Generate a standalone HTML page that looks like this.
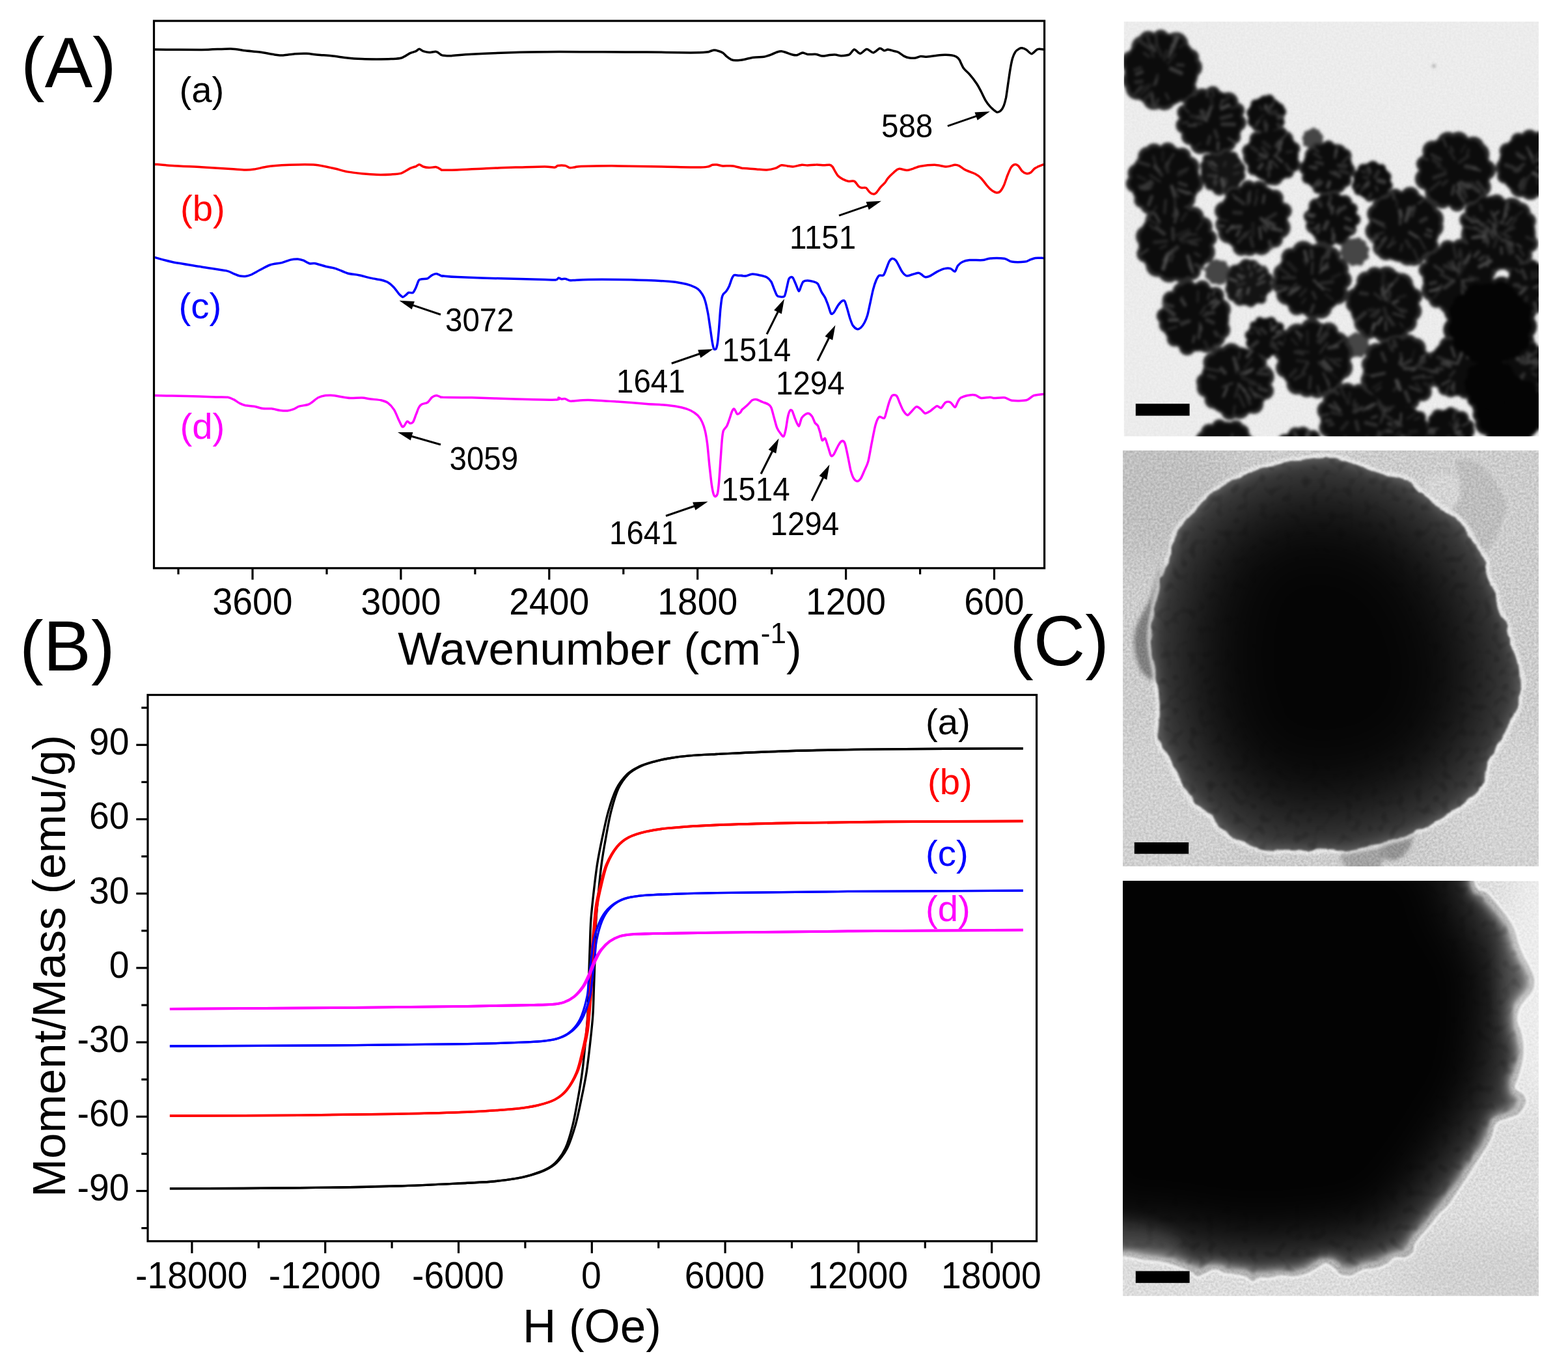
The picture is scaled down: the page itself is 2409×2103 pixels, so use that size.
<!DOCTYPE html>
<html lang="en"><head><meta charset="utf-8"><title>Figure</title>
<style>
html,body{margin:0;padding:0;background:#fff;}
body{width:2409px;height:2103px;overflow:hidden;}
svg{display:block;}
text{font-family:"Liberation Sans","DejaVu Sans",sans-serif;}
</style></head><body>
<svg width="2409" height="2103" viewBox="0 0 2409 2103">
<rect width="2409" height="2103" fill="#fff"/>
<g id="plotA">
<clipPath id="clipA"><rect x="236.5" y="32.1" width="1368.1" height="840.7"/></clipPath>
<g clip-path="url(#clipA)" fill="none" stroke-width="3.5" stroke-linejoin="round" stroke-linecap="round">
<path d="M236.8 76.0 C247.0 76.1 293.2 76.6 309.6 76.5 C326.1 76.3 345.0 74.7 354.4 74.9 C363.8 75.1 370.6 77.1 376.8 77.8 C383.1 78.5 393.0 79.2 399.2 80.0 C405.5 80.9 416.6 83.2 421.7 83.9 C426.7 84.5 430.7 85.1 435.1 85.0 C439.5 84.8 448.0 83.1 453.0 82.7 C458.0 82.4 465.9 82.1 470.9 82.3 C476.0 82.5 483.5 83.8 488.9 84.3 C494.2 84.8 502.8 85.0 509.0 85.7 C515.3 86.3 527.1 88.3 533.7 89.0 C540.3 89.7 549.8 90.3 556.1 90.6 C562.4 90.9 572.2 91.0 578.5 91.0 C584.8 91.0 595.6 90.9 600.9 90.6 C606.2 90.3 612.5 90.3 616.6 89.0 C620.7 87.8 626.9 83.1 630.0 81.6 C633.2 80.2 637.0 79.6 639.0 78.7 C641.0 77.8 642.6 75.3 644.2 75.3 C645.7 75.3 648.1 78.0 650.2 78.7 C652.3 79.4 656.3 80.4 659.2 80.5 C662.0 80.6 667.9 78.9 670.4 79.4 C672.9 79.8 675.7 83.1 677.1 83.9 C678.4 84.6 677.7 84.7 680.0 85.0 C682.3 85.2 687.2 85.9 693.4 85.7 C699.7 85.4 711.0 83.9 724.8 83.2 C738.6 82.5 773.2 81.0 792.0 80.5 C810.9 80.0 840.4 79.7 859.2 79.6 C878.1 79.5 907.6 79.8 926.5 79.8 C945.3 79.9 974.9 79.9 993.7 80.0 C1012.5 80.2 1048.0 80.9 1060.9 80.9 C1073.8 80.9 1081.2 80.4 1085.6 80.0 C1089.9 79.7 1090.6 78.7 1092.3 78.3 C1093.9 77.8 1095.6 77.1 1097.2 77.1 C1098.8 77.1 1101.7 77.7 1103.5 78.3 C1105.3 78.8 1108.3 79.7 1110.2 80.9 C1112.1 82.2 1115.0 85.7 1116.9 87.2 C1118.8 88.7 1121.8 90.9 1123.6 91.7 C1125.5 92.5 1128.1 92.8 1130.4 92.8 C1132.7 92.9 1138.7 92.2 1140.0 92.1 C1141.3 92.1 1137.5 92.7 1140.0 92.1 C1142.5 91.6 1153.2 89.0 1157.9 88.3 C1162.6 87.6 1169.8 87.8 1173.6 87.2 C1177.4 86.6 1182.0 84.9 1184.8 83.9 C1187.6 82.9 1191.6 80.8 1193.8 80.0 C1196.0 79.3 1198.6 78.6 1200.5 78.7 C1202.4 78.8 1204.7 79.7 1207.2 80.5 C1209.7 81.3 1215.9 83.7 1218.4 84.3 C1220.9 84.9 1223.1 85.0 1225.1 84.5 C1227.2 84.1 1230.8 81.1 1233.0 80.9 C1235.2 80.8 1237.8 83.1 1240.8 83.4 C1243.8 83.8 1251.1 83.0 1254.3 83.4 C1257.4 83.8 1260.4 85.9 1263.2 86.1 C1266.1 86.3 1271.6 84.8 1274.4 84.5 C1277.3 84.2 1280.9 83.9 1283.4 84.1 C1285.9 84.2 1289.4 85.7 1292.4 85.7 C1295.3 85.6 1301.9 85.2 1304.7 83.9 C1307.5 82.5 1310.2 76.2 1312.5 76.0 C1314.9 75.8 1318.8 82.4 1321.5 82.3 C1324.2 82.2 1328.8 75.8 1331.6 75.6 C1334.4 75.4 1338.8 81.1 1341.7 80.9 C1344.5 80.8 1349.4 74.7 1351.7 74.2 C1354.1 73.8 1356.7 77.6 1358.5 77.8 C1360.2 78.1 1362.0 76.0 1364.1 76.0 C1366.1 76.1 1370.8 77.7 1373.0 78.3 C1375.2 78.8 1377.6 79.0 1379.7 80.0 C1381.9 81.1 1386.2 84.8 1388.7 86.1 C1391.2 87.4 1395.2 88.6 1397.7 89.0 C1400.2 89.4 1404.3 89.4 1406.6 89.0 C1409.0 88.7 1412.3 86.8 1414.5 86.5 C1416.7 86.3 1419.0 87.4 1422.3 87.2 C1425.6 87.1 1433.9 85.8 1438.0 85.4 C1442.1 85.0 1448.0 84.4 1451.4 84.3 C1454.9 84.2 1460.1 84.6 1462.6 85.0 C1465.2 85.4 1467.8 86.3 1469.4 87.2 C1470.9 88.2 1472.3 89.2 1473.9 91.7 C1475.4 94.2 1478.4 102.0 1480.6 105.1 C1482.8 108.3 1486.7 110.8 1489.5 114.1 C1492.4 117.4 1498.2 124.9 1500.7 128.7 C1503.2 132.4 1505.6 137.4 1507.5 141.0 C1509.3 144.6 1512.3 151.3 1514.2 154.4 C1516.1 157.6 1519.0 161.3 1520.9 163.4 C1522.8 165.5 1526.1 168.4 1527.6 169.7 C1529.2 170.9 1530.7 172.4 1532.1 172.4 C1533.5 172.4 1536.3 171.1 1537.7 169.7 C1539.1 168.3 1541.1 165.0 1542.2 162.3 C1543.3 159.5 1544.6 154.8 1545.6 150.0 C1546.5 145.1 1548.0 133.8 1548.9 127.5 C1549.9 121.3 1551.3 110.5 1552.3 105.1 C1553.2 99.8 1554.5 93.1 1555.6 89.5 C1556.7 85.9 1558.7 81.4 1560.1 79.4 C1561.5 77.3 1564.3 75.7 1565.7 74.9 C1567.1 74.1 1568.6 73.6 1570.2 73.8 C1571.8 74.0 1574.9 75.2 1576.9 76.5 C1579.0 77.7 1582.6 82.7 1584.8 82.7 C1587.0 82.7 1590.9 77.5 1592.6 76.5 C1594.3 75.4 1595.7 75.4 1597.1 75.3 C1598.5 75.3 1601.9 75.9 1602.7 76.0" stroke="#000000"/>
<path d="M236.8 252.2 C240.7 252.5 254.6 253.8 264.8 254.4 C275.0 255.1 297.1 256.0 309.6 256.7 C322.2 257.4 345.0 258.8 354.4 259.4 C363.8 260.0 371.8 260.9 376.8 260.9 C381.9 261.0 385.6 260.7 390.3 260.0 C395.0 259.4 404.5 256.9 410.5 256.0 C416.4 255.1 426.3 254.2 432.9 253.8 C439.4 253.3 450.3 252.9 457.5 252.9 C464.7 252.8 476.9 252.6 484.4 253.3 C491.9 254.1 504.4 256.8 511.3 258.3 C518.2 259.7 527.4 262.7 533.7 263.9 C540.0 265.0 549.8 266.1 556.1 266.8 C562.4 267.4 572.2 268.2 578.5 268.3 C584.8 268.5 595.6 268.2 600.9 267.9 C606.2 267.6 612.5 267.4 616.6 266.1 C620.7 264.8 626.9 260.2 630.0 258.7 C633.2 257.2 637.0 256.4 639.0 255.6 C641.0 254.7 642.6 252.6 644.2 252.7 C645.7 252.7 648.1 255.3 650.2 256.0 C652.3 256.7 656.3 257.5 659.2 257.6 C662.0 257.7 667.7 256.2 670.4 256.7 C673.0 257.2 676.9 260.3 678.2 260.9 C679.6 261.6 676.6 261.2 680.0 261.2 C683.4 261.2 693.0 261.3 702.4 260.9 C711.8 260.6 734.7 259.2 747.2 258.7 C759.8 258.2 779.5 257.5 792.0 257.1 C804.6 256.8 828.4 256.0 836.8 256.0 C845.3 256.0 849.7 257.4 852.5 257.1 C855.4 256.9 854.8 254.8 857.0 254.4 C859.2 254.1 865.7 254.0 868.2 254.4 C870.7 254.9 873.1 257.2 874.9 257.6 C876.8 258.0 879.1 257.4 881.7 257.1 C884.2 256.9 883.4 255.9 892.9 255.6 C902.3 255.3 931.6 254.8 948.9 254.9 C966.1 255.0 998.8 255.7 1016.1 256.0 C1033.3 256.3 1062.1 257.1 1072.1 257.1 C1082.1 257.1 1084.7 256.5 1087.8 256.0 C1090.9 255.5 1092.6 253.7 1094.5 253.3 C1096.4 252.9 1099.0 252.9 1101.2 253.1 C1103.4 253.3 1106.7 254.6 1110.2 254.9 C1113.7 255.1 1121.7 254.4 1125.9 254.9 C1130.1 255.4 1138.0 257.8 1140.0 258.3 C1142.0 258.7 1136.9 258.0 1140.0 258.3 C1143.1 258.5 1157.1 259.7 1162.4 260.0 C1167.7 260.4 1174.0 261.2 1178.1 260.9 C1182.2 260.7 1188.4 259.3 1191.5 258.3 C1194.7 257.3 1198.0 254.2 1200.5 253.8 C1203.0 253.3 1206.9 254.6 1209.5 254.9 C1212.0 255.2 1215.3 256.2 1218.4 256.0 C1221.6 255.8 1228.7 253.6 1231.9 253.3 C1235.0 253.0 1237.7 254.1 1240.8 254.0 C1244.0 253.9 1250.8 252.9 1254.3 252.9 C1257.7 252.8 1262.7 253.7 1265.5 253.8 C1268.3 253.8 1272.6 253.0 1274.4 253.3 C1276.3 253.6 1277.7 254.5 1278.9 256.0 C1280.2 257.5 1282.1 261.8 1283.4 263.9 C1284.7 265.9 1286.3 269.0 1287.9 270.6 C1289.4 272.1 1292.4 274.0 1294.6 275.1 C1296.8 276.2 1301.1 278.0 1303.6 278.4 C1306.1 278.9 1310.3 277.3 1312.5 278.4 C1314.7 279.5 1317.7 284.9 1319.2 286.3 C1320.8 287.7 1322.2 288.2 1323.7 288.5 C1325.3 288.8 1328.7 287.6 1330.5 288.5 C1332.2 289.4 1334.5 293.9 1336.1 295.2 C1337.6 296.6 1340.2 298.0 1341.7 298.1 C1343.1 298.3 1344.6 297.9 1346.1 296.3 C1347.7 294.8 1351.0 289.6 1352.9 287.4 C1354.7 285.2 1358.0 282.5 1359.6 280.7 C1361.1 278.8 1362.2 276.1 1364.1 273.9 C1365.9 271.7 1370.7 267.0 1373.0 265.0 C1375.4 262.9 1378.0 259.8 1380.9 259.4 C1383.7 258.9 1390.2 261.6 1393.2 261.6 C1396.2 261.6 1399.3 260.2 1402.2 259.4 C1405.0 258.5 1408.7 256.4 1413.4 255.6 C1418.1 254.7 1430.1 253.3 1435.8 253.3 C1441.4 253.4 1449.3 256.0 1453.7 256.0 C1458.1 256.0 1464.3 253.5 1467.1 253.3 C1470.0 253.2 1471.7 253.8 1473.9 254.9 C1476.0 256.0 1479.4 259.2 1482.8 260.9 C1486.3 262.7 1495.0 265.4 1498.5 267.2 C1502.0 269.0 1505.0 271.4 1507.5 273.9 C1510.0 276.5 1514.2 282.6 1516.4 285.1 C1518.6 287.7 1521.1 290.4 1523.1 291.9 C1525.2 293.4 1529.1 295.6 1531.0 295.9 C1532.9 296.2 1535.0 295.6 1536.6 294.1 C1538.2 292.6 1540.6 288.6 1542.2 285.1 C1543.8 281.7 1546.2 273.4 1547.8 269.5 C1549.4 265.5 1551.8 259.5 1553.4 257.1 C1555.0 254.8 1557.4 253.0 1559.0 252.7 C1560.6 252.3 1563.0 253.5 1564.6 254.9 C1566.2 256.3 1568.5 261.1 1570.2 262.7 C1571.9 264.4 1575.0 266.2 1576.9 266.5 C1578.8 266.9 1581.8 266.1 1583.6 265.0 C1585.5 263.8 1587.7 260.0 1590.4 258.3 C1593.0 256.6 1601.0 253.6 1602.7 252.9" stroke="#ff0000"/>
<path d="M236.8 395.1 C240.7 396.1 254.6 400.4 264.8 402.5 C275.0 404.6 298.0 408.0 309.6 409.9 C321.2 411.8 340.8 414.5 347.7 415.9 C354.6 417.4 356.1 419.3 358.9 420.4 C361.7 421.5 365.4 423.2 367.9 423.8 C370.4 424.3 374.3 424.7 376.8 424.4 C379.4 424.2 382.7 423.3 385.8 422.0 C388.9 420.6 395.2 416.9 399.2 414.8 C403.3 412.7 410.2 408.5 414.9 407.0 C419.6 405.4 428.5 404.7 432.9 403.6 C437.3 402.5 442.9 399.9 446.3 399.1 C449.8 398.3 454.7 397.9 457.5 398.0 C460.3 398.2 464.0 399.3 466.5 400.2 C469.0 401.2 472.9 404.1 475.4 404.7 C477.9 405.4 480.9 404.1 484.4 404.7 C487.8 405.4 495.7 408.1 500.1 409.2 C504.5 410.3 511.1 411.1 515.8 412.6 C520.5 414.0 528.7 418.3 533.7 419.7 C538.7 421.2 546.6 421.6 551.6 422.7 C556.6 423.7 564.8 426.1 569.5 427.1 C574.2 428.2 581.5 429.1 585.2 430.0 C589.0 431.0 593.6 432.2 596.4 433.9 C599.2 435.5 603.0 439.2 605.4 441.7 C607.7 444.2 611.3 449.7 613.2 451.8 C615.1 453.8 617.4 456.0 618.8 456.3 C620.2 456.5 622.1 454.3 623.3 453.4 C624.6 452.4 626.2 450.1 627.8 449.5 C629.4 449.0 632.9 450.6 634.5 449.5 C636.1 448.4 637.7 444.4 639.0 441.7 C640.3 439.0 642.2 432.3 643.5 430.5 C644.7 428.7 646.1 429.1 648.0 428.7 C649.8 428.3 654.7 428.7 656.9 427.8 C659.1 427.0 661.8 423.7 663.6 422.7 C665.5 421.6 668.5 420.3 670.4 420.4 C672.2 420.5 675.7 422.8 677.1 423.3 C678.4 423.9 679.6 424.2 680.0 424.2 C680.4 424.3 676.9 423.6 680.0 423.8 C683.1 424.0 689.9 425.0 702.4 425.6 C715.0 426.1 750.8 427.3 769.6 427.8 C788.4 428.3 825.1 429.1 836.8 429.4 C848.6 429.7 850.7 430.4 853.6 430.0 C856.6 429.7 856.9 427.3 858.1 427.1 C859.4 426.9 861.2 428.5 862.6 428.7 C864.0 428.9 866.5 428.0 868.2 428.3 C869.9 428.5 873.1 430.2 874.9 430.5 C876.8 430.8 877.6 430.7 881.7 430.5 C885.7 430.3 894.7 429.5 904.1 429.4 C913.5 429.2 936.3 429.2 948.9 429.4 C961.4 429.5 982.7 430.1 993.7 430.5 C1004.7 430.9 1019.8 431.7 1027.3 432.3 C1034.8 432.9 1042.8 434.1 1047.5 435.0 C1052.2 435.8 1057.5 437.1 1060.9 438.3 C1064.4 439.6 1069.6 442.1 1072.1 443.9 C1074.6 445.8 1077.3 449.3 1078.8 451.8 C1080.4 454.3 1082.1 457.6 1083.3 461.9 C1084.6 466.1 1086.7 476.1 1087.8 482.0 C1088.9 488.0 1090.2 498.2 1091.2 504.4 C1092.1 510.7 1093.7 522.5 1094.5 526.8 C1095.3 531.2 1096.0 534.6 1096.8 535.8 C1097.5 537.1 1099.3 537.1 1100.1 535.8 C1100.9 534.6 1101.7 531.2 1102.4 526.8 C1103.0 522.5 1104.0 511.7 1104.6 504.4 C1105.2 497.2 1106.2 481.9 1106.8 475.3 C1107.5 468.7 1108.5 460.7 1109.1 457.4 C1109.7 454.1 1110.4 453.2 1111.3 451.8 C1112.3 450.4 1114.5 449.0 1115.8 447.3 C1117.1 445.6 1119.0 442.3 1120.3 439.5 C1121.5 436.6 1123.7 429.5 1124.8 427.1 C1125.9 424.8 1126.7 423.2 1128.1 422.7 C1129.5 422.1 1133.2 423.2 1134.8 423.3 C1136.5 423.4 1139.3 423.3 1140.0 423.3 C1140.7 423.4 1139.1 423.7 1140.0 423.8 C1140.9 423.8 1144.5 424.2 1146.7 423.8 C1148.9 423.4 1152.9 421.2 1155.7 421.1 C1158.5 420.9 1163.8 422.0 1166.9 422.7 C1170.0 423.3 1175.6 424.6 1178.1 426.0 C1180.6 427.4 1183.2 430.2 1184.8 432.7 C1186.4 435.2 1188.0 441.0 1189.3 443.9 C1190.5 446.9 1192.5 452.4 1193.8 454.0 C1195.0 455.7 1196.7 455.7 1198.3 455.8 C1199.8 456.0 1203.6 456.8 1205.0 455.1 C1206.4 453.5 1207.4 447.5 1208.3 443.9 C1209.3 440.3 1210.8 431.9 1211.7 429.4 C1212.6 426.8 1214.1 425.9 1215.1 425.6 C1216.0 425.3 1217.3 425.5 1218.4 427.1 C1219.5 428.8 1221.6 434.4 1222.9 437.2 C1224.2 440.0 1226.3 447.0 1227.4 447.3 C1228.5 447.6 1229.8 441.5 1230.7 439.5 C1231.7 437.4 1232.7 433.9 1234.1 432.7 C1235.5 431.5 1238.6 430.9 1240.8 430.9 C1243.0 430.9 1247.6 432.0 1249.8 432.7 C1252.0 433.5 1254.8 433.9 1256.5 436.1 C1258.2 438.3 1260.5 445.4 1262.1 448.4 C1263.7 451.4 1266.3 454.6 1267.7 457.4 C1269.1 460.2 1270.9 465.2 1272.2 468.6 C1273.5 472.0 1275.4 480.0 1276.7 481.6 C1277.9 483.2 1279.6 481.6 1281.2 479.8 C1282.7 478.0 1286.0 471.1 1287.9 468.6 C1289.8 466.1 1293.2 462.6 1294.6 461.9 C1296.0 461.1 1297.0 461.4 1298.0 463.0 C1298.9 464.6 1300.2 469.5 1301.3 473.1 C1302.4 476.7 1304.6 485.0 1305.8 488.8 C1307.1 492.5 1308.7 497.6 1310.3 500.0 C1311.9 502.3 1315.3 505.1 1317.0 505.6 C1318.7 506.0 1321.0 504.7 1322.6 503.3 C1324.2 501.9 1326.8 498.1 1328.2 495.5 C1329.6 492.8 1331.4 488.7 1332.7 484.3 C1333.9 479.9 1335.9 469.8 1337.2 464.1 C1338.4 458.5 1340.4 448.6 1341.7 443.9 C1342.9 439.2 1344.9 433.4 1346.1 430.5 C1347.4 427.6 1349.1 424.4 1350.6 423.3 C1352.2 422.2 1355.8 424.2 1357.3 422.7 C1358.9 421.1 1360.6 415.6 1361.8 412.6 C1363.1 409.6 1365.0 403.5 1366.3 401.4 C1367.6 399.2 1369.4 397.5 1370.8 397.3 C1372.2 397.2 1375.0 398.7 1376.4 400.2 C1377.8 401.8 1379.5 405.6 1380.9 408.1 C1382.3 410.6 1384.7 416.0 1386.5 418.2 C1388.2 420.4 1391.0 423.3 1393.2 423.8 C1395.4 424.2 1399.6 422.2 1402.2 421.5 C1404.7 420.9 1409.2 419.3 1411.1 419.3 C1413.0 419.3 1414.2 420.7 1415.6 421.5 C1417.0 422.4 1419.3 425.3 1421.2 425.6 C1423.1 425.9 1426.4 425.0 1429.0 423.8 C1431.7 422.6 1437.1 418.6 1440.2 417.1 C1443.4 415.5 1448.6 413.2 1451.4 412.6 C1454.3 411.9 1458.2 411.9 1460.4 412.6 C1462.6 413.2 1465.6 417.7 1467.1 417.1 C1468.7 416.4 1470.0 410.1 1471.6 408.1 C1473.2 406.1 1475.8 403.7 1478.3 402.5 C1480.8 401.3 1485.1 400.0 1489.5 399.6 C1493.9 399.2 1505.3 400.0 1509.7 399.6 C1514.1 399.2 1516.2 397.2 1520.9 396.9 C1525.6 396.6 1538.6 396.6 1543.3 397.3 C1548.0 398.1 1550.1 401.4 1554.5 402.0 C1558.9 402.7 1570.9 402.4 1574.7 402.0 C1578.4 401.7 1579.2 400.4 1581.4 399.6 C1583.6 398.8 1587.4 396.9 1590.4 396.4 C1593.3 396.0 1601.0 396.4 1602.7 396.4" stroke="#0000ff"/>
<path d="M236.8 607.6 C243.9 607.8 273.9 608.2 287.2 608.5 C300.6 608.9 323.2 609.6 332.0 609.9 C340.8 610.1 346.2 609.8 350.0 610.3 C353.7 610.9 356.4 612.4 358.9 613.7 C361.4 614.9 365.4 618.0 367.9 619.3 C370.4 620.5 373.7 622.0 376.8 622.7 C380.0 623.3 386.5 623.5 390.3 624.2 C394.1 624.9 400.0 627.1 403.7 627.6 C407.5 628.1 413.4 627.4 417.2 627.8 C420.9 628.2 427.2 630.1 430.6 630.5 C434.1 630.9 439.0 631.2 441.8 630.9 C444.6 630.7 448.3 629.6 450.8 628.7 C453.3 627.8 456.6 625.2 459.7 624.2 C462.9 623.2 470.4 622.5 473.2 621.5 C476.0 620.6 477.7 619.0 479.9 617.5 C482.1 616.0 486.1 612.2 488.9 610.8 C491.7 609.4 496.9 608.1 500.1 607.6 C503.2 607.2 508.1 607.2 511.3 607.4 C514.4 607.6 518.7 608.6 522.5 609.2 C526.2 609.8 533.5 611.2 538.2 611.5 C542.9 611.7 551.7 610.8 556.1 611.0 C560.5 611.2 565.5 612.5 569.5 613.0 C573.6 613.6 581.5 613.9 585.2 614.8 C589.0 615.7 593.6 617.3 596.4 619.3 C599.2 621.3 603.2 625.9 605.4 629.4 C607.6 632.8 610.4 640.3 612.1 643.9 C613.8 647.5 616.5 653.7 617.7 655.1 C619.0 656.6 620.0 655.1 621.1 654.0 C622.2 652.9 624.3 647.8 625.6 647.3 C626.8 646.8 628.8 650.1 630.0 650.2 C631.3 650.4 633.3 650.2 634.5 648.4 C635.8 646.6 637.7 640.4 639.0 637.2 C640.3 634.1 642.2 628.3 643.5 626.0 C644.7 623.8 646.1 622.2 648.0 621.1 C649.8 620.0 654.7 619.7 656.9 618.2 C659.1 616.7 661.8 611.8 663.6 610.3 C665.5 608.8 668.5 607.5 670.4 607.4 C672.2 607.4 675.7 609.5 677.1 609.9 C678.4 610.3 679.6 610.3 680.0 610.3 C680.4 610.4 673.7 610.3 680.0 610.3 C686.3 610.4 709.1 610.4 724.8 610.8 C740.5 611.2 774.0 612.5 792.0 613.0 C810.1 613.5 844.4 614.4 853.6 614.1 C862.9 613.9 856.9 611.2 858.1 611.0 C859.4 610.8 861.2 612.8 862.6 613.0 C864.0 613.2 866.5 612.2 868.2 612.6 C869.9 613.0 873.1 615.5 874.9 615.9 C876.8 616.4 877.6 616.2 881.7 615.9 C885.7 615.7 894.7 614.2 904.1 614.4 C913.5 614.5 936.3 616.2 948.9 617.1 C961.4 617.9 982.7 619.6 993.7 620.4 C1004.7 621.2 1019.8 621.9 1027.3 622.7 C1034.8 623.4 1042.8 624.9 1047.5 626.0 C1052.2 627.1 1057.5 628.8 1060.9 630.5 C1064.4 632.2 1069.6 635.8 1072.1 638.3 C1074.6 640.8 1077.3 645.1 1078.8 648.4 C1080.4 651.7 1082.2 657.2 1083.3 661.9 C1084.4 666.6 1085.7 674.5 1086.7 682.0 C1087.6 689.6 1089.1 706.9 1090.0 715.6 C1091.0 724.4 1092.5 738.7 1093.4 744.8 C1094.3 750.9 1095.5 756.8 1096.3 759.3 C1097.1 761.8 1098.1 762.9 1099.0 762.7 C1099.8 762.5 1101.6 761.3 1102.4 758.2 C1103.1 755.1 1104.0 747.2 1104.6 740.3 C1105.2 733.4 1106.2 717.7 1106.8 708.9 C1107.5 700.1 1108.5 684.1 1109.1 677.5 C1109.7 671.0 1110.2 665.2 1111.3 661.9 C1112.4 658.6 1115.5 656.8 1116.9 654.0 C1118.3 651.2 1120.3 644.8 1121.4 641.7 C1122.5 638.6 1123.8 633.5 1124.8 631.6 C1125.7 629.7 1127.0 627.6 1128.1 628.3 C1129.2 628.9 1131.4 635.3 1132.6 636.1 C1133.9 636.9 1136.1 634.8 1137.1 633.9 C1138.1 632.9 1139.6 630.0 1140.0 629.4 C1140.4 628.7 1138.7 630.5 1140.0 629.4 C1141.3 628.3 1146.8 623.6 1149.0 621.5 C1151.2 619.5 1153.8 615.9 1155.7 614.8 C1157.6 613.7 1160.2 613.3 1162.4 613.7 C1164.6 614.1 1168.9 616.5 1171.4 617.5 C1173.9 618.5 1178.4 619.9 1180.3 621.1 C1182.2 622.3 1183.6 623.1 1184.8 626.0 C1186.1 628.9 1188.0 637.3 1189.3 641.7 C1190.5 646.1 1192.4 653.9 1193.8 657.4 C1195.2 660.8 1198.0 664.5 1199.4 666.3 C1200.8 668.2 1202.8 671.3 1203.9 670.4 C1205.0 669.4 1206.3 664.0 1207.2 659.6 C1208.2 655.3 1209.6 643.5 1210.6 639.5 C1211.5 635.4 1213.0 631.6 1213.9 630.5 C1214.9 629.4 1216.2 629.7 1217.3 631.6 C1218.4 633.5 1220.4 640.7 1221.8 643.9 C1223.2 647.2 1226.0 655.0 1227.4 654.7 C1228.8 654.4 1230.0 644.5 1231.9 641.7 C1233.7 638.9 1238.6 635.3 1240.8 635.0 C1243.0 634.7 1246.0 637.4 1247.5 639.5 C1249.1 641.5 1250.8 647.5 1252.0 649.5 C1253.3 651.6 1255.4 652.0 1256.5 654.0 C1257.6 656.1 1258.9 661.0 1259.9 664.1 C1260.8 667.2 1262.1 675.1 1263.2 676.4 C1264.3 677.7 1266.5 672.1 1267.7 673.5 C1269.0 674.9 1270.9 682.8 1272.2 686.5 C1273.5 690.2 1275.4 698.4 1276.7 700.0 C1277.9 701.5 1279.6 699.9 1281.2 697.7 C1282.7 695.5 1286.2 687.1 1287.9 684.3 C1289.6 681.4 1292.1 678.0 1293.5 677.5 C1294.9 677.1 1296.7 677.8 1298.0 680.9 C1299.2 684.0 1301.2 694.2 1302.4 700.0 C1303.7 705.8 1305.7 717.5 1306.9 722.4 C1308.2 727.2 1310.0 732.3 1311.4 734.7 C1312.8 737.0 1315.4 739.2 1317.0 739.2 C1318.6 739.2 1321.0 737.0 1322.6 734.7 C1324.2 732.3 1326.6 726.0 1328.2 722.4 C1329.8 718.8 1332.2 714.9 1333.8 708.9 C1335.4 703.0 1337.8 687.6 1339.4 679.8 C1341.0 671.9 1343.4 658.4 1345.0 652.9 C1346.6 647.4 1348.7 642.1 1350.6 640.6 C1352.5 639.1 1356.9 643.5 1358.5 642.4 C1360.0 641.3 1360.7 636.3 1361.8 632.7 C1362.9 629.2 1365.0 620.6 1366.3 617.1 C1367.6 613.5 1369.2 608.9 1370.8 607.6 C1372.4 606.4 1375.9 606.6 1377.5 608.1 C1379.1 609.6 1380.6 615.0 1382.0 618.2 C1383.4 621.3 1385.9 627.8 1387.6 630.5 C1389.3 633.2 1392.6 637.4 1394.3 637.7 C1396.0 638.0 1398.0 634.5 1399.9 632.7 C1401.8 630.9 1405.7 625.5 1407.8 624.9 C1409.8 624.3 1412.6 626.8 1414.5 628.3 C1416.4 629.7 1419.2 634.5 1421.2 635.0 C1423.2 635.4 1426.5 633.2 1429.0 631.6 C1431.5 630.0 1436.8 624.5 1439.1 623.8 C1441.5 623.1 1444.0 627.5 1445.8 626.7 C1447.7 625.9 1450.5 619.4 1452.6 618.2 C1454.6 617.0 1458.4 617.1 1460.4 618.2 C1462.4 619.2 1465.6 625.7 1467.1 625.6 C1468.7 625.4 1470.4 619.1 1471.6 617.1 C1472.9 615.0 1473.6 612.4 1476.1 611.0 C1478.6 609.6 1486.4 607.5 1489.5 607.0 C1492.7 606.4 1496.0 606.3 1498.5 607.0 C1501.0 607.6 1504.3 611.0 1507.5 611.5 C1510.6 611.9 1518.1 610.3 1520.9 610.3 C1523.7 610.3 1524.5 611.4 1527.6 611.5 C1530.8 611.5 1539.5 610.2 1543.3 610.8 C1547.1 611.3 1549.8 614.7 1554.5 615.3 C1559.2 615.8 1572.2 615.9 1576.9 614.8 C1581.6 613.7 1584.5 609.0 1588.1 607.6 C1591.7 606.3 1600.6 605.7 1602.7 605.4" stroke="#ff00ff"/>
</g>
<rect x="236.5" y="32.1" width="1368.1" height="840.7" fill="none" stroke="#000" stroke-width="3.2"/>
<line x1="1527.5" y1="872.8" x2="1527.5" y2="890.5" stroke="#000" stroke-width="3.2"/>
<text transform="translate(1527.5,943.7) scale(1,1.040)" font-size="55.3" fill="#000" text-anchor="middle" >600</text>
<line x1="1299.6" y1="872.8" x2="1299.6" y2="890.5" stroke="#000" stroke-width="3.2"/>
<text transform="translate(1299.6,943.7) scale(1,1.040)" font-size="55.3" fill="#000" text-anchor="middle" >1200</text>
<line x1="1071.7" y1="872.8" x2="1071.7" y2="890.5" stroke="#000" stroke-width="3.2"/>
<text transform="translate(1071.7,943.7) scale(1,1.040)" font-size="55.3" fill="#000" text-anchor="middle" >1800</text>
<line x1="843.8" y1="872.8" x2="843.8" y2="890.5" stroke="#000" stroke-width="3.2"/>
<text transform="translate(843.8,943.7) scale(1,1.040)" font-size="55.3" fill="#000" text-anchor="middle" >2400</text>
<line x1="615.9" y1="872.8" x2="615.9" y2="890.5" stroke="#000" stroke-width="3.2"/>
<text transform="translate(615.9,943.7) scale(1,1.040)" font-size="55.3" fill="#000" text-anchor="middle" >3000</text>
<line x1="388.0" y1="872.8" x2="388.0" y2="890.5" stroke="#000" stroke-width="3.2"/>
<text transform="translate(388.0,943.7) scale(1,1.040)" font-size="55.3" fill="#000" text-anchor="middle" >3600</text>
<line x1="1413.6" y1="872.8" x2="1413.6" y2="882.3" stroke="#000" stroke-width="3.2"/>
<line x1="1185.7" y1="872.8" x2="1185.7" y2="882.3" stroke="#000" stroke-width="3.2"/>
<line x1="957.8" y1="872.8" x2="957.8" y2="882.3" stroke="#000" stroke-width="3.2"/>
<line x1="729.9" y1="872.8" x2="729.9" y2="882.3" stroke="#000" stroke-width="3.2"/>
<line x1="502.0" y1="872.8" x2="502.0" y2="882.3" stroke="#000" stroke-width="3.2"/>
<line x1="274.0" y1="872.8" x2="274.0" y2="882.3" stroke="#000" stroke-width="3.2"/>
<text x="611.2" y="1021.3" font-size="71" fill="#000">Wavenumber (cm<tspan font-size="44" dy="-33.8">-1</tspan><tspan dy="33.8">)</tspan></text>
<text x="275.4" y="157.4" font-size="56.3" fill="#000000" text-anchor="start" >(a)</text>
<text x="277.0" y="338.5" font-size="56.3" fill="#ff0000" text-anchor="start" >(b)</text>
<text x="274.5" y="488.5" font-size="56.3" fill="#0000ff" text-anchor="start" >(c)</text>
<text x="276.5" y="674.0" font-size="56.3" fill="#ff00ff" text-anchor="start" >(d)</text>
<text transform="translate(1354.0,211.2) scale(1,1.040)" font-size="47.5" fill="#000" text-anchor="start" >588</text>
<text transform="translate(1213.0,381.7) scale(1,1.040)" font-size="47.5" fill="#000" text-anchor="start" >1151</text>
<text transform="translate(684.0,508.7) scale(1,1.040)" font-size="47.5" fill="#000" text-anchor="start" >3072</text>
<text transform="translate(947.0,603.2) scale(1,1.040)" font-size="47.5" fill="#000" text-anchor="start" >1641</text>
<text transform="translate(1109.5,554.5) scale(1,1.040)" font-size="47.5" fill="#000" text-anchor="start" >1514</text>
<text transform="translate(1192.0,605.7) scale(1,1.040)" font-size="47.5" fill="#000" text-anchor="start" >1294</text>
<text transform="translate(690.5,722.2) scale(1,1.040)" font-size="47.5" fill="#000" text-anchor="start" >3059</text>
<text transform="translate(936.0,836.2) scale(1,1.040)" font-size="47.5" fill="#000" text-anchor="start" >1641</text>
<text transform="translate(1108.0,768.7) scale(1,1.040)" font-size="47.5" fill="#000" text-anchor="start" >1514</text>
<text transform="translate(1183.5,822.0) scale(1,1.040)" font-size="47.5" fill="#000" text-anchor="start" >1294</text>
<line x1="1455.9" y1="193.6" x2="1501.5" y2="177.9" stroke="#000" stroke-width="3.1"/><polygon points="1520.9,171.2 1501.7,184.7 1497.5,172.4" fill="#000"/>
<line x1="1289.0" y1="331.1" x2="1334.6" y2="315.4" stroke="#000" stroke-width="3.1"/><polygon points="1354.0,308.7 1334.8,322.2 1330.6,309.9" fill="#000"/>
<line x1="677.0" y1="483.3" x2="632.9" y2="468.4" stroke="#000" stroke-width="3.1"/><polygon points="613.5,461.8 636.9,462.9 632.7,475.2" fill="#000"/>
<line x1="1031.8" y1="558.2" x2="1076.2" y2="543.0" stroke="#000" stroke-width="3.1"/><polygon points="1095.6,536.3 1076.4,549.8 1072.2,537.5" fill="#000"/>
<line x1="1178.1" y1="513.4" x2="1195.9" y2="477.6" stroke="#000" stroke-width="3.1"/><polygon points="1205.0,459.2 1200.8,482.2 1189.2,476.5" fill="#000"/>
<line x1="1256.1" y1="554.2" x2="1274.2" y2="517.8" stroke="#000" stroke-width="3.1"/><polygon points="1283.4,499.5 1279.2,522.5 1267.5,516.7" fill="#000"/>
<line x1="677.0" y1="683.0" x2="630.7" y2="669.7" stroke="#000" stroke-width="3.1"/><polygon points="611.0,664.1 634.4,664.0 630.8,676.5" fill="#000"/>
<line x1="1023.0" y1="792.5" x2="1068.2" y2="777.0" stroke="#000" stroke-width="3.1"/><polygon points="1087.6,770.4 1068.4,783.8 1064.2,771.5" fill="#000"/>
<line x1="1169.1" y1="728.0" x2="1187.3" y2="691.8" stroke="#000" stroke-width="3.1"/><polygon points="1196.5,673.5 1192.2,696.5 1180.6,690.7" fill="#000"/>
<line x1="1247.1" y1="769.4" x2="1265.4" y2="732.2" stroke="#000" stroke-width="3.1"/><polygon points="1274.4,713.8 1270.3,736.9 1258.6,731.1" fill="#000"/>
</g>
<g id="plotB">
<g fill="none" stroke-linejoin="round" stroke-linecap="butt">
<path d="M260.9 1825.9 C294.0 1825.7 401.3 1825.5 459.3 1824.8 C517.3 1824.1 565.7 1823.3 608.8 1822.0 C652.0 1820.7 692.9 1818.4 717.9 1817.2 C742.9 1815.9 746.5 1815.9 758.9 1814.7 C771.3 1813.6 783.0 1812.0 792.3 1810.4 C801.5 1808.8 807.1 1807.4 814.4 1805.3 C821.8 1803.1 830.0 1800.6 836.5 1797.4 C842.9 1794.3 847.8 1791.8 853.2 1786.2 C858.6 1780.6 864.3 1773.5 868.7 1763.8 C873.2 1754.0 876.8 1740.9 880.0 1727.9 C883.3 1714.8 885.9 1698.7 888.4 1685.2 C890.8 1671.7 892.8 1660.1 894.5 1647.0 C896.3 1633.9 897.5 1620.8 898.8 1606.6 C900.2 1592.4 901.9 1575.5 902.7 1561.7 C903.6 1548.0 903.6 1536.6 904.0 1524.1 C904.4 1511.6 904.7 1499.3 905.1 1486.9 C905.5 1474.5 905.9 1462.3 906.4 1449.9 C906.8 1437.5 906.9 1426.2 907.9 1412.5 C908.9 1398.8 910.8 1382.0 912.4 1367.9 C914.0 1353.8 915.5 1340.7 917.5 1327.7 C919.6 1314.7 921.9 1303.1 924.7 1289.7 C927.6 1276.3 930.7 1260.3 934.4 1247.3 C938.1 1234.3 942.2 1221.3 947.1 1211.6 C952.0 1201.9 958.0 1194.9 963.6 1189.3 C969.2 1183.7 974.2 1181.3 980.8 1178.1 C987.4 1174.9 995.7 1172.5 1003.2 1170.3 C1010.7 1168.2 1016.3 1166.8 1025.6 1165.2 C1035.0 1163.6 1046.8 1162.0 1059.2 1160.9 C1071.7 1159.8 1075.2 1159.7 1100.3 1158.5 C1125.3 1157.3 1166.4 1155.0 1209.6 1153.7 C1252.8 1152.4 1298.9 1151.6 1359.3 1150.9 C1419.6 1150.2 1536.4 1149.9 1571.8 1149.7" stroke="#000000" stroke-width="3.4"/>
<path d="M260.9 1825.9 C294.0 1825.7 401.3 1825.5 459.3 1824.8 C517.3 1824.1 565.8 1823.3 609.0 1822.0 C652.1 1820.7 693.2 1818.4 718.3 1817.2 C743.3 1815.9 746.9 1815.9 759.3 1814.7 C771.8 1813.6 783.6 1812.0 792.9 1810.4 C802.3 1808.8 807.9 1807.4 815.4 1805.3 C822.8 1803.1 831.1 1800.6 837.7 1797.4 C844.3 1794.3 849.4 1791.8 855.0 1786.2 C860.6 1780.6 866.6 1773.5 871.5 1763.8 C876.3 1754.0 880.4 1740.9 884.2 1727.9 C887.9 1714.8 891.0 1698.7 893.8 1685.2 C896.7 1671.7 899.0 1660.1 901.1 1647.0 C903.1 1633.9 904.6 1620.8 906.2 1606.6 C907.8 1592.4 909.7 1575.5 910.7 1561.7 C911.7 1548.0 911.8 1536.6 912.2 1524.1 C912.7 1511.6 913.1 1499.3 913.5 1486.9 C913.9 1474.5 914.3 1462.3 914.6 1449.9 C915.0 1437.5 915.0 1426.2 915.9 1412.5 C916.8 1398.8 918.4 1382.0 919.8 1367.9 C921.1 1353.8 922.3 1340.7 924.1 1327.7 C925.8 1314.7 927.8 1303.1 930.3 1289.7 C932.7 1276.3 935.3 1260.3 938.6 1247.3 C941.9 1234.3 945.4 1221.3 949.9 1211.6 C954.4 1201.9 960.0 1194.9 965.4 1189.3 C970.8 1183.7 975.7 1181.3 982.2 1178.1 C988.6 1174.9 996.8 1172.5 1004.2 1170.3 C1011.6 1168.2 1017.1 1166.8 1026.4 1165.2 C1035.6 1163.6 1047.4 1162.0 1059.8 1160.9 C1072.2 1159.8 1075.7 1159.7 1100.7 1158.5 C1125.7 1157.3 1166.7 1155.0 1209.8 1153.7 C1252.9 1152.4 1299.0 1151.6 1359.3 1150.9 C1419.7 1150.2 1536.4 1149.9 1571.8 1149.7" stroke="#000000" stroke-width="3.4"/>
<path d="M260.9 1714.1 C294.0 1714.0 401.2 1713.7 459.3 1713.2 C517.4 1712.7 566.2 1712.0 609.3 1711.2 C652.4 1710.3 687.5 1709.5 718.1 1708.2 C748.6 1706.8 774.5 1704.9 792.5 1703.2 C810.5 1701.5 815.9 1700.3 826.0 1698.0 C836.0 1695.6 845.2 1692.9 852.6 1689.0 C860.0 1685.1 864.8 1681.3 870.3 1674.4 C875.9 1667.4 881.7 1657.1 885.7 1647.4 C889.7 1637.6 891.9 1626.4 894.4 1615.9 C896.9 1605.4 899.3 1595.5 900.9 1584.4 C902.6 1573.3 903.2 1560.6 904.2 1549.4 C905.1 1538.2 906.0 1527.6 906.6 1517.1 C907.3 1506.7 907.6 1496.9 908.1 1486.9 C908.6 1476.9 908.9 1467.2 909.6 1456.9 C910.3 1446.6 911.2 1436.0 912.2 1424.9 C913.2 1413.8 914.0 1401.2 915.7 1390.2 C917.5 1379.2 919.9 1369.3 922.6 1358.9 C925.2 1348.5 927.5 1337.4 931.7 1327.7 C935.9 1318.0 941.9 1307.8 947.5 1300.9 C953.2 1294.0 958.1 1290.3 965.5 1286.4 C973.0 1282.5 982.3 1279.8 992.3 1277.5 C1002.4 1275.2 1007.9 1274.0 1025.9 1272.3 C1043.9 1270.6 1069.9 1268.7 1100.4 1267.4 C1131.0 1266.1 1166.1 1265.2 1209.3 1264.4 C1252.4 1263.6 1298.9 1262.9 1359.3 1262.4 C1419.7 1261.9 1536.4 1261.6 1571.8 1261.4" stroke="#ff0000" stroke-width="3.6"/>
<path d="M260.9 1714.1 C294.0 1714.0 401.2 1713.7 459.3 1713.2 C517.4 1712.7 566.2 1712.0 609.3 1711.2 C652.5 1710.3 687.6 1709.5 718.1 1708.2 C748.7 1706.8 774.7 1704.9 792.7 1703.2 C810.7 1701.5 816.2 1700.3 826.2 1698.0 C836.3 1695.6 845.6 1692.9 853.0 1689.0 C860.5 1685.1 865.4 1681.3 871.1 1674.4 C876.7 1667.4 882.7 1657.1 886.9 1647.4 C891.0 1637.6 893.3 1626.4 896.0 1615.9 C898.7 1605.4 901.1 1595.5 902.9 1584.4 C904.6 1573.3 905.4 1560.6 906.4 1549.4 C907.4 1538.2 908.3 1527.6 909.0 1517.1 C909.7 1506.7 910.0 1496.9 910.5 1486.9 C911.0 1476.9 911.3 1467.2 912.0 1456.9 C912.6 1446.6 913.5 1436.0 914.4 1424.9 C915.4 1413.8 916.0 1401.2 917.7 1390.2 C919.3 1379.2 921.7 1369.3 924.2 1358.9 C926.8 1348.5 928.9 1337.4 932.9 1327.7 C936.9 1318.0 942.8 1307.8 948.3 1300.9 C953.8 1294.0 958.7 1290.3 966.1 1286.4 C973.4 1282.5 982.7 1279.8 992.7 1277.5 C1002.7 1275.2 1008.1 1274.0 1026.1 1272.3 C1044.1 1270.6 1070.0 1268.7 1100.6 1267.4 C1131.1 1266.1 1166.2 1265.2 1209.3 1264.4 C1252.5 1263.6 1298.9 1262.9 1359.3 1262.4 C1419.7 1261.9 1536.4 1261.6 1571.8 1261.4" stroke="#ff0000" stroke-width="3.6"/>
<path d="M260.9 1607.0 C302.3 1606.8 433.1 1606.5 509.3 1605.9 C585.5 1605.3 667.1 1604.4 718.0 1603.6 C768.9 1602.7 793.0 1601.7 814.7 1600.6 C836.4 1599.6 839.2 1599.0 848.0 1597.3 C856.9 1595.6 862.0 1593.7 867.9 1590.5 C873.7 1587.3 878.7 1583.1 883.0 1578.0 C887.3 1573.0 890.4 1567.9 893.6 1560.0 C896.7 1552.1 900.2 1539.0 902.0 1530.5 C903.7 1522.1 903.5 1516.5 904.3 1509.2 C905.1 1501.9 905.9 1494.3 906.7 1486.9 C907.5 1479.5 908.4 1472.1 909.3 1464.9 C910.2 1457.7 910.1 1452.2 912.1 1443.8 C914.2 1435.4 918.2 1422.5 921.8 1414.7 C925.3 1406.9 928.8 1401.9 933.4 1396.9 C938.0 1391.9 943.4 1387.8 949.4 1384.6 C955.5 1381.4 960.8 1379.6 969.8 1377.9 C978.8 1376.2 981.7 1375.6 1003.4 1374.6 C1025.2 1373.6 1049.4 1372.6 1100.3 1371.7 C1151.3 1370.8 1230.7 1370.0 1309.2 1369.4 C1387.8 1368.8 1528.0 1368.4 1571.8 1368.2" stroke="#0000ff" stroke-width="3.3"/>
<path d="M260.9 1607.0 C302.3 1606.8 433.1 1606.5 509.3 1605.9 C585.5 1605.3 667.2 1604.4 718.2 1603.6 C769.2 1602.7 793.4 1601.7 815.1 1600.6 C836.9 1599.6 839.8 1599.0 848.8 1597.3 C857.8 1595.6 863.1 1593.7 869.1 1590.5 C875.2 1587.3 880.6 1583.1 885.2 1578.0 C889.8 1573.0 893.3 1567.9 896.8 1560.0 C900.4 1552.1 904.4 1539.0 906.4 1530.5 C908.5 1522.1 908.4 1516.5 909.3 1509.2 C910.2 1501.9 911.1 1494.3 911.9 1486.9 C912.7 1479.5 913.5 1472.1 914.3 1464.9 C915.1 1457.7 914.9 1452.2 916.7 1443.8 C918.4 1435.4 921.9 1422.5 925.0 1414.7 C928.2 1406.9 931.3 1401.9 935.6 1396.9 C939.9 1391.9 944.9 1387.8 950.8 1384.6 C956.6 1381.4 961.7 1379.6 970.6 1377.9 C979.5 1376.2 982.3 1375.6 1004.0 1374.6 C1025.6 1373.6 1049.8 1372.6 1100.7 1371.7 C1151.5 1370.8 1230.8 1370.0 1309.4 1369.4 C1387.9 1368.8 1528.1 1368.4 1571.8 1368.2" stroke="#0000ff" stroke-width="3.3"/>
<path d="M260.9 1549.9 C302.3 1549.6 433.1 1548.8 509.3 1548.2 C585.5 1547.5 667.2 1546.5 718.1 1545.8 C769.0 1545.1 793.2 1544.5 814.9 1544.0 C836.6 1543.5 839.8 1543.6 848.3 1542.8 C856.9 1542.1 860.5 1541.6 866.1 1539.7 C871.6 1537.8 876.7 1535.1 881.5 1531.2 C886.2 1527.4 890.9 1522.0 894.6 1516.7 C898.3 1511.5 901.1 1504.8 903.4 1499.8 C905.8 1494.8 906.8 1491.0 908.5 1486.9 C910.2 1482.8 911.3 1479.6 913.6 1475.0 C916.0 1470.4 919.0 1464.2 922.8 1459.4 C926.6 1454.6 931.5 1449.5 936.4 1446.0 C941.3 1442.5 946.6 1440.0 952.2 1438.2 C957.8 1436.4 961.5 1436.0 970.0 1435.3 C978.6 1434.6 981.8 1434.7 1003.6 1434.2 C1025.3 1433.8 1049.4 1433.2 1100.4 1432.6 C1151.3 1432.0 1230.7 1431.1 1309.3 1430.4 C1387.8 1429.8 1528.0 1429.0 1571.8 1428.7" stroke="#ff00ff" stroke-width="3.8"/>
<path d="M260.9 1549.9 C302.3 1549.6 433.1 1548.8 509.3 1548.2 C585.5 1547.5 667.2 1546.5 718.1 1545.8 C769.0 1545.1 793.2 1544.5 814.9 1544.0 C836.7 1543.5 839.9 1543.6 848.5 1542.8 C857.0 1542.1 860.7 1541.6 866.3 1539.7 C872.0 1537.8 877.2 1535.1 882.1 1531.2 C887.0 1527.4 892.0 1522.0 895.8 1516.7 C899.6 1511.5 902.6 1504.8 905.0 1499.8 C907.3 1494.8 908.4 1491.0 910.1 1486.9 C911.8 1482.8 912.8 1479.6 915.2 1475.0 C917.5 1470.4 920.3 1464.2 924.0 1459.4 C927.7 1454.6 932.4 1449.5 937.2 1446.0 C942.0 1442.5 947.1 1440.0 952.6 1438.2 C958.2 1436.4 961.8 1436.0 970.4 1435.3 C978.9 1434.6 982.1 1434.7 1003.8 1434.2 C1025.5 1433.8 1049.7 1433.2 1100.6 1432.6 C1151.5 1432.0 1230.8 1431.1 1309.3 1430.4 C1387.9 1429.8 1528.1 1429.0 1571.8 1428.7" stroke="#ff00ff" stroke-width="3.8"/>
</g>
<rect x="227.0" y="1067.5" width="1365.6" height="839.2" fill="none" stroke="#000" stroke-width="3.2"/>
<line x1="294.9" y1="1906.7" x2="294.9" y2="1925.2" stroke="#000" stroke-width="3.2"/>
<text transform="translate(294.1,1978.5) scale(1,1.040)" font-size="55.3" fill="#000" text-anchor="middle" >-18000</text>
<line x1="499.7" y1="1906.7" x2="499.7" y2="1925.2" stroke="#000" stroke-width="3.2"/>
<text transform="translate(498.9,1978.5) scale(1,1.040)" font-size="55.3" fill="#000" text-anchor="middle" >-12000</text>
<line x1="704.5" y1="1906.7" x2="704.5" y2="1925.2" stroke="#000" stroke-width="3.2"/>
<text transform="translate(703.7,1978.5) scale(1,1.040)" font-size="55.3" fill="#000" text-anchor="middle" >-6000</text>
<line x1="909.3" y1="1906.7" x2="909.3" y2="1925.2" stroke="#000" stroke-width="3.2"/>
<text transform="translate(908.5,1978.5) scale(1,1.040)" font-size="55.3" fill="#000" text-anchor="middle" >0</text>
<line x1="1114.1" y1="1906.7" x2="1114.1" y2="1925.2" stroke="#000" stroke-width="3.2"/>
<text transform="translate(1113.3,1978.5) scale(1,1.040)" font-size="55.3" fill="#000" text-anchor="middle" >6000</text>
<line x1="1318.9" y1="1906.7" x2="1318.9" y2="1925.2" stroke="#000" stroke-width="3.2"/>
<text transform="translate(1318.1,1978.5) scale(1,1.040)" font-size="55.3" fill="#000" text-anchor="middle" >12000</text>
<line x1="1523.7" y1="1906.7" x2="1523.7" y2="1925.2" stroke="#000" stroke-width="3.2"/>
<text transform="translate(1522.9,1978.5) scale(1,1.040)" font-size="55.3" fill="#000" text-anchor="middle" >18000</text>
<line x1="397.3" y1="1906.7" x2="397.3" y2="1917.5" stroke="#000" stroke-width="3.2"/>
<line x1="602.1" y1="1906.7" x2="602.1" y2="1917.5" stroke="#000" stroke-width="3.2"/>
<line x1="806.9" y1="1906.7" x2="806.9" y2="1917.5" stroke="#000" stroke-width="3.2"/>
<line x1="1011.7" y1="1906.7" x2="1011.7" y2="1917.5" stroke="#000" stroke-width="3.2"/>
<line x1="1216.5" y1="1906.7" x2="1216.5" y2="1917.5" stroke="#000" stroke-width="3.2"/>
<line x1="1421.3" y1="1906.7" x2="1421.3" y2="1917.5" stroke="#000" stroke-width="3.2"/>
<line x1="209.3" y1="1829.5" x2="227.0" y2="1829.5" stroke="#000" stroke-width="3.2"/>
<text transform="translate(198.5,1844.3) scale(1,1.040)" font-size="55.3" fill="#000" text-anchor="end" >-90</text>
<line x1="209.3" y1="1715.3" x2="227.0" y2="1715.3" stroke="#000" stroke-width="3.2"/>
<text transform="translate(198.5,1730.1) scale(1,1.040)" font-size="55.3" fill="#000" text-anchor="end" >-60</text>
<line x1="209.3" y1="1601.1" x2="227.0" y2="1601.1" stroke="#000" stroke-width="3.2"/>
<text transform="translate(198.5,1615.9) scale(1,1.040)" font-size="55.3" fill="#000" text-anchor="end" >-30</text>
<line x1="209.3" y1="1486.9" x2="227.0" y2="1486.9" stroke="#000" stroke-width="3.2"/>
<text transform="translate(198.5,1501.7) scale(1,1.040)" font-size="55.3" fill="#000" text-anchor="end" >0</text>
<line x1="209.3" y1="1372.7" x2="227.0" y2="1372.7" stroke="#000" stroke-width="3.2"/>
<text transform="translate(198.5,1387.5) scale(1,1.040)" font-size="55.3" fill="#000" text-anchor="end" >30</text>
<line x1="209.3" y1="1258.5" x2="227.0" y2="1258.5" stroke="#000" stroke-width="3.2"/>
<text transform="translate(198.5,1273.3) scale(1,1.040)" font-size="55.3" fill="#000" text-anchor="end" >60</text>
<line x1="209.3" y1="1144.3" x2="227.0" y2="1144.3" stroke="#000" stroke-width="3.2"/>
<text transform="translate(198.5,1159.1) scale(1,1.040)" font-size="55.3" fill="#000" text-anchor="end" >90</text>
<line x1="217.3" y1="1886.6" x2="227.0" y2="1886.6" stroke="#000" stroke-width="3.2"/>
<line x1="217.3" y1="1772.4" x2="227.0" y2="1772.4" stroke="#000" stroke-width="3.2"/>
<line x1="217.3" y1="1658.2" x2="227.0" y2="1658.2" stroke="#000" stroke-width="3.2"/>
<line x1="217.3" y1="1544.0" x2="227.0" y2="1544.0" stroke="#000" stroke-width="3.2"/>
<line x1="217.3" y1="1429.8" x2="227.0" y2="1429.8" stroke="#000" stroke-width="3.2"/>
<line x1="217.3" y1="1315.6" x2="227.0" y2="1315.6" stroke="#000" stroke-width="3.2"/>
<line x1="217.3" y1="1201.4" x2="227.0" y2="1201.4" stroke="#000" stroke-width="3.2"/>
<line x1="217.3" y1="1087.2" x2="227.0" y2="1087.2" stroke="#000" stroke-width="3.2"/>
<text transform="translate(802.9,2061.6) scale(1,1.030)" font-size="71.0" fill="#000" text-anchor="start" >H (Oe)</text>
<text transform="translate(99.5,1484) rotate(-90)" font-size="71" text-anchor="middle" fill="#000">Moment/Mass (emu/g)</text>
<text x="1422.0" y="1127.8" font-size="56.3" fill="#000000" text-anchor="start" >(a)</text>
<text x="1425.0" y="1219.5" font-size="56.3" fill="#ff0000" text-anchor="start" >(b)</text>
<text x="1422.0" y="1330.0" font-size="56.3" fill="#0000ff" text-anchor="start" >(c)</text>
<text x="1422.0" y="1415.0" font-size="56.3" fill="#ff00ff" text-anchor="start" >(d)</text>
</g>
<text x="32.0" y="134.0" font-size="110.0" fill="#000" text-anchor="start" >(A)</text>
<text x="29.9" y="1030.4" font-size="110.0" fill="#000" text-anchor="start" >(B)</text>
<text x="1551.2" y="1021.8" font-size="110.0" fill="#000" text-anchor="start" >(C)</text>
<defs>
<clipPath id="ci1"><rect x="1726.8" y="33.3" width="637.1" height="637.0"/></clipPath>
<clipPath id="ci2"><rect x="1725.1" y="692.0" width="638.8" height="638.8"/></clipPath>
<clipPath id="ci3"><rect x="1725.0" y="1353.4" width="638.9" height="637.4"/></clipPath>
<filter id="n1" x="0" y="0" width="100%" height="100%" color-interpolation-filters="sRGB"><feTurbulence type="fractalNoise" baseFrequency="0.3" numOctaves="2" seed="3" result="t"/><feColorMatrix in="t" type="matrix" values="0.056 0 0 0 0.897  0.056 0 0 0 0.897  0.056 0 0 0 0.897  0 0 0 0 1"/></filter>
<filter id="n2" x="0" y="0" width="100%" height="100%" color-interpolation-filters="sRGB"><feTurbulence type="fractalNoise" baseFrequency="0.28" numOctaves="2" seed="5" result="t"/><feColorMatrix in="t" type="matrix" values="0.240 0 0 0 0.680  0.240 0 0 0 0.680  0.240 0 0 0 0.680  0 0 0 0 1"/></filter>
<filter id="n3" x="0" y="0" width="100%" height="100%" color-interpolation-filters="sRGB"><feTurbulence type="fractalNoise" baseFrequency="0.28" numOctaves="2" seed="7" result="t"/><feColorMatrix in="t" type="matrix" values="0.200 0 0 0 0.765  0.200 0 0 0 0.765  0.200 0 0 0 0.765  0 0 0 0 1"/></filter>
<filter id="b1" x="-20%" y="-20%" width="140%" height="140%" color-interpolation-filters="sRGB"><feGaussianBlur stdDeviation="1"/></filter>
<filter id="b1_5" x="-20%" y="-20%" width="140%" height="140%" color-interpolation-filters="sRGB"><feGaussianBlur stdDeviation="1.5"/></filter>
<filter id="b2" x="-20%" y="-20%" width="140%" height="140%" color-interpolation-filters="sRGB"><feGaussianBlur stdDeviation="2"/></filter>
<filter id="b3" x="-20%" y="-20%" width="140%" height="140%" color-interpolation-filters="sRGB"><feGaussianBlur stdDeviation="3"/></filter>
<filter id="b5" x="-20%" y="-20%" width="140%" height="140%" color-interpolation-filters="sRGB"><feGaussianBlur stdDeviation="5"/></filter>
<filter id="b8" x="-20%" y="-20%" width="140%" height="140%" color-interpolation-filters="sRGB"><feGaussianBlur stdDeviation="8"/></filter>
<filter id="b12" x="-20%" y="-20%" width="140%" height="140%" color-interpolation-filters="sRGB"><feGaussianBlur stdDeviation="12"/></filter>
<filter id="b20" x="-20%" y="-20%" width="140%" height="140%" color-interpolation-filters="sRGB"><feGaussianBlur stdDeviation="20"/></filter>
<filter id="b30" x="-20%" y="-20%" width="140%" height="140%" color-interpolation-filters="sRGB"><feGaussianBlur stdDeviation="30"/></filter>
<filter id="grain" x="0" y="0" width="100%" height="100%" color-interpolation-filters="sRGB"><feTurbulence type="fractalNoise" baseFrequency="0.35" numOctaves="2" seed="11" result="t"/><feColorMatrix in="t" type="matrix" values="0 0 0 0 1  0 0 0 0 1  0 0 0 0 1  1.2 0 0 0 -0.52"/></filter>
<filter id="rim2" filterUnits="userSpaceOnUse" x="1505.1" y="472.0" width="1078.8" height="1078.8" color-interpolation-filters="sRGB"><feTurbulence type="fractalNoise" baseFrequency="0.06" numOctaves="2" seed="4" result="dn"/><feDisplacementMap in="SourceGraphic" in2="dn" scale="7" xChannelSelector="R" yChannelSelector="G" result="sh0"/><feMorphology in="sh0" operator="erode" radius="2" result="sh"/><feColorMatrix in="sh" type="matrix" values="0 0 0 0 0  0 0 0 0 0  0 0 0 0 0  0 0 0 1 0" result="sha"/><feGaussianBlur in="sha" stdDeviation="10" result="ba1"/><feColorMatrix in="ba1" type="matrix" values="0 0 0 -0.200 0.200  0 0 0 -0.200 0.200  0 0 0 -0.200 0.200  0 0 0 0 1" result="g1"/><feGaussianBlur in="sha" stdDeviation="80" result="ba2"/><feColorMatrix in="ba2" type="matrix" values="0 0 0 -0.420 0.420  0 0 0 -0.420 0.420  0 0 0 -0.420 0.420  0 0 0 0 1" result="g2"/><feComposite in="g1" in2="g2" operator="arithmetic" k1="0" k2="1" k3="1" k4="0" result="g"/><feTurbulence type="fractalNoise" baseFrequency="0.075" numOctaves="1" seed="9" result="tn"/><feColorMatrix in="tn" type="matrix" values="0.760 0 0 0 0.620  0.760 0 0 0 0.620  0.760 0 0 0 0.620  0 0 0 0 1" result="tg"/><feComposite in="g" in2="tg" operator="arithmetic" k1="1" k2="0" k3="0" k4="0.020" result="gm"/><feColorMatrix in="gm" type="matrix" values="1 0 0 0 0  0 1 0 0 0  0 0 1 0 0  0 0 0 0 1" result="gmo"/><feGaussianBlur in="sha" stdDeviation="1.6" result="sa"/><feComposite in="gmo" in2="sa" operator="in"/></filter>
<filter id="rim3" filterUnits="userSpaceOnUse" x="1505.0" y="1133.4" width="1078.9" height="1077.4" color-interpolation-filters="sRGB"><feTurbulence type="fractalNoise" baseFrequency="0.05" numOctaves="2" seed="9" result="dn"/><feDisplacementMap in="SourceGraphic" in2="dn" scale="7" xChannelSelector="R" yChannelSelector="G" result="sh0"/><feMorphology in="sh0" operator="erode" radius="7" result="sh"/><feColorMatrix in="sh" type="matrix" values="0 0 0 0 0  0 0 0 0 0  0 0 0 0 0  0 0 0 1 0" result="sha"/><feGaussianBlur in="sha" stdDeviation="10" result="ba1"/><feColorMatrix in="ba1" type="matrix" values="0 0 0 -0.680 0.680  0 0 0 -0.680 0.680  0 0 0 -0.680 0.680  0 0 0 0 1" result="g1"/><feGaussianBlur in="sha" stdDeviation="55" result="ba2"/><feColorMatrix in="ba2" type="matrix" values="0 0 0 -0.500 0.500  0 0 0 -0.500 0.500  0 0 0 -0.500 0.500  0 0 0 0 1" result="g2"/><feComposite in="g1" in2="g2" operator="arithmetic" k1="0" k2="1" k3="1" k4="0" result="g"/><feTurbulence type="fractalNoise" baseFrequency="0.075" numOctaves="1" seed="14" result="tn"/><feColorMatrix in="tn" type="matrix" values="0.760 0 0 0 0.620  0.760 0 0 0 0.620  0.760 0 0 0 0.620  0 0 0 0 1" result="tg"/><feComposite in="g" in2="tg" operator="arithmetic" k1="1" k2="0" k3="0" k4="0.012" result="gm"/><feColorMatrix in="gm" type="matrix" values="1 0 0 0 0  0 1 0 0 0  0 0 1 0 0  0 0 0 0 1" result="gmo"/><feGaussianBlur in="sha" stdDeviation="2.5" result="sa"/><feComposite in="gmo" in2="sa" operator="in"/></filter>
</defs>
<g id="tem1" clip-path="url(#ci1)">
<rect x="1726.8" y="33.3" width="637.1" height="637.0" fill="#e4e4e4" filter="url(#n1)"/>
<g filter="url(#b2)">
<circle cx="2203" cy="101.3" r="2.5" fill="#999"/>
<circle cx="2017.0" cy="213.5" r="15.3" fill="#5a5a5a"/><circle cx="2007.2" cy="205.2" r="3.9" fill="#5a5a5a"/><circle cx="2018.1" cy="200.7" r="4.6" fill="#5a5a5a"/><circle cx="2023.5" cy="202.9" r="4.1" fill="#5a5a5a"/><circle cx="2028.8" cy="210.2" r="4.3" fill="#5a5a5a"/><circle cx="2028.5" cy="218.6" r="4.5" fill="#5a5a5a"/><circle cx="2022.6" cy="225.1" r="4.4" fill="#5a5a5a"/><circle cx="2014.8" cy="225.7" r="4.8" fill="#5a5a5a"/><circle cx="2005.4" cy="221.0" r="3.7" fill="#5a5a5a"/><circle cx="2004.1" cy="212.0" r="3.6" fill="#5a5a5a"/><circle cx="2017.0" cy="213.5" r="14.3" fill="#464646"/><circle cx="2007.8" cy="205.7" r="3.0" fill="#464646"/><circle cx="2018.1" cy="201.5" r="3.5" fill="#464646"/><circle cx="2023.1" cy="203.6" r="3.2" fill="#464646"/><circle cx="2028.1" cy="210.4" r="3.3" fill="#464646"/><circle cx="2027.8" cy="218.3" r="3.5" fill="#464646"/><circle cx="2022.2" cy="224.4" r="3.4" fill="#464646"/><circle cx="2015.0" cy="225.0" r="3.7" fill="#464646"/><circle cx="2006.1" cy="220.6" r="2.9" fill="#464646"/><circle cx="2004.8" cy="212.0" r="2.8" fill="#464646"/>
<circle cx="1870.5" cy="418.0" r="18.4" fill="#5a5a5a"/><circle cx="1879.6" cy="406.0" r="5.8" fill="#5a5a5a"/><circle cx="1884.0" cy="413.6" r="6.1" fill="#5a5a5a"/><circle cx="1884.6" cy="422.6" r="5.8" fill="#5a5a5a"/><circle cx="1878.1" cy="431.5" r="5.3" fill="#5a5a5a"/><circle cx="1873.3" cy="433.4" r="4.6" fill="#5a5a5a"/><circle cx="1863.6" cy="431.8" r="4.6" fill="#5a5a5a"/><circle cx="1856.8" cy="423.9" r="5.4" fill="#5a5a5a"/><circle cx="1855.3" cy="414.1" r="4.5" fill="#5a5a5a"/><circle cx="1863.4" cy="404.6" r="5.4" fill="#5a5a5a"/><circle cx="1868.6" cy="403.6" r="5.6" fill="#5a5a5a"/><circle cx="1870.5" cy="418.0" r="17.2" fill="#464646"/><circle cx="1879.0" cy="406.8" r="4.5" fill="#464646"/><circle cx="1883.2" cy="413.8" r="4.8" fill="#464646"/><circle cx="1883.8" cy="422.4" r="4.5" fill="#464646"/><circle cx="1877.6" cy="430.7" r="4.1" fill="#464646"/><circle cx="1873.1" cy="432.5" r="3.6" fill="#464646"/><circle cx="1864.0" cy="431.0" r="3.6" fill="#464646"/><circle cx="1857.6" cy="423.6" r="4.2" fill="#464646"/><circle cx="1856.2" cy="414.3" r="3.5" fill="#464646"/><circle cx="1863.8" cy="405.4" r="4.2" fill="#464646"/><circle cx="1868.7" cy="404.5" r="4.4" fill="#464646"/>
<circle cx="2081.3" cy="386.8" r="20.7" fill="#5a5a5a"/><circle cx="2067.1" cy="396.1" r="6.1" fill="#5a5a5a"/><circle cx="2064.5" cy="387.9" r="6.5" fill="#5a5a5a"/><circle cx="2064.7" cy="379.7" r="4.7" fill="#5a5a5a"/><circle cx="2072.0" cy="370.8" r="5.1" fill="#5a5a5a"/><circle cx="2086.9" cy="369.8" r="5.3" fill="#5a5a5a"/><circle cx="2092.7" cy="375.2" r="6.7" fill="#5a5a5a"/><circle cx="2098.8" cy="383.0" r="5.2" fill="#5a5a5a"/><circle cx="2097.4" cy="393.9" r="5.9" fill="#5a5a5a"/><circle cx="2089.9" cy="403.3" r="5.1" fill="#5a5a5a"/><circle cx="2078.0" cy="404.1" r="4.8" fill="#5a5a5a"/><circle cx="2081.3" cy="386.8" r="19.3" fill="#464646"/><circle cx="2067.9" cy="395.6" r="4.7" fill="#464646"/><circle cx="2065.5" cy="387.8" r="5.1" fill="#464646"/><circle cx="2065.7" cy="380.2" r="3.6" fill="#464646"/><circle cx="2072.5" cy="371.7" r="4.0" fill="#464646"/><circle cx="2086.6" cy="370.8" r="4.2" fill="#464646"/><circle cx="2092.0" cy="375.9" r="5.2" fill="#464646"/><circle cx="2097.8" cy="383.2" r="4.0" fill="#464646"/><circle cx="2096.5" cy="393.5" r="4.6" fill="#464646"/><circle cx="2089.4" cy="402.3" r="4.0" fill="#464646"/><circle cx="2078.2" cy="403.0" r="3.8" fill="#464646"/>
<circle cx="2084.5" cy="530.0" r="18.0" fill="#5a5a5a"/><circle cx="2095.1" cy="539.6" r="5.6" fill="#5a5a5a"/><circle cx="2090.8" cy="544.5" r="4.8" fill="#5a5a5a"/><circle cx="2079.1" cy="543.4" r="5.9" fill="#5a5a5a"/><circle cx="2073.6" cy="540.0" r="5.4" fill="#5a5a5a"/><circle cx="2068.9" cy="528.8" r="4.5" fill="#5a5a5a"/><circle cx="2071.6" cy="522.1" r="4.9" fill="#5a5a5a"/><circle cx="2083.2" cy="516.1" r="5.8" fill="#5a5a5a"/><circle cx="2090.4" cy="515.0" r="4.4" fill="#5a5a5a"/><circle cx="2098.6" cy="523.4" r="4.6" fill="#5a5a5a"/><circle cx="2100.4" cy="531.6" r="4.3" fill="#5a5a5a"/><circle cx="2084.5" cy="530.0" r="16.8" fill="#464646"/><circle cx="2094.5" cy="539.0" r="4.4" fill="#464646"/><circle cx="2090.4" cy="543.6" r="3.7" fill="#464646"/><circle cx="2079.4" cy="542.6" r="4.6" fill="#464646"/><circle cx="2074.3" cy="539.4" r="4.2" fill="#464646"/><circle cx="2069.8" cy="528.9" r="3.5" fill="#464646"/><circle cx="2072.4" cy="522.6" r="3.8" fill="#464646"/><circle cx="2083.3" cy="516.9" r="4.5" fill="#464646"/><circle cx="2090.1" cy="515.9" r="3.4" fill="#464646"/><circle cx="2097.8" cy="523.8" r="3.6" fill="#464646"/><circle cx="2099.5" cy="531.5" r="3.4" fill="#464646"/>
<circle cx="1878.0" cy="263.6" r="33.3" fill="#303030"/><circle cx="1853.1" cy="254.6" r="9.4" fill="#303030"/><circle cx="1854.8" cy="243.8" r="7.5" fill="#303030"/><circle cx="1874.4" cy="237.8" r="10.5" fill="#303030"/><circle cx="1880.4" cy="236.4" r="10.6" fill="#303030"/><circle cx="1893.6" cy="241.8" r="9.2" fill="#303030"/><circle cx="1903.5" cy="258.9" r="10.2" fill="#303030"/><circle cx="1904.3" cy="270.0" r="9.4" fill="#303030"/><circle cx="1894.9" cy="285.1" r="9.0" fill="#303030"/><circle cx="1884.8" cy="288.9" r="10.1" fill="#303030"/><circle cx="1873.3" cy="289.4" r="11.1" fill="#303030"/><circle cx="1859.7" cy="283.3" r="9.3" fill="#303030"/><circle cx="1851.4" cy="274.1" r="8.7" fill="#303030"/>
<circle cx="1918.0" cy="435.3" r="34.2" fill="#303030"/><circle cx="1904.8" cy="459.3" r="10.7" fill="#303030"/><circle cx="1894.8" cy="453.2" r="9.7" fill="#303030"/><circle cx="1893.0" cy="444.1" r="10.9" fill="#303030"/><circle cx="1894.1" cy="423.2" r="10.4" fill="#303030"/><circle cx="1897.1" cy="414.8" r="8.4" fill="#303030"/><circle cx="1914.6" cy="408.3" r="10.8" fill="#303030"/><circle cx="1924.2" cy="410.1" r="11.1" fill="#303030"/><circle cx="1938.6" cy="419.0" r="10.8" fill="#303030"/><circle cx="1948.0" cy="427.5" r="8.1" fill="#303030"/><circle cx="1946.6" cy="441.3" r="9.3" fill="#303030"/><circle cx="1937.9" cy="459.1" r="8.0" fill="#303030"/><circle cx="1921.6" cy="463.9" r="8.2" fill="#303030"/>
<circle cx="1878.0" cy="263.6" r="31.1" fill="#141414"/><circle cx="1854.6" cy="255.1" r="7.3" fill="#141414"/><circle cx="1856.2" cy="245.0" r="5.8" fill="#141414"/><circle cx="1874.6" cy="239.3" r="8.2" fill="#141414"/><circle cx="1880.3" cy="238.0" r="8.3" fill="#141414"/><circle cx="1892.7" cy="243.1" r="7.2" fill="#141414"/><circle cx="1902.0" cy="259.2" r="8.0" fill="#141414"/><circle cx="1902.7" cy="269.6" r="7.4" fill="#141414"/><circle cx="1893.9" cy="283.9" r="7.0" fill="#141414"/><circle cx="1884.4" cy="287.4" r="7.9" fill="#141414"/><circle cx="1873.6" cy="287.9" r="8.6" fill="#141414"/><circle cx="1860.8" cy="282.1" r="7.3" fill="#141414"/><circle cx="1853.0" cy="273.4" r="6.7" fill="#141414"/><line x1="1880.2" y1="281.1" x2="1880.0" y2="276.1" stroke="#3c3c3c" stroke-width="3.2" stroke-linecap="round" stroke-opacity="0.36"/><line x1="1866.4" y1="284.6" x2="1869.6" y2="278.7" stroke="#444444" stroke-width="3.5" stroke-linecap="round" stroke-opacity="0.77"/><line x1="1857.2" y1="253.6" x2="1865.7" y2="260.3" stroke="#3c3c3c" stroke-width="3.3" stroke-linecap="round" stroke-opacity="0.65"/><line x1="1864.7" y1="280.9" x2="1868.6" y2="270.1" stroke="#4a4a4a" stroke-width="3.2" stroke-linecap="round" stroke-opacity="0.68"/><line x1="1882.8" y1="249.1" x2="1880.8" y2="254.7" stroke="#3c3c3c" stroke-width="4.5" stroke-linecap="round" stroke-opacity="0.48"/><line x1="1878.0" y1="296.4" x2="1880.0" y2="288.6" stroke="#444444" stroke-width="3.3" stroke-linecap="round" stroke-opacity="0.64"/><line x1="1865.2" y1="260.3" x2="1869.9" y2="262.4" stroke="#3c3c3c" stroke-width="3.6" stroke-linecap="round" stroke-opacity="0.57"/><line x1="1882.9" y1="284.6" x2="1881.4" y2="279.9" stroke="#333333" stroke-width="3.9" stroke-linecap="round" stroke-opacity="0.70"/><line x1="1856.8" y1="269.7" x2="1869.1" y2="270.5" stroke="#444444" stroke-width="5.3" stroke-linecap="round" stroke-opacity="0.57"/><line x1="1884.5" y1="280.0" x2="1883.5" y2="275.2" stroke="#4a4a4a" stroke-width="5.6" stroke-linecap="round" stroke-opacity="0.38"/><line x1="1857.5" y1="251.6" x2="1868.4" y2="254.9" stroke="#444444" stroke-width="3.3" stroke-linecap="round" stroke-opacity="0.43"/><line x1="1855.3" y1="248.2" x2="1861.3" y2="250.2" stroke="#444444" stroke-width="3.9" stroke-linecap="round" stroke-opacity="0.62"/><line x1="1861.9" y1="248.6" x2="1868.6" y2="255.0" stroke="#555555" stroke-width="3.7" stroke-linecap="round" stroke-opacity="0.67"/><line x1="1879.5" y1="285.0" x2="1877.4" y2="275.3" stroke="#555555" stroke-width="6.3" stroke-linecap="round" stroke-opacity="0.77"/><line x1="1904.2" y1="265.1" x2="1895.4" y2="267.1" stroke="#444444" stroke-width="3.7" stroke-linecap="round" stroke-opacity="0.47"/><line x1="1907.1" y1="250.6" x2="1897.0" y2="256.3" stroke="#3c3c3c" stroke-width="4.5" stroke-linecap="round" stroke-opacity="0.59"/>
<circle cx="1918.0" cy="435.3" r="31.9" fill="#141414"/><circle cx="1905.6" cy="457.9" r="8.3" fill="#141414"/><circle cx="1896.2" cy="452.1" r="7.6" fill="#141414"/><circle cx="1894.5" cy="443.5" r="8.5" fill="#141414"/><circle cx="1895.5" cy="423.9" r="8.1" fill="#141414"/><circle cx="1898.4" cy="416.1" r="6.6" fill="#141414"/><circle cx="1914.8" cy="410.0" r="8.5" fill="#141414"/><circle cx="1923.8" cy="411.6" r="8.6" fill="#141414"/><circle cx="1937.3" cy="420.0" r="8.4" fill="#141414"/><circle cx="1946.2" cy="428.0" r="6.3" fill="#141414"/><circle cx="1944.8" cy="441.0" r="7.2" fill="#141414"/><circle cx="1936.7" cy="457.7" r="6.3" fill="#141414"/><circle cx="1921.4" cy="462.1" r="6.4" fill="#141414"/><line x1="1900.7" y1="454.0" x2="1904.0" y2="446.5" stroke="#555555" stroke-width="6.1" stroke-linecap="round" stroke-opacity="0.71"/><line x1="1939.2" y1="409.9" x2="1936.1" y2="415.4" stroke="#4a4a4a" stroke-width="4.2" stroke-linecap="round" stroke-opacity="0.60"/><line x1="1942.5" y1="410.7" x2="1933.0" y2="415.8" stroke="#3c3c3c" stroke-width="6.0" stroke-linecap="round" stroke-opacity="0.79"/><line x1="1930.2" y1="404.9" x2="1927.7" y2="409.0" stroke="#555555" stroke-width="5.7" stroke-linecap="round" stroke-opacity="0.54"/><line x1="1903.8" y1="409.5" x2="1908.3" y2="414.3" stroke="#4a4a4a" stroke-width="4.3" stroke-linecap="round" stroke-opacity="0.37"/><line x1="1900.6" y1="438.5" x2="1912.3" y2="435.0" stroke="#3c3c3c" stroke-width="3.8" stroke-linecap="round" stroke-opacity="0.65"/><line x1="1902.4" y1="446.9" x2="1907.0" y2="444.7" stroke="#555555" stroke-width="5.2" stroke-linecap="round" stroke-opacity="0.53"/><line x1="1942.9" y1="432.3" x2="1931.5" y2="437.0" stroke="#555555" stroke-width="3.6" stroke-linecap="round" stroke-opacity="0.78"/><line x1="1916.5" y1="450.9" x2="1918.6" y2="443.0" stroke="#555555" stroke-width="4.5" stroke-linecap="round" stroke-opacity="0.79"/><line x1="1942.8" y1="457.3" x2="1937.1" y2="454.9" stroke="#333333" stroke-width="3.0" stroke-linecap="round" stroke-opacity="0.77"/><line x1="1889.7" y1="428.3" x2="1899.8" y2="432.1" stroke="#555555" stroke-width="4.5" stroke-linecap="round" stroke-opacity="0.78"/><line x1="1941.8" y1="422.4" x2="1934.4" y2="429.4" stroke="#555555" stroke-width="4.8" stroke-linecap="round" stroke-opacity="0.65"/><line x1="1904.8" y1="460.7" x2="1907.2" y2="451.9" stroke="#333333" stroke-width="5.4" stroke-linecap="round" stroke-opacity="0.76"/><line x1="1903.1" y1="422.1" x2="1911.6" y2="425.4" stroke="#555555" stroke-width="3.7" stroke-linecap="round" stroke-opacity="0.70"/><line x1="1902.0" y1="422.6" x2="1907.8" y2="428.5" stroke="#444444" stroke-width="4.7" stroke-linecap="round" stroke-opacity="0.76"/><line x1="1922.9" y1="419.0" x2="1921.3" y2="424.0" stroke="#444444" stroke-width="4.2" stroke-linecap="round" stroke-opacity="0.72"/><line x1="1918.2" y1="407.2" x2="1919.5" y2="413.5" stroke="#4a4a4a" stroke-width="3.2" stroke-linecap="round" stroke-opacity="0.79"/>
<circle cx="1860.8" cy="186.8" r="48.6" fill="#2a2a2a"/><circle cx="1831.4" cy="156.8" r="13.3" fill="#2a2a2a"/><circle cx="1847.0" cy="150.4" r="14.7" fill="#2a2a2a"/><circle cx="1863.3" cy="143.9" r="11.6" fill="#2a2a2a"/><circle cx="1887.0" cy="156.9" r="15.4" fill="#2a2a2a"/><circle cx="1900.3" cy="169.7" r="12.0" fill="#2a2a2a"/><circle cx="1901.6" cy="188.6" r="13.3" fill="#2a2a2a"/><circle cx="1894.8" cy="210.4" r="11.5" fill="#2a2a2a"/><circle cx="1885.1" cy="219.2" r="13.7" fill="#2a2a2a"/><circle cx="1869.0" cy="224.9" r="14.9" fill="#2a2a2a"/><circle cx="1844.2" cy="221.1" r="15.6" fill="#2a2a2a"/><circle cx="1828.1" cy="209.4" r="13.2" fill="#2a2a2a"/><circle cx="1819.6" cy="192.5" r="13.2" fill="#2a2a2a"/><circle cx="1820.6" cy="172.7" r="12.3" fill="#2a2a2a"/>
<circle cx="1784.3" cy="107.4" r="57.1" fill="#2a2a2a"/><circle cx="1772.7" cy="151.4" r="17.3" fill="#2a2a2a"/><circle cx="1747.9" cy="134.7" r="18.7" fill="#2a2a2a"/><circle cx="1741.9" cy="123.3" r="17.4" fill="#2a2a2a"/><circle cx="1739.6" cy="95.2" r="17.5" fill="#2a2a2a"/><circle cx="1756.2" cy="72.6" r="18.0" fill="#2a2a2a"/><circle cx="1764.1" cy="62.0" r="14.6" fill="#2a2a2a"/><circle cx="1783.3" cy="58.6" r="13.0" fill="#2a2a2a"/><circle cx="1806.9" cy="68.1" r="18.7" fill="#2a2a2a"/><circle cx="1828.8" cy="88.6" r="13.4" fill="#2a2a2a"/><circle cx="1831.3" cy="103.4" r="15.7" fill="#2a2a2a"/><circle cx="1824.7" cy="137.8" r="14.3" fill="#2a2a2a"/><circle cx="1818.6" cy="144.3" r="13.1" fill="#2a2a2a"/><circle cx="1788.8" cy="152.3" r="17.1" fill="#2a2a2a"/>
<circle cx="1945.0" cy="176.3" r="27.9" fill="#2a2a2a"/><circle cx="1942.8" cy="155.2" r="8.9" fill="#2a2a2a"/><circle cx="1950.1" cy="153.2" r="8.2" fill="#2a2a2a"/><circle cx="1965.2" cy="166.7" r="8.5" fill="#2a2a2a"/><circle cx="1968.1" cy="171.7" r="8.2" fill="#2a2a2a"/><circle cx="1965.6" cy="187.5" r="8.4" fill="#2a2a2a"/><circle cx="1958.2" cy="193.8" r="8.7" fill="#2a2a2a"/><circle cx="1943.9" cy="200.7" r="6.7" fill="#2a2a2a"/><circle cx="1931.3" cy="193.1" r="8.7" fill="#2a2a2a"/><circle cx="1925.3" cy="186.8" r="8.9" fill="#2a2a2a"/><circle cx="1923.9" cy="173.4" r="9.0" fill="#2a2a2a"/><circle cx="1928.4" cy="159.6" r="7.0" fill="#2a2a2a"/>
<circle cx="1954.3" cy="238.8" r="41.0" fill="#2a2a2a"/><circle cx="1919.0" cy="231.8" r="10.8" fill="#2a2a2a"/><circle cx="1931.2" cy="213.6" r="11.6" fill="#2a2a2a"/><circle cx="1947.6" cy="206.7" r="13.1" fill="#2a2a2a"/><circle cx="1966.4" cy="206.2" r="11.9" fill="#2a2a2a"/><circle cx="1974.7" cy="213.5" r="12.2" fill="#2a2a2a"/><circle cx="1987.6" cy="228.2" r="10.2" fill="#2a2a2a"/><circle cx="1987.2" cy="253.0" r="10.8" fill="#2a2a2a"/><circle cx="1978.7" cy="264.6" r="9.4" fill="#2a2a2a"/><circle cx="1958.2" cy="271.5" r="13.4" fill="#2a2a2a"/><circle cx="1951.1" cy="274.5" r="10.1" fill="#2a2a2a"/><circle cx="1925.7" cy="260.2" r="9.3" fill="#2a2a2a"/><circle cx="1922.5" cy="242.4" r="12.7" fill="#2a2a2a"/>
<circle cx="1789.8" cy="277.0" r="53.6" fill="#2a2a2a"/><circle cx="1743.2" cy="282.2" r="13.5" fill="#2a2a2a"/><circle cx="1747.0" cy="265.9" r="14.5" fill="#2a2a2a"/><circle cx="1763.1" cy="240.4" r="14.8" fill="#2a2a2a"/><circle cx="1773.1" cy="234.6" r="14.3" fill="#2a2a2a"/><circle cx="1794.1" cy="232.4" r="13.7" fill="#2a2a2a"/><circle cx="1816.4" cy="240.1" r="13.4" fill="#2a2a2a"/><circle cx="1826.5" cy="256.5" r="16.3" fill="#2a2a2a"/><circle cx="1833.0" cy="281.7" r="16.1" fill="#2a2a2a"/><circle cx="1819.9" cy="305.3" r="16.7" fill="#2a2a2a"/><circle cx="1804.3" cy="320.3" r="12.2" fill="#2a2a2a"/><circle cx="1782.0" cy="319.0" r="17.0" fill="#2a2a2a"/><circle cx="1767.6" cy="313.9" r="16.1" fill="#2a2a2a"/><circle cx="1754.3" cy="307.6" r="12.0" fill="#2a2a2a"/>
<circle cx="1925.0" cy="335.8" r="53.6" fill="#2a2a2a"/><circle cx="1965.8" cy="349.9" r="16.9" fill="#2a2a2a"/><circle cx="1958.2" cy="367.7" r="12.7" fill="#2a2a2a"/><circle cx="1937.8" cy="376.0" r="16.0" fill="#2a2a2a"/><circle cx="1919.4" cy="378.6" r="14.6" fill="#2a2a2a"/><circle cx="1907.1" cy="379.6" r="13.4" fill="#2a2a2a"/><circle cx="1887.6" cy="357.7" r="16.2" fill="#2a2a2a"/><circle cx="1880.8" cy="345.0" r="13.6" fill="#2a2a2a"/><circle cx="1880.4" cy="324.1" r="14.4" fill="#2a2a2a"/><circle cx="1894.4" cy="298.3" r="12.6" fill="#2a2a2a"/><circle cx="1917.9" cy="288.8" r="12.0" fill="#2a2a2a"/><circle cx="1934.5" cy="290.3" r="12.8" fill="#2a2a2a"/><circle cx="1958.6" cy="304.6" r="13.3" fill="#2a2a2a"/><circle cx="1972.3" cy="323.9" r="12.4" fill="#2a2a2a"/>
<circle cx="2039.5" cy="258.0" r="38.7" fill="#2a2a2a"/><circle cx="2056.3" cy="233.6" r="12.1" fill="#2a2a2a"/><circle cx="2065.2" cy="239.3" r="11.4" fill="#2a2a2a"/><circle cx="2070.2" cy="261.5" r="11.9" fill="#2a2a2a"/><circle cx="2065.8" cy="277.2" r="10.7" fill="#2a2a2a"/><circle cx="2055.1" cy="283.9" r="12.7" fill="#2a2a2a"/><circle cx="2034.3" cy="288.5" r="11.5" fill="#2a2a2a"/><circle cx="2025.4" cy="288.9" r="8.9" fill="#2a2a2a"/><circle cx="2009.4" cy="273.4" r="9.5" fill="#2a2a2a"/><circle cx="2007.6" cy="258.3" r="11.7" fill="#2a2a2a"/><circle cx="2017.3" cy="238.9" r="12.8" fill="#2a2a2a"/><circle cx="2024.0" cy="230.5" r="11.0" fill="#2a2a2a"/><circle cx="2041.0" cy="225.4" r="9.8" fill="#2a2a2a"/>
<circle cx="1805.6" cy="373.0" r="56.7" fill="#2a2a2a"/><circle cx="1788.0" cy="328.8" r="15.6" fill="#2a2a2a"/><circle cx="1817.4" cy="329.5" r="17.1" fill="#2a2a2a"/><circle cx="1833.7" cy="333.5" r="16.0" fill="#2a2a2a"/><circle cx="1848.0" cy="347.9" r="14.8" fill="#2a2a2a"/><circle cx="1856.9" cy="365.8" r="12.9" fill="#2a2a2a"/><circle cx="1848.5" cy="387.2" r="18.4" fill="#2a2a2a"/><circle cx="1830.9" cy="416.4" r="13.9" fill="#2a2a2a"/><circle cx="1815.5" cy="417.9" r="16.1" fill="#2a2a2a"/><circle cx="1796.3" cy="416.8" r="17.3" fill="#2a2a2a"/><circle cx="1778.5" cy="407.2" r="18.3" fill="#2a2a2a"/><circle cx="1759.5" cy="389.9" r="13.2" fill="#2a2a2a"/><circle cx="1761.9" cy="363.3" r="16.9" fill="#2a2a2a"/><circle cx="1778.2" cy="339.9" r="18.8" fill="#2a2a2a"/>
<circle cx="2046.2" cy="336.0" r="39.1" fill="#2a2a2a"/><circle cx="2012.6" cy="332.5" r="9.9" fill="#2a2a2a"/><circle cx="2022.5" cy="316.4" r="11.9" fill="#2a2a2a"/><circle cx="2036.2" cy="306.4" r="11.1" fill="#2a2a2a"/><circle cx="2048.7" cy="304.4" r="11.5" fill="#2a2a2a"/><circle cx="2065.7" cy="311.2" r="11.7" fill="#2a2a2a"/><circle cx="2076.7" cy="320.8" r="9.5" fill="#2a2a2a"/><circle cx="2080.9" cy="337.4" r="9.7" fill="#2a2a2a"/><circle cx="2073.5" cy="352.0" r="10.7" fill="#2a2a2a"/><circle cx="2059.7" cy="366.2" r="10.5" fill="#2a2a2a"/><circle cx="2043.1" cy="369.1" r="9.8" fill="#2a2a2a"/><circle cx="2030.5" cy="364.4" r="10.7" fill="#2a2a2a"/><circle cx="2018.3" cy="347.1" r="12.3" fill="#2a2a2a"/>
<circle cx="2108.0" cy="278.5" r="28.8" fill="#2a2a2a"/><circle cx="2129.7" cy="271.2" r="8.2" fill="#2a2a2a"/><circle cx="2132.6" cy="285.0" r="7.4" fill="#2a2a2a"/><circle cx="2126.0" cy="293.8" r="8.8" fill="#2a2a2a"/><circle cx="2116.7" cy="301.6" r="6.6" fill="#2a2a2a"/><circle cx="2104.5" cy="301.0" r="9.1" fill="#2a2a2a"/><circle cx="2087.5" cy="292.8" r="7.5" fill="#2a2a2a"/><circle cx="2086.2" cy="285.5" r="9.6" fill="#2a2a2a"/><circle cx="2088.0" cy="270.3" r="9.5" fill="#2a2a2a"/><circle cx="2094.6" cy="260.3" r="9.1" fill="#2a2a2a"/><circle cx="2109.3" cy="256.2" r="9.5" fill="#2a2a2a"/><circle cx="2122.8" cy="258.3" r="6.5" fill="#2a2a2a"/>
<circle cx="2235.3" cy="262.5" r="55.4" fill="#2a2a2a"/><circle cx="2224.7" cy="219.8" r="17.2" fill="#2a2a2a"/><circle cx="2240.8" cy="218.5" r="16.2" fill="#2a2a2a"/><circle cx="2263.6" cy="226.4" r="16.7" fill="#2a2a2a"/><circle cx="2270.0" cy="237.0" r="18.4" fill="#2a2a2a"/><circle cx="2282.9" cy="261.0" r="15.4" fill="#2a2a2a"/><circle cx="2275.2" cy="287.3" r="15.6" fill="#2a2a2a"/><circle cx="2261.9" cy="297.4" r="17.8" fill="#2a2a2a"/><circle cx="2238.7" cy="312.1" r="12.8" fill="#2a2a2a"/><circle cx="2215.8" cy="305.9" r="14.5" fill="#2a2a2a"/><circle cx="2207.6" cy="296.4" r="18.3" fill="#2a2a2a"/><circle cx="2190.7" cy="275.0" r="16.9" fill="#2a2a2a"/><circle cx="2188.2" cy="252.0" r="12.4" fill="#2a2a2a"/><circle cx="2200.9" cy="231.5" r="15.5" fill="#2a2a2a"/>
<circle cx="2351.0" cy="253.5" r="48.6" fill="#2a2a2a"/><circle cx="2350.0" cy="212.3" r="13.3" fill="#2a2a2a"/><circle cx="2364.7" cy="212.8" r="11.1" fill="#2a2a2a"/><circle cx="2378.4" cy="224.4" r="13.1" fill="#2a2a2a"/><circle cx="2387.3" cy="241.7" r="15.3" fill="#2a2a2a"/><circle cx="2389.5" cy="264.7" r="13.9" fill="#2a2a2a"/><circle cx="2380.6" cy="277.5" r="14.5" fill="#2a2a2a"/><circle cx="2369.4" cy="287.7" r="15.0" fill="#2a2a2a"/><circle cx="2351.1" cy="291.9" r="15.4" fill="#2a2a2a"/><circle cx="2335.3" cy="287.1" r="16.0" fill="#2a2a2a"/><circle cx="2311.5" cy="270.4" r="11.5" fill="#2a2a2a"/><circle cx="2313.8" cy="257.6" r="15.8" fill="#2a2a2a"/><circle cx="2315.7" cy="231.8" r="12.2" fill="#2a2a2a"/><circle cx="2332.9" cy="215.6" r="11.7" fill="#2a2a2a"/>
<circle cx="2157.7" cy="348.3" r="54.9" fill="#2a2a2a"/><circle cx="2172.3" cy="390.3" r="18.2" fill="#2a2a2a"/><circle cx="2162.9" cy="393.2" r="15.0" fill="#2a2a2a"/><circle cx="2129.4" cy="385.8" r="14.2" fill="#2a2a2a"/><circle cx="2122.5" cy="380.6" r="13.4" fill="#2a2a2a"/><circle cx="2113.3" cy="355.1" r="16.0" fill="#2a2a2a"/><circle cx="2115.3" cy="328.6" r="15.2" fill="#2a2a2a"/><circle cx="2126.1" cy="317.3" r="17.7" fill="#2a2a2a"/><circle cx="2143.7" cy="301.9" r="12.2" fill="#2a2a2a"/><circle cx="2166.5" cy="301.2" r="14.3" fill="#2a2a2a"/><circle cx="2190.0" cy="322.7" r="18.0" fill="#2a2a2a"/><circle cx="2200.6" cy="336.6" r="17.4" fill="#2a2a2a"/><circle cx="2202.3" cy="349.1" r="15.4" fill="#2a2a2a"/><circle cx="2198.0" cy="378.3" r="12.6" fill="#2a2a2a"/>
<circle cx="2288.6" cy="345.0" r="41.4" fill="#2a2a2a"/><circle cx="2256.6" cy="356.6" r="11.4" fill="#2a2a2a"/><circle cx="2254.0" cy="337.9" r="11.8" fill="#2a2a2a"/><circle cx="2261.2" cy="322.3" r="10.8" fill="#2a2a2a"/><circle cx="2278.6" cy="310.7" r="10.9" fill="#2a2a2a"/><circle cx="2290.4" cy="310.4" r="10.0" fill="#2a2a2a"/><circle cx="2311.9" cy="318.7" r="11.8" fill="#2a2a2a"/><circle cx="2320.4" cy="335.2" r="11.8" fill="#2a2a2a"/><circle cx="2321.9" cy="347.1" r="12.9" fill="#2a2a2a"/><circle cx="2316.4" cy="368.4" r="9.7" fill="#2a2a2a"/><circle cx="2304.5" cy="377.3" r="9.6" fill="#2a2a2a"/><circle cx="2286.4" cy="380.1" r="12.1" fill="#2a2a2a"/><circle cx="2264.8" cy="369.7" r="12.3" fill="#2a2a2a"/>
<circle cx="2014.8" cy="430.0" r="54.5" fill="#2a2a2a"/><circle cx="2054.3" cy="451.0" r="16.8" fill="#2a2a2a"/><circle cx="2029.0" cy="472.1" r="17.4" fill="#2a2a2a"/><circle cx="2017.5" cy="474.6" r="16.1" fill="#2a2a2a"/><circle cx="1992.3" cy="471.3" r="13.1" fill="#2a2a2a"/><circle cx="1977.0" cy="452.4" r="16.2" fill="#2a2a2a"/><circle cx="1971.4" cy="435.8" r="17.4" fill="#2a2a2a"/><circle cx="1971.2" cy="420.0" r="15.0" fill="#2a2a2a"/><circle cx="1982.6" cy="395.2" r="14.1" fill="#2a2a2a"/><circle cx="2002.3" cy="387.2" r="17.2" fill="#2a2a2a"/><circle cx="2028.4" cy="390.8" r="18.0" fill="#2a2a2a"/><circle cx="2043.0" cy="395.1" r="16.6" fill="#2a2a2a"/><circle cx="2055.6" cy="412.7" r="16.5" fill="#2a2a2a"/><circle cx="2062.0" cy="429.9" r="14.8" fill="#2a2a2a"/>
<circle cx="1836.0" cy="487.5" r="52.6" fill="#2a2a2a"/><circle cx="1875.8" cy="506.7" r="14.4" fill="#2a2a2a"/><circle cx="1868.0" cy="519.1" r="14.2" fill="#2a2a2a"/><circle cx="1853.8" cy="524.4" r="17.5" fill="#2a2a2a"/><circle cx="1824.0" cy="533.2" r="12.7" fill="#2a2a2a"/><circle cx="1804.4" cy="520.6" r="11.8" fill="#2a2a2a"/><circle cx="1793.6" cy="498.9" r="12.9" fill="#2a2a2a"/><circle cx="1789.2" cy="485.3" r="12.4" fill="#2a2a2a"/><circle cx="1799.7" cy="460.8" r="13.9" fill="#2a2a2a"/><circle cx="1816.7" cy="448.6" r="15.3" fill="#2a2a2a"/><circle cx="1824.8" cy="441.5" r="12.3" fill="#2a2a2a"/><circle cx="1847.2" cy="442.9" r="12.4" fill="#2a2a2a"/><circle cx="1867.6" cy="454.0" r="13.2" fill="#2a2a2a"/><circle cx="1875.2" cy="475.3" r="15.7" fill="#2a2a2a"/>
<circle cx="1945.5" cy="518.3" r="29.7" fill="#2a2a2a"/><circle cx="1923.4" cy="527.2" r="9.4" fill="#2a2a2a"/><circle cx="1920.5" cy="515.0" r="8.1" fill="#2a2a2a"/><circle cx="1926.9" cy="500.2" r="7.0" fill="#2a2a2a"/><circle cx="1935.4" cy="493.2" r="6.8" fill="#2a2a2a"/><circle cx="1952.8" cy="494.6" r="8.2" fill="#2a2a2a"/><circle cx="1965.8" cy="502.1" r="7.2" fill="#2a2a2a"/><circle cx="1970.9" cy="514.0" r="7.0" fill="#2a2a2a"/><circle cx="1967.5" cy="526.5" r="9.5" fill="#2a2a2a"/><circle cx="1961.4" cy="536.3" r="9.8" fill="#2a2a2a"/><circle cx="1945.9" cy="544.7" r="7.5" fill="#2a2a2a"/><circle cx="1931.2" cy="537.8" r="8.1" fill="#2a2a2a"/>
<circle cx="1898.2" cy="586.0" r="53.6" fill="#2a2a2a"/><circle cx="1863.9" cy="556.7" r="15.6" fill="#2a2a2a"/><circle cx="1875.7" cy="549.3" r="16.6" fill="#2a2a2a"/><circle cx="1891.7" cy="543.0" r="16.1" fill="#2a2a2a"/><circle cx="1925.8" cy="549.8" r="15.0" fill="#2a2a2a"/><circle cx="1931.2" cy="556.9" r="15.1" fill="#2a2a2a"/><circle cx="1940.5" cy="578.7" r="17.2" fill="#2a2a2a"/><circle cx="1943.5" cy="600.3" r="13.6" fill="#2a2a2a"/><circle cx="1926.4" cy="621.0" r="14.7" fill="#2a2a2a"/><circle cx="1904.4" cy="627.9" r="15.8" fill="#2a2a2a"/><circle cx="1889.3" cy="631.8" r="13.3" fill="#2a2a2a"/><circle cx="1863.9" cy="614.3" r="13.4" fill="#2a2a2a"/><circle cx="1852.9" cy="596.1" r="14.2" fill="#2a2a2a"/><circle cx="1851.3" cy="586.6" r="13.4" fill="#2a2a2a"/>
<circle cx="2019.0" cy="551.0" r="55.8" fill="#2a2a2a"/><circle cx="1971.4" cy="540.5" r="14.8" fill="#2a2a2a"/><circle cx="1981.9" cy="517.6" r="12.6" fill="#2a2a2a"/><circle cx="1992.9" cy="515.5" r="18.4" fill="#2a2a2a"/><circle cx="2014.9" cy="505.9" r="17.0" fill="#2a2a2a"/><circle cx="2041.4" cy="509.9" r="14.7" fill="#2a2a2a"/><circle cx="2054.5" cy="527.7" r="18.0" fill="#2a2a2a"/><circle cx="2060.5" cy="541.8" r="18.4" fill="#2a2a2a"/><circle cx="2060.7" cy="564.8" r="17.5" fill="#2a2a2a"/><circle cx="2043.8" cy="585.2" r="17.9" fill="#2a2a2a"/><circle cx="2024.2" cy="596.6" r="15.1" fill="#2a2a2a"/><circle cx="2008.0" cy="596.2" r="14.1" fill="#2a2a2a"/><circle cx="1992.7" cy="590.0" r="16.1" fill="#2a2a2a"/><circle cx="1974.9" cy="565.3" r="15.0" fill="#2a2a2a"/>
<circle cx="1883.0" cy="693.5" r="45.9" fill="#2a2a2a"/><circle cx="1859.3" cy="723.9" r="13.7" fill="#2a2a2a"/><circle cx="1848.3" cy="707.9" r="12.7" fill="#2a2a2a"/><circle cx="1847.2" cy="696.5" r="14.2" fill="#2a2a2a"/><circle cx="1851.3" cy="675.5" r="14.3" fill="#2a2a2a"/><circle cx="1858.1" cy="663.9" r="12.9" fill="#2a2a2a"/><circle cx="1873.5" cy="655.7" r="11.7" fill="#2a2a2a"/><circle cx="1898.7" cy="657.5" r="11.9" fill="#2a2a2a"/><circle cx="1907.4" cy="663.9" r="11.8" fill="#2a2a2a"/><circle cx="1922.3" cy="683.2" r="11.1" fill="#2a2a2a"/><circle cx="1921.0" cy="707.6" r="11.2" fill="#2a2a2a"/><circle cx="1915.3" cy="715.1" r="11.4" fill="#2a2a2a"/><circle cx="1901.0" cy="726.5" r="14.5" fill="#2a2a2a"/><circle cx="1882.0" cy="729.2" r="14.2" fill="#2a2a2a"/>
<circle cx="1999.0" cy="697.0" r="37.8" fill="#2a2a2a"/><circle cx="2028.5" cy="687.6" r="10.9" fill="#2a2a2a"/><circle cx="2027.5" cy="705.5" r="12.1" fill="#2a2a2a"/><circle cx="2022.2" cy="719.6" r="10.6" fill="#2a2a2a"/><circle cx="2009.3" cy="726.9" r="9.4" fill="#2a2a2a"/><circle cx="1995.0" cy="727.7" r="10.1" fill="#2a2a2a"/><circle cx="1982.3" cy="724.4" r="10.6" fill="#2a2a2a"/><circle cx="1969.8" cy="711.3" r="9.6" fill="#2a2a2a"/><circle cx="1968.0" cy="688.5" r="10.5" fill="#2a2a2a"/><circle cx="1974.2" cy="678.1" r="11.6" fill="#2a2a2a"/><circle cx="1990.4" cy="667.9" r="11.7" fill="#2a2a2a"/><circle cx="2001.6" cy="667.4" r="12.1" fill="#2a2a2a"/><circle cx="2017.3" cy="672.0" r="11.4" fill="#2a2a2a"/>
<circle cx="2127.0" cy="467.5" r="53.6" fill="#2a2a2a"/><circle cx="2167.8" cy="477.7" r="16.5" fill="#2a2a2a"/><circle cx="2161.1" cy="495.1" r="15.8" fill="#2a2a2a"/><circle cx="2149.4" cy="505.9" r="15.0" fill="#2a2a2a"/><circle cx="2126.3" cy="510.8" r="15.5" fill="#2a2a2a"/><circle cx="2103.2" cy="508.1" r="12.6" fill="#2a2a2a"/><circle cx="2097.2" cy="496.1" r="16.9" fill="#2a2a2a"/><circle cx="2080.7" cy="467.0" r="13.1" fill="#2a2a2a"/><circle cx="2082.6" cy="457.8" r="15.3" fill="#2a2a2a"/><circle cx="2098.9" cy="432.1" r="15.0" fill="#2a2a2a"/><circle cx="2112.0" cy="424.2" r="14.1" fill="#2a2a2a"/><circle cx="2130.4" cy="426.6" r="17.4" fill="#2a2a2a"/><circle cx="2153.9" cy="436.8" r="17.2" fill="#2a2a2a"/><circle cx="2172.9" cy="455.4" r="12.3" fill="#2a2a2a"/>
<circle cx="2240.0" cy="425.8" r="54.5" fill="#2a2a2a"/><circle cx="2226.6" cy="466.7" r="15.8" fill="#2a2a2a"/><circle cx="2207.2" cy="460.8" r="12.2" fill="#2a2a2a"/><circle cx="2201.0" cy="445.8" r="17.3" fill="#2a2a2a"/><circle cx="2191.6" cy="414.8" r="12.2" fill="#2a2a2a"/><circle cx="2202.4" cy="398.4" r="13.5" fill="#2a2a2a"/><circle cx="2224.3" cy="381.4" r="12.7" fill="#2a2a2a"/><circle cx="2244.6" cy="382.0" r="15.3" fill="#2a2a2a"/><circle cx="2260.8" cy="383.4" r="14.9" fill="#2a2a2a"/><circle cx="2272.6" cy="391.9" r="13.6" fill="#2a2a2a"/><circle cx="2283.8" cy="416.5" r="14.5" fill="#2a2a2a"/><circle cx="2284.9" cy="438.7" r="14.2" fill="#2a2a2a"/><circle cx="2271.9" cy="453.9" r="18.0" fill="#2a2a2a"/><circle cx="2247.2" cy="471.2" r="15.9" fill="#2a2a2a"/>
<circle cx="2290.0" cy="497.0" r="65.7" fill="#1a1a1a"/><circle cx="2237.4" cy="478.4" r="18.7" fill="#1a1a1a"/><circle cx="2242.7" cy="463.4" r="15.7" fill="#1a1a1a"/><circle cx="2265.9" cy="449.9" r="20.8" fill="#1a1a1a"/><circle cx="2307.1" cy="441.5" r="16.8" fill="#1a1a1a"/><circle cx="2315.7" cy="449.6" r="17.6" fill="#1a1a1a"/><circle cx="2341.2" cy="477.4" r="19.1" fill="#1a1a1a"/><circle cx="2341.0" cy="501.6" r="20.3" fill="#1a1a1a"/><circle cx="2338.6" cy="525.0" r="18.8" fill="#1a1a1a"/><circle cx="2325.6" cy="539.7" r="16.8" fill="#1a1a1a"/><circle cx="2296.2" cy="554.2" r="15.1" fill="#1a1a1a"/><circle cx="2266.9" cy="546.5" r="16.7" fill="#1a1a1a"/><circle cx="2243.3" cy="528.9" r="16.6" fill="#1a1a1a"/><circle cx="2237.0" cy="506.5" r="19.7" fill="#1a1a1a"/>
<circle cx="2305.0" cy="360.0" r="54.5" fill="#2a2a2a"/><circle cx="2338.3" cy="392.3" r="15.9" fill="#2a2a2a"/><circle cx="2323.1" cy="402.1" r="16.3" fill="#2a2a2a"/><circle cx="2293.0" cy="405.5" r="13.8" fill="#2a2a2a"/><circle cx="2282.5" cy="401.3" r="15.3" fill="#2a2a2a"/><circle cx="2264.8" cy="386.0" r="12.9" fill="#2a2a2a"/><circle cx="2260.5" cy="361.4" r="15.9" fill="#2a2a2a"/><circle cx="2262.0" cy="345.3" r="15.8" fill="#2a2a2a"/><circle cx="2283.9" cy="318.4" r="12.1" fill="#2a2a2a"/><circle cx="2299.4" cy="311.4" r="12.8" fill="#2a2a2a"/><circle cx="2322.6" cy="321.8" r="18.1" fill="#2a2a2a"/><circle cx="2335.9" cy="326.6" r="15.5" fill="#2a2a2a"/><circle cx="2346.7" cy="339.6" r="13.3" fill="#2a2a2a"/><circle cx="2349.4" cy="374.1" r="14.0" fill="#2a2a2a"/>
<circle cx="2076.0" cy="640.0" r="47.7" fill="#2a2a2a"/><circle cx="2059.9" cy="603.7" r="14.4" fill="#2a2a2a"/><circle cx="2069.8" cy="601.8" r="13.8" fill="#2a2a2a"/><circle cx="2088.3" cy="602.5" r="13.0" fill="#2a2a2a"/><circle cx="2107.5" cy="615.6" r="13.8" fill="#2a2a2a"/><circle cx="2113.3" cy="636.0" r="14.9" fill="#2a2a2a"/><circle cx="2114.0" cy="655.8" r="10.9" fill="#2a2a2a"/><circle cx="2106.8" cy="665.7" r="13.7" fill="#2a2a2a"/><circle cx="2081.9" cy="678.5" r="14.6" fill="#2a2a2a"/><circle cx="2067.7" cy="680.4" r="12.1" fill="#2a2a2a"/><circle cx="2049.1" cy="672.9" r="11.7" fill="#2a2a2a"/><circle cx="2041.2" cy="657.1" r="14.8" fill="#2a2a2a"/><circle cx="2039.1" cy="630.6" r="15.6" fill="#2a2a2a"/><circle cx="2048.2" cy="615.0" r="15.8" fill="#2a2a2a"/>
<circle cx="2148.5" cy="572.8" r="54.5" fill="#2a2a2a"/><circle cx="2185.3" cy="602.1" r="14.5" fill="#2a2a2a"/><circle cx="2164.9" cy="613.9" r="16.5" fill="#2a2a2a"/><circle cx="2153.0" cy="619.6" r="14.1" fill="#2a2a2a"/><circle cx="2131.5" cy="615.2" r="15.4" fill="#2a2a2a"/><circle cx="2106.7" cy="594.1" r="12.2" fill="#2a2a2a"/><circle cx="2105.2" cy="583.9" r="14.8" fill="#2a2a2a"/><circle cx="2105.0" cy="559.4" r="13.3" fill="#2a2a2a"/><circle cx="2115.7" cy="544.5" r="17.8" fill="#2a2a2a"/><circle cx="2143.9" cy="529.9" r="17.9" fill="#2a2a2a"/><circle cx="2164.4" cy="526.5" r="12.8" fill="#2a2a2a"/><circle cx="2174.6" cy="535.1" r="16.1" fill="#2a2a2a"/><circle cx="2190.2" cy="558.7" r="18.0" fill="#2a2a2a"/><circle cx="2194.3" cy="582.3" r="13.6" fill="#2a2a2a"/>
<circle cx="2240.5" cy="563.5" r="45.0" fill="#2a2a2a"/><circle cx="2204.5" cy="562.3" r="13.1" fill="#2a2a2a"/><circle cx="2204.7" cy="549.6" r="10.6" fill="#2a2a2a"/><circle cx="2225.6" cy="531.3" r="14.6" fill="#2a2a2a"/><circle cx="2233.9" cy="530.1" r="14.6" fill="#2a2a2a"/><circle cx="2254.0" cy="527.8" r="11.0" fill="#2a2a2a"/><circle cx="2269.0" cy="542.5" r="14.5" fill="#2a2a2a"/><circle cx="2278.1" cy="550.3" r="10.3" fill="#2a2a2a"/><circle cx="2279.9" cy="570.1" r="10.1" fill="#2a2a2a"/><circle cx="2272.0" cy="585.9" r="11.2" fill="#2a2a2a"/><circle cx="2251.4" cy="600.6" r="12.1" fill="#2a2a2a"/><circle cx="2228.9" cy="599.4" r="11.2" fill="#2a2a2a"/><circle cx="2220.2" cy="596.3" r="11.2" fill="#2a2a2a"/><circle cx="2211.2" cy="581.2" r="14.5" fill="#2a2a2a"/>
<circle cx="2320.0" cy="629.5" r="53.1" fill="#1a1a1a"/><circle cx="2275.4" cy="623.8" r="13.8" fill="#1a1a1a"/><circle cx="2289.3" cy="598.1" r="13.5" fill="#1a1a1a"/><circle cx="2310.1" cy="583.1" r="13.2" fill="#1a1a1a"/><circle cx="2328.4" cy="586.1" r="14.2" fill="#1a1a1a"/><circle cx="2348.5" cy="593.9" r="13.7" fill="#1a1a1a"/><circle cx="2358.8" cy="613.4" r="16.8" fill="#1a1a1a"/><circle cx="2367.4" cy="627.0" r="12.6" fill="#1a1a1a"/><circle cx="2362.3" cy="646.6" r="13.3" fill="#1a1a1a"/><circle cx="2336.6" cy="667.1" r="16.3" fill="#1a1a1a"/><circle cx="2326.7" cy="672.3" r="14.5" fill="#1a1a1a"/><circle cx="2298.5" cy="665.9" r="16.0" fill="#1a1a1a"/><circle cx="2283.1" cy="651.4" r="16.8" fill="#1a1a1a"/><circle cx="2275.2" cy="636.9" r="12.7" fill="#1a1a1a"/>
<circle cx="2156.0" cy="660.0" r="36.9" fill="#2a2a2a"/><circle cx="2187.1" cy="666.1" r="8.7" fill="#2a2a2a"/><circle cx="2179.0" cy="678.2" r="10.5" fill="#2a2a2a"/><circle cx="2166.1" cy="689.4" r="9.6" fill="#2a2a2a"/><circle cx="2147.5" cy="690.5" r="8.9" fill="#2a2a2a"/><circle cx="2131.0" cy="678.5" r="9.9" fill="#2a2a2a"/><circle cx="2127.8" cy="671.7" r="10.1" fill="#2a2a2a"/><circle cx="2125.2" cy="657.5" r="11.2" fill="#2a2a2a"/><circle cx="2133.6" cy="640.3" r="11.1" fill="#2a2a2a"/><circle cx="2145.9" cy="631.6" r="12.1" fill="#2a2a2a"/><circle cx="2165.1" cy="628.9" r="8.8" fill="#2a2a2a"/><circle cx="2181.2" cy="641.2" r="10.0" fill="#2a2a2a"/><circle cx="2183.8" cy="654.9" r="11.9" fill="#2a2a2a"/>
<circle cx="2226.5" cy="664.5" r="36.0" fill="#2a2a2a"/><circle cx="2248.7" cy="680.7" r="11.3" fill="#2a2a2a"/><circle cx="2239.4" cy="692.1" r="9.5" fill="#2a2a2a"/><circle cx="2225.9" cy="691.9" r="11.6" fill="#2a2a2a"/><circle cx="2212.5" cy="691.5" r="8.9" fill="#2a2a2a"/><circle cx="2197.5" cy="673.5" r="10.5" fill="#2a2a2a"/><circle cx="2196.6" cy="661.9" r="10.1" fill="#2a2a2a"/><circle cx="2202.3" cy="644.4" r="8.5" fill="#2a2a2a"/><circle cx="2209.8" cy="639.9" r="11.3" fill="#2a2a2a"/><circle cx="2228.7" cy="634.2" r="9.2" fill="#2a2a2a"/><circle cx="2245.3" cy="642.9" r="11.6" fill="#2a2a2a"/><circle cx="2255.7" cy="653.8" r="9.4" fill="#2a2a2a"/><circle cx="2254.5" cy="661.9" r="11.3" fill="#2a2a2a"/>
<circle cx="2352.0" cy="440.0" r="37.8" fill="#2a2a2a"/><circle cx="2382.2" cy="455.1" r="8.7" fill="#2a2a2a"/><circle cx="2360.1" cy="471.4" r="10.0" fill="#2a2a2a"/><circle cx="2352.7" cy="470.0" r="11.0" fill="#2a2a2a"/><circle cx="2337.8" cy="467.7" r="11.6" fill="#2a2a2a"/><circle cx="2320.5" cy="450.3" r="9.2" fill="#2a2a2a"/><circle cx="2320.0" cy="436.8" r="9.5" fill="#2a2a2a"/><circle cx="2328.4" cy="417.8" r="10.7" fill="#2a2a2a"/><circle cx="2333.7" cy="412.7" r="10.2" fill="#2a2a2a"/><circle cx="2353.9" cy="408.1" r="9.7" fill="#2a2a2a"/><circle cx="2371.3" cy="412.5" r="8.5" fill="#2a2a2a"/><circle cx="2383.5" cy="430.6" r="9.7" fill="#2a2a2a"/><circle cx="2385.4" cy="443.3" r="9.0" fill="#2a2a2a"/>
<circle cx="2345.0" cy="565.0" r="37.8" fill="#2a2a2a"/><circle cx="2314.4" cy="576.1" r="8.6" fill="#2a2a2a"/><circle cx="2311.7" cy="565.3" r="9.5" fill="#2a2a2a"/><circle cx="2319.3" cy="543.2" r="9.1" fill="#2a2a2a"/><circle cx="2338.0" cy="535.5" r="10.4" fill="#2a2a2a"/><circle cx="2353.3" cy="532.6" r="8.8" fill="#2a2a2a"/><circle cx="2365.8" cy="543.9" r="12.2" fill="#2a2a2a"/><circle cx="2371.8" cy="552.0" r="11.2" fill="#2a2a2a"/><circle cx="2373.5" cy="573.2" r="11.4" fill="#2a2a2a"/><circle cx="2372.6" cy="580.3" r="11.5" fill="#2a2a2a"/><circle cx="2357.0" cy="593.9" r="11.9" fill="#2a2a2a"/><circle cx="2335.8" cy="597.2" r="9.5" fill="#2a2a2a"/><circle cx="2327.3" cy="593.8" r="8.9" fill="#2a2a2a"/>
<circle cx="2290.0" cy="590.0" r="40.5" fill="#1a1a1a"/><circle cx="2294.1" cy="557.5" r="11.2" fill="#1a1a1a"/><circle cx="2316.1" cy="567.2" r="11.7" fill="#1a1a1a"/><circle cx="2320.1" cy="577.3" r="12.0" fill="#1a1a1a"/><circle cx="2324.3" cy="595.8" r="9.7" fill="#1a1a1a"/><circle cx="2317.5" cy="610.5" r="11.8" fill="#1a1a1a"/><circle cx="2301.8" cy="620.6" r="12.1" fill="#1a1a1a"/><circle cx="2289.1" cy="624.9" r="9.6" fill="#1a1a1a"/><circle cx="2266.1" cy="613.5" r="12.1" fill="#1a1a1a"/><circle cx="2258.9" cy="597.8" r="12.3" fill="#1a1a1a"/><circle cx="2254.8" cy="588.0" r="9.3" fill="#1a1a1a"/><circle cx="2263.1" cy="570.4" r="13.1" fill="#1a1a1a"/><circle cx="2284.8" cy="558.5" r="13.4" fill="#1a1a1a"/>
<circle cx="1860.8" cy="186.8" r="45.4" fill="#0c0c0c"/><circle cx="1833.2" cy="158.6" r="10.3" fill="#0c0c0c"/><circle cx="1847.9" cy="152.6" r="11.4" fill="#0c0c0c"/><circle cx="1863.2" cy="146.4" r="9.0" fill="#0c0c0c"/><circle cx="1885.5" cy="158.7" r="12.0" fill="#0c0c0c"/><circle cx="1897.9" cy="170.7" r="9.3" fill="#0c0c0c"/><circle cx="1899.2" cy="188.5" r="10.4" fill="#0c0c0c"/><circle cx="1892.7" cy="209.0" r="8.9" fill="#0c0c0c"/><circle cx="1883.6" cy="217.3" r="10.7" fill="#0c0c0c"/><circle cx="1868.5" cy="222.6" r="11.6" fill="#0c0c0c"/><circle cx="1845.2" cy="219.1" r="12.2" fill="#0c0c0c"/><circle cx="1830.1" cy="208.0" r="10.3" fill="#0c0c0c"/><circle cx="1822.1" cy="192.2" r="10.3" fill="#0c0c0c"/><circle cx="1823.0" cy="173.5" r="9.6" fill="#0c0c0c"/>
<circle cx="1784.3" cy="107.4" r="53.3" fill="#0c0c0c"/><circle cx="1773.4" cy="148.8" r="13.5" fill="#0c0c0c"/><circle cx="1750.1" cy="133.1" r="14.6" fill="#0c0c0c"/><circle cx="1744.5" cy="122.4" r="13.6" fill="#0c0c0c"/><circle cx="1742.3" cy="95.9" r="13.7" fill="#0c0c0c"/><circle cx="1757.9" cy="74.7" r="14.0" fill="#0c0c0c"/><circle cx="1765.3" cy="64.8" r="11.4" fill="#0c0c0c"/><circle cx="1783.4" cy="61.5" r="10.1" fill="#0c0c0c"/><circle cx="1805.6" cy="70.5" r="14.6" fill="#0c0c0c"/><circle cx="1826.1" cy="89.8" r="10.4" fill="#0c0c0c"/><circle cx="1828.5" cy="103.7" r="12.3" fill="#0c0c0c"/><circle cx="1822.3" cy="136.0" r="11.2" fill="#0c0c0c"/><circle cx="1816.6" cy="142.0" r="10.2" fill="#0c0c0c"/><circle cx="1788.5" cy="149.6" r="13.3" fill="#0c0c0c"/>
<circle cx="1945.0" cy="176.3" r="26.0" fill="#0c0c0c"/><circle cx="1942.9" cy="156.4" r="6.9" fill="#0c0c0c"/><circle cx="1949.8" cy="154.6" r="6.4" fill="#0c0c0c"/><circle cx="1964.0" cy="167.2" r="6.6" fill="#0c0c0c"/><circle cx="1966.7" cy="171.9" r="6.4" fill="#0c0c0c"/><circle cx="1964.3" cy="186.8" r="6.5" fill="#0c0c0c"/><circle cx="1957.4" cy="192.8" r="6.8" fill="#0c0c0c"/><circle cx="1944.0" cy="199.2" r="5.2" fill="#0c0c0c"/><circle cx="1932.1" cy="192.1" r="6.8" fill="#0c0c0c"/><circle cx="1926.5" cy="186.2" r="6.9" fill="#0c0c0c"/><circle cx="1925.2" cy="173.5" r="7.0" fill="#0c0c0c"/><circle cx="1929.4" cy="160.6" r="5.5" fill="#0c0c0c"/>
<circle cx="1954.3" cy="238.8" r="38.2" fill="#0c0c0c"/><circle cx="1921.2" cy="232.2" r="8.4" fill="#0c0c0c"/><circle cx="1932.6" cy="215.1" r="9.0" fill="#0c0c0c"/><circle cx="1948.0" cy="208.6" r="10.2" fill="#0c0c0c"/><circle cx="1965.7" cy="208.1" r="9.3" fill="#0c0c0c"/><circle cx="1973.5" cy="215.1" r="9.5" fill="#0c0c0c"/><circle cx="1985.6" cy="228.9" r="7.9" fill="#0c0c0c"/><circle cx="1985.2" cy="252.2" r="8.4" fill="#0c0c0c"/><circle cx="1977.3" cy="263.0" r="7.3" fill="#0c0c0c"/><circle cx="1958.0" cy="269.6" r="10.5" fill="#0c0c0c"/><circle cx="1951.3" cy="272.3" r="7.9" fill="#0c0c0c"/><circle cx="1927.4" cy="258.9" r="7.3" fill="#0c0c0c"/><circle cx="1924.4" cy="242.2" r="9.9" fill="#0c0c0c"/>
<circle cx="1789.8" cy="277.0" r="50.0" fill="#0c0c0c"/><circle cx="1746.0" cy="281.9" r="10.5" fill="#0c0c0c"/><circle cx="1749.5" cy="266.5" r="11.3" fill="#0c0c0c"/><circle cx="1764.7" cy="242.6" r="11.5" fill="#0c0c0c"/><circle cx="1774.1" cy="237.1" r="11.1" fill="#0c0c0c"/><circle cx="1793.8" cy="235.1" r="10.7" fill="#0c0c0c"/><circle cx="1814.8" cy="242.3" r="10.5" fill="#0c0c0c"/><circle cx="1824.3" cy="257.8" r="12.7" fill="#0c0c0c"/><circle cx="1830.4" cy="281.4" r="12.5" fill="#0c0c0c"/><circle cx="1818.1" cy="303.6" r="13.0" fill="#0c0c0c"/><circle cx="1803.4" cy="317.7" r="9.5" fill="#0c0c0c"/><circle cx="1782.5" cy="316.5" r="13.3" fill="#0c0c0c"/><circle cx="1769.0" cy="311.7" r="12.6" fill="#0c0c0c"/><circle cx="1756.5" cy="305.8" r="9.4" fill="#0c0c0c"/>
<circle cx="1925.0" cy="335.8" r="50.0" fill="#0c0c0c"/><circle cx="1963.3" cy="349.0" r="13.2" fill="#0c0c0c"/><circle cx="1956.2" cy="365.8" r="9.9" fill="#0c0c0c"/><circle cx="1937.0" cy="373.6" r="12.5" fill="#0c0c0c"/><circle cx="1919.7" cy="376.0" r="11.4" fill="#0c0c0c"/><circle cx="1908.2" cy="376.9" r="10.5" fill="#0c0c0c"/><circle cx="1889.8" cy="356.4" r="12.7" fill="#0c0c0c"/><circle cx="1883.4" cy="344.4" r="10.6" fill="#0c0c0c"/><circle cx="1883.0" cy="324.8" r="11.2" fill="#0c0c0c"/><circle cx="1896.3" cy="300.6" r="9.8" fill="#0c0c0c"/><circle cx="1918.3" cy="291.6" r="9.4" fill="#0c0c0c"/><circle cx="1933.9" cy="293.0" r="9.9" fill="#0c0c0c"/><circle cx="1956.6" cy="306.5" r="10.4" fill="#0c0c0c"/><circle cx="1969.5" cy="324.6" r="9.7" fill="#0c0c0c"/>
<circle cx="2039.5" cy="258.0" r="36.1" fill="#0c0c0c"/><circle cx="2055.3" cy="235.1" r="9.5" fill="#0c0c0c"/><circle cx="2063.7" cy="240.4" r="8.9" fill="#0c0c0c"/><circle cx="2068.4" cy="261.3" r="9.3" fill="#0c0c0c"/><circle cx="2064.2" cy="276.1" r="8.4" fill="#0c0c0c"/><circle cx="2054.2" cy="282.4" r="9.9" fill="#0c0c0c"/><circle cx="2034.7" cy="286.7" r="9.0" fill="#0c0c0c"/><circle cx="2026.3" cy="287.1" r="6.9" fill="#0c0c0c"/><circle cx="2011.2" cy="272.4" r="7.4" fill="#0c0c0c"/><circle cx="2009.5" cy="258.3" r="9.1" fill="#0c0c0c"/><circle cx="2018.7" cy="240.0" r="10.0" fill="#0c0c0c"/><circle cx="2025.0" cy="232.2" r="8.6" fill="#0c0c0c"/><circle cx="2040.9" cy="227.4" r="7.6" fill="#0c0c0c"/>
<circle cx="1805.6" cy="373.0" r="52.9" fill="#0c0c0c"/><circle cx="1789.0" cy="331.4" r="12.2" fill="#0c0c0c"/><circle cx="1816.7" cy="332.1" r="13.4" fill="#0c0c0c"/><circle cx="1832.0" cy="335.9" r="12.5" fill="#0c0c0c"/><circle cx="1845.4" cy="349.4" r="11.5" fill="#0c0c0c"/><circle cx="1853.9" cy="366.2" r="10.0" fill="#0c0c0c"/><circle cx="1845.9" cy="386.3" r="14.4" fill="#0c0c0c"/><circle cx="1829.4" cy="413.8" r="10.9" fill="#0c0c0c"/><circle cx="1814.9" cy="415.2" r="12.6" fill="#0c0c0c"/><circle cx="1796.9" cy="414.1" r="13.5" fill="#0c0c0c"/><circle cx="1780.1" cy="405.1" r="14.3" fill="#0c0c0c"/><circle cx="1762.2" cy="388.9" r="10.3" fill="#0c0c0c"/><circle cx="1764.5" cy="363.9" r="13.2" fill="#0c0c0c"/><circle cx="1779.9" cy="341.9" r="14.6" fill="#0c0c0c"/>
<circle cx="2046.2" cy="336.0" r="36.5" fill="#0c0c0c"/><circle cx="2014.6" cy="332.8" r="7.7" fill="#0c0c0c"/><circle cx="2023.9" cy="317.6" r="9.3" fill="#0c0c0c"/><circle cx="2036.8" cy="308.2" r="8.7" fill="#0c0c0c"/><circle cx="2048.5" cy="306.3" r="9.0" fill="#0c0c0c"/><circle cx="2064.5" cy="312.7" r="9.1" fill="#0c0c0c"/><circle cx="2074.9" cy="321.7" r="7.4" fill="#0c0c0c"/><circle cx="2078.8" cy="337.3" r="7.6" fill="#0c0c0c"/><circle cx="2071.9" cy="351.0" r="8.4" fill="#0c0c0c"/><circle cx="2058.9" cy="364.4" r="8.2" fill="#0c0c0c"/><circle cx="2043.3" cy="367.1" r="7.7" fill="#0c0c0c"/><circle cx="2031.4" cy="362.7" r="8.3" fill="#0c0c0c"/><circle cx="2020.0" cy="346.4" r="9.6" fill="#0c0c0c"/>
<circle cx="2108.0" cy="278.5" r="26.9" fill="#0c0c0c"/><circle cx="2128.4" cy="271.7" r="6.4" fill="#0c0c0c"/><circle cx="2131.2" cy="284.6" r="5.8" fill="#0c0c0c"/><circle cx="2124.9" cy="292.9" r="6.9" fill="#0c0c0c"/><circle cx="2116.2" cy="300.2" r="5.2" fill="#0c0c0c"/><circle cx="2104.7" cy="299.6" r="7.1" fill="#0c0c0c"/><circle cx="2088.7" cy="292.0" r="5.8" fill="#0c0c0c"/><circle cx="2087.5" cy="285.1" r="7.5" fill="#0c0c0c"/><circle cx="2089.2" cy="270.8" r="7.4" fill="#0c0c0c"/><circle cx="2095.4" cy="261.4" r="7.1" fill="#0c0c0c"/><circle cx="2109.2" cy="257.5" r="7.4" fill="#0c0c0c"/><circle cx="2121.9" cy="259.5" r="5.1" fill="#0c0c0c"/>
<circle cx="2235.3" cy="262.5" r="51.7" fill="#0c0c0c"/><circle cx="2225.3" cy="222.4" r="13.4" fill="#0c0c0c"/><circle cx="2240.5" cy="221.1" r="12.6" fill="#0c0c0c"/><circle cx="2261.9" cy="228.6" r="13.0" fill="#0c0c0c"/><circle cx="2267.9" cy="238.6" r="14.3" fill="#0c0c0c"/><circle cx="2280.1" cy="261.0" r="12.0" fill="#0c0c0c"/><circle cx="2272.8" cy="285.8" r="12.2" fill="#0c0c0c"/><circle cx="2260.3" cy="295.3" r="13.9" fill="#0c0c0c"/><circle cx="2238.5" cy="309.1" r="10.0" fill="#0c0c0c"/><circle cx="2217.0" cy="303.3" r="11.3" fill="#0c0c0c"/><circle cx="2209.2" cy="294.4" r="14.3" fill="#0c0c0c"/><circle cx="2193.4" cy="274.3" r="13.2" fill="#0c0c0c"/><circle cx="2191.0" cy="252.6" r="9.6" fill="#0c0c0c"/><circle cx="2202.9" cy="233.4" r="12.1" fill="#0c0c0c"/>
<circle cx="2351.0" cy="253.5" r="45.4" fill="#0c0c0c"/><circle cx="2350.0" cy="214.7" r="10.4" fill="#0c0c0c"/><circle cx="2363.8" cy="215.2" r="8.7" fill="#0c0c0c"/><circle cx="2376.8" cy="226.2" r="10.2" fill="#0c0c0c"/><circle cx="2385.2" cy="242.5" r="11.9" fill="#0c0c0c"/><circle cx="2387.2" cy="264.0" r="10.8" fill="#0c0c0c"/><circle cx="2378.8" cy="276.0" r="11.3" fill="#0c0c0c"/><circle cx="2368.3" cy="285.6" r="11.7" fill="#0c0c0c"/><circle cx="2351.1" cy="289.6" r="12.0" fill="#0c0c0c"/><circle cx="2336.3" cy="285.1" r="12.5" fill="#0c0c0c"/><circle cx="2313.8" cy="269.3" r="9.0" fill="#0c0c0c"/><circle cx="2316.0" cy="257.4" r="12.4" fill="#0c0c0c"/><circle cx="2317.8" cy="233.1" r="9.5" fill="#0c0c0c"/><circle cx="2334.0" cy="217.9" r="9.1" fill="#0c0c0c"/>
<circle cx="2157.7" cy="348.3" r="51.2" fill="#0c0c0c"/><circle cx="2171.4" cy="387.8" r="14.2" fill="#0c0c0c"/><circle cx="2162.6" cy="390.5" r="11.7" fill="#0c0c0c"/><circle cx="2131.1" cy="383.6" r="11.1" fill="#0c0c0c"/><circle cx="2124.6" cy="378.7" r="10.5" fill="#0c0c0c"/><circle cx="2116.0" cy="354.7" r="12.5" fill="#0c0c0c"/><circle cx="2117.8" cy="329.8" r="11.9" fill="#0c0c0c"/><circle cx="2128.0" cy="319.2" r="13.8" fill="#0c0c0c"/><circle cx="2144.5" cy="304.7" r="9.5" fill="#0c0c0c"/><circle cx="2166.0" cy="304.0" r="11.2" fill="#0c0c0c"/><circle cx="2188.0" cy="324.2" r="14.0" fill="#0c0c0c"/><circle cx="2198.0" cy="337.3" r="13.6" fill="#0c0c0c"/><circle cx="2199.6" cy="349.0" r="12.0" fill="#0c0c0c"/><circle cx="2195.6" cy="376.5" r="9.8" fill="#0c0c0c"/>
<circle cx="2288.6" cy="345.0" r="38.6" fill="#0c0c0c"/><circle cx="2258.5" cy="355.9" r="8.9" fill="#0c0c0c"/><circle cx="2256.1" cy="338.4" r="9.2" fill="#0c0c0c"/><circle cx="2262.8" cy="323.7" r="8.5" fill="#0c0c0c"/><circle cx="2279.2" cy="312.8" r="8.5" fill="#0c0c0c"/><circle cx="2290.3" cy="312.5" r="7.8" fill="#0c0c0c"/><circle cx="2310.5" cy="320.2" r="9.2" fill="#0c0c0c"/><circle cx="2318.5" cy="335.8" r="9.2" fill="#0c0c0c"/><circle cx="2319.9" cy="346.9" r="10.1" fill="#0c0c0c"/><circle cx="2314.7" cy="367.0" r="7.5" fill="#0c0c0c"/><circle cx="2303.6" cy="375.4" r="7.5" fill="#0c0c0c"/><circle cx="2286.6" cy="378.0" r="9.5" fill="#0c0c0c"/><circle cx="2266.2" cy="368.3" r="9.6" fill="#0c0c0c"/>
<circle cx="2014.8" cy="430.0" r="50.8" fill="#0c0c0c"/><circle cx="2051.9" cy="449.7" r="13.1" fill="#0c0c0c"/><circle cx="2028.2" cy="469.6" r="13.6" fill="#0c0c0c"/><circle cx="2017.3" cy="471.9" r="12.5" fill="#0c0c0c"/><circle cx="1993.7" cy="468.8" r="10.3" fill="#0c0c0c"/><circle cx="1979.3" cy="451.1" r="12.7" fill="#0c0c0c"/><circle cx="1974.0" cy="435.5" r="13.6" fill="#0c0c0c"/><circle cx="1973.9" cy="420.6" r="11.7" fill="#0c0c0c"/><circle cx="1984.6" cy="397.2" r="11.0" fill="#0c0c0c"/><circle cx="2003.0" cy="389.8" r="13.4" fill="#0c0c0c"/><circle cx="2027.6" cy="393.1" r="14.0" fill="#0c0c0c"/><circle cx="2041.3" cy="397.1" r="12.9" fill="#0c0c0c"/><circle cx="2053.2" cy="413.7" r="12.9" fill="#0c0c0c"/><circle cx="2059.2" cy="429.9" r="11.5" fill="#0c0c0c"/>
<circle cx="1836.0" cy="487.5" r="49.1" fill="#0c0c0c"/><circle cx="1873.4" cy="505.5" r="11.2" fill="#0c0c0c"/><circle cx="1866.0" cy="517.2" r="11.1" fill="#0c0c0c"/><circle cx="1852.7" cy="522.2" r="13.7" fill="#0c0c0c"/><circle cx="1824.7" cy="530.5" r="9.9" fill="#0c0c0c"/><circle cx="1806.3" cy="518.6" r="9.2" fill="#0c0c0c"/><circle cx="1796.2" cy="498.2" r="10.1" fill="#0c0c0c"/><circle cx="1792.0" cy="485.4" r="9.7" fill="#0c0c0c"/><circle cx="1801.8" cy="462.4" r="10.8" fill="#0c0c0c"/><circle cx="1817.8" cy="450.9" r="12.0" fill="#0c0c0c"/><circle cx="1825.5" cy="444.2" r="9.6" fill="#0c0c0c"/><circle cx="1846.5" cy="445.6" r="9.7" fill="#0c0c0c"/><circle cx="1865.7" cy="456.0" r="10.3" fill="#0c0c0c"/><circle cx="1872.9" cy="476.0" r="12.3" fill="#0c0c0c"/>
<circle cx="1945.5" cy="518.3" r="27.7" fill="#0c0c0c"/><circle cx="1924.7" cy="526.7" r="7.3" fill="#0c0c0c"/><circle cx="1922.0" cy="515.2" r="6.3" fill="#0c0c0c"/><circle cx="1928.0" cy="501.3" r="5.5" fill="#0c0c0c"/><circle cx="1936.0" cy="494.7" r="5.3" fill="#0c0c0c"/><circle cx="1952.4" cy="496.0" r="6.4" fill="#0c0c0c"/><circle cx="1964.6" cy="503.1" r="5.6" fill="#0c0c0c"/><circle cx="1969.4" cy="514.2" r="5.5" fill="#0c0c0c"/><circle cx="1966.2" cy="526.0" r="7.4" fill="#0c0c0c"/><circle cx="1960.4" cy="535.2" r="7.7" fill="#0c0c0c"/><circle cx="1945.9" cy="543.1" r="5.9" fill="#0c0c0c"/><circle cx="1932.1" cy="536.6" r="6.3" fill="#0c0c0c"/>
<circle cx="1898.2" cy="586.0" r="50.0" fill="#0c0c0c"/><circle cx="1866.0" cy="558.5" r="12.2" fill="#0c0c0c"/><circle cx="1877.0" cy="551.5" r="12.9" fill="#0c0c0c"/><circle cx="1892.1" cy="545.6" r="12.6" fill="#0c0c0c"/><circle cx="1924.2" cy="552.0" r="11.7" fill="#0c0c0c"/><circle cx="1929.3" cy="558.6" r="11.8" fill="#0c0c0c"/><circle cx="1938.0" cy="579.2" r="13.4" fill="#0c0c0c"/><circle cx="1940.7" cy="599.4" r="10.6" fill="#0c0c0c"/><circle cx="1924.7" cy="618.9" r="11.5" fill="#0c0c0c"/><circle cx="1904.0" cy="625.4" r="12.3" fill="#0c0c0c"/><circle cx="1889.9" cy="629.1" r="10.4" fill="#0c0c0c"/><circle cx="1865.9" cy="612.6" r="10.4" fill="#0c0c0c"/><circle cx="1855.6" cy="595.5" r="11.1" fill="#0c0c0c"/><circle cx="1854.1" cy="586.6" r="10.5" fill="#0c0c0c"/>
<circle cx="2019.0" cy="551.0" r="52.1" fill="#0c0c0c"/><circle cx="1974.3" cy="541.1" r="11.5" fill="#0c0c0c"/><circle cx="1984.1" cy="519.6" r="9.9" fill="#0c0c0c"/><circle cx="1994.4" cy="517.6" r="14.4" fill="#0c0c0c"/><circle cx="2015.2" cy="508.6" r="13.3" fill="#0c0c0c"/><circle cx="2040.1" cy="512.4" r="11.5" fill="#0c0c0c"/><circle cx="2052.4" cy="529.1" r="14.0" fill="#0c0c0c"/><circle cx="2058.0" cy="542.3" r="14.4" fill="#0c0c0c"/><circle cx="2058.2" cy="564.0" r="13.6" fill="#0c0c0c"/><circle cx="2042.3" cy="583.1" r="14.0" fill="#0c0c0c"/><circle cx="2023.8" cy="593.8" r="11.8" fill="#0c0c0c"/><circle cx="2008.7" cy="593.5" r="11.0" fill="#0c0c0c"/><circle cx="1994.3" cy="587.7" r="12.6" fill="#0c0c0c"/><circle cx="1977.5" cy="564.4" r="11.7" fill="#0c0c0c"/>
<circle cx="1883.0" cy="693.5" r="42.8" fill="#0c0c0c"/><circle cx="1860.7" cy="722.1" r="10.7" fill="#0c0c0c"/><circle cx="1850.4" cy="707.1" r="9.9" fill="#0c0c0c"/><circle cx="1849.3" cy="696.3" r="11.1" fill="#0c0c0c"/><circle cx="1853.2" cy="676.6" r="11.1" fill="#0c0c0c"/><circle cx="1859.6" cy="665.6" r="10.1" fill="#0c0c0c"/><circle cx="1874.0" cy="657.9" r="9.1" fill="#0c0c0c"/><circle cx="1897.7" cy="659.7" r="9.3" fill="#0c0c0c"/><circle cx="1905.9" cy="665.7" r="9.2" fill="#0c0c0c"/><circle cx="1919.9" cy="683.8" r="8.7" fill="#0c0c0c"/><circle cx="1918.7" cy="706.8" r="8.7" fill="#0c0c0c"/><circle cx="1913.4" cy="713.8" r="8.9" fill="#0c0c0c"/><circle cx="1900.0" cy="724.5" r="11.3" fill="#0c0c0c"/><circle cx="1882.1" cy="727.0" r="11.1" fill="#0c0c0c"/>
<circle cx="1999.0" cy="697.0" r="35.3" fill="#0c0c0c"/><circle cx="2026.8" cy="688.1" r="8.5" fill="#0c0c0c"/><circle cx="2025.8" cy="705.0" r="9.4" fill="#0c0c0c"/><circle cx="2020.8" cy="718.3" r="8.3" fill="#0c0c0c"/><circle cx="2008.6" cy="725.1" r="7.3" fill="#0c0c0c"/><circle cx="1995.2" cy="725.9" r="7.9" fill="#0c0c0c"/><circle cx="1983.3" cy="722.7" r="8.3" fill="#0c0c0c"/><circle cx="1971.6" cy="710.4" r="7.5" fill="#0c0c0c"/><circle cx="1969.8" cy="689.0" r="8.2" fill="#0c0c0c"/><circle cx="1975.7" cy="679.3" r="9.1" fill="#0c0c0c"/><circle cx="1990.9" cy="669.6" r="9.2" fill="#0c0c0c"/><circle cx="2001.5" cy="669.2" r="9.4" fill="#0c0c0c"/><circle cx="2016.2" cy="673.5" r="8.9" fill="#0c0c0c"/>
<circle cx="2127.0" cy="467.5" r="50.0" fill="#0c0c0c"/><circle cx="2165.3" cy="477.1" r="12.9" fill="#0c0c0c"/><circle cx="2159.0" cy="493.4" r="12.3" fill="#0c0c0c"/><circle cx="2148.0" cy="503.6" r="11.7" fill="#0c0c0c"/><circle cx="2126.4" cy="508.2" r="12.1" fill="#0c0c0c"/><circle cx="2104.6" cy="505.6" r="9.8" fill="#0c0c0c"/><circle cx="2098.9" cy="494.3" r="13.2" fill="#0c0c0c"/><circle cx="2083.4" cy="467.0" r="10.2" fill="#0c0c0c"/><circle cx="2085.3" cy="458.4" r="11.9" fill="#0c0c0c"/><circle cx="2100.6" cy="434.2" r="11.7" fill="#0c0c0c"/><circle cx="2112.9" cy="426.8" r="11.0" fill="#0c0c0c"/><circle cx="2130.2" cy="429.1" r="13.6" fill="#0c0c0c"/><circle cx="2152.3" cy="438.6" r="13.4" fill="#0c0c0c"/><circle cx="2170.1" cy="456.1" r="9.6" fill="#0c0c0c"/>
<circle cx="2240.0" cy="425.8" r="50.8" fill="#0c0c0c"/><circle cx="2227.4" cy="464.2" r="12.4" fill="#0c0c0c"/><circle cx="2209.2" cy="458.7" r="9.5" fill="#0c0c0c"/><circle cx="2203.3" cy="444.6" r="13.5" fill="#0c0c0c"/><circle cx="2194.5" cy="415.4" r="9.5" fill="#0c0c0c"/><circle cx="2204.6" cy="400.0" r="10.5" fill="#0c0c0c"/><circle cx="2225.2" cy="384.0" r="9.9" fill="#0c0c0c"/><circle cx="2244.3" cy="384.6" r="11.9" fill="#0c0c0c"/><circle cx="2259.5" cy="386.0" r="11.6" fill="#0c0c0c"/><circle cx="2270.6" cy="394.0" r="10.6" fill="#0c0c0c"/><circle cx="2281.2" cy="417.1" r="11.3" fill="#0c0c0c"/><circle cx="2282.2" cy="437.9" r="11.1" fill="#0c0c0c"/><circle cx="2269.9" cy="452.2" r="14.1" fill="#0c0c0c"/><circle cx="2246.8" cy="468.5" r="12.4" fill="#0c0c0c"/>
<circle cx="2305.0" cy="360.0" r="50.8" fill="#0c0c0c"/><circle cx="2336.3" cy="390.3" r="12.4" fill="#0c0c0c"/><circle cx="2322.0" cy="399.5" r="12.7" fill="#0c0c0c"/><circle cx="2293.7" cy="402.8" r="10.8" fill="#0c0c0c"/><circle cx="2283.8" cy="398.8" r="11.9" fill="#0c0c0c"/><circle cx="2267.2" cy="384.4" r="10.1" fill="#0c0c0c"/><circle cx="2263.1" cy="361.3" r="12.4" fill="#0c0c0c"/><circle cx="2264.6" cy="346.2" r="12.3" fill="#0c0c0c"/><circle cx="2285.1" cy="320.9" r="9.4" fill="#0c0c0c"/><circle cx="2299.8" cy="314.3" r="10.0" fill="#0c0c0c"/><circle cx="2321.6" cy="324.1" r="14.2" fill="#0c0c0c"/><circle cx="2334.1" cy="328.6" r="12.1" fill="#0c0c0c"/><circle cx="2344.2" cy="340.8" r="10.4" fill="#0c0c0c"/><circle cx="2346.7" cy="373.3" r="10.9" fill="#0c0c0c"/>
<circle cx="2076.0" cy="640.0" r="44.5" fill="#0c0c0c"/><circle cx="2060.8" cy="605.9" r="11.2" fill="#0c0c0c"/><circle cx="2070.2" cy="604.1" r="10.7" fill="#0c0c0c"/><circle cx="2087.5" cy="604.8" r="10.1" fill="#0c0c0c"/><circle cx="2105.6" cy="617.1" r="10.7" fill="#0c0c0c"/><circle cx="2111.1" cy="636.2" r="11.7" fill="#0c0c0c"/><circle cx="2111.8" cy="654.8" r="8.5" fill="#0c0c0c"/><circle cx="2105.0" cy="664.1" r="10.7" fill="#0c0c0c"/><circle cx="2081.5" cy="676.1" r="11.4" fill="#0c0c0c"/><circle cx="2068.2" cy="678.0" r="9.5" fill="#0c0c0c"/><circle cx="2050.7" cy="671.0" r="9.1" fill="#0c0c0c"/><circle cx="2043.3" cy="656.1" r="11.6" fill="#0c0c0c"/><circle cx="2041.3" cy="631.1" r="12.1" fill="#0c0c0c"/><circle cx="2049.8" cy="616.5" r="12.4" fill="#0c0c0c"/>
<circle cx="2148.5" cy="572.8" r="50.8" fill="#0c0c0c"/><circle cx="2183.1" cy="600.4" r="11.3" fill="#0c0c0c"/><circle cx="2164.0" cy="611.4" r="12.9" fill="#0c0c0c"/><circle cx="2152.8" cy="616.8" r="11.0" fill="#0c0c0c"/><circle cx="2132.5" cy="612.7" r="12.0" fill="#0c0c0c"/><circle cx="2109.2" cy="592.8" r="9.5" fill="#0c0c0c"/><circle cx="2107.8" cy="583.2" r="11.5" fill="#0c0c0c"/><circle cx="2107.6" cy="560.2" r="10.3" fill="#0c0c0c"/><circle cx="2117.7" cy="546.2" r="13.9" fill="#0c0c0c"/><circle cx="2144.1" cy="532.5" r="13.9" fill="#0c0c0c"/><circle cx="2163.4" cy="529.3" r="10.0" fill="#0c0c0c"/><circle cx="2173.0" cy="537.3" r="12.5" fill="#0c0c0c"/><circle cx="2187.7" cy="559.6" r="14.0" fill="#0c0c0c"/><circle cx="2191.5" cy="581.7" r="10.6" fill="#0c0c0c"/>
<circle cx="2240.5" cy="563.5" r="42.0" fill="#0c0c0c"/><circle cx="2206.7" cy="562.3" r="10.2" fill="#0c0c0c"/><circle cx="2206.9" cy="550.5" r="8.2" fill="#0c0c0c"/><circle cx="2226.5" cy="533.3" r="11.4" fill="#0c0c0c"/><circle cx="2234.3" cy="532.1" r="11.4" fill="#0c0c0c"/><circle cx="2253.2" cy="529.9" r="8.6" fill="#0c0c0c"/><circle cx="2267.3" cy="543.7" r="11.3" fill="#0c0c0c"/><circle cx="2275.9" cy="551.1" r="8.0" fill="#0c0c0c"/><circle cx="2277.5" cy="569.7" r="7.9" fill="#0c0c0c"/><circle cx="2270.1" cy="584.6" r="8.7" fill="#0c0c0c"/><circle cx="2250.8" cy="598.3" r="9.4" fill="#0c0c0c"/><circle cx="2229.6" cy="597.2" r="8.7" fill="#0c0c0c"/><circle cx="2221.4" cy="594.3" r="8.7" fill="#0c0c0c"/><circle cx="2212.9" cy="580.2" r="11.3" fill="#0c0c0c"/>
<circle cx="2156.0" cy="660.0" r="34.4" fill="#0c0c0c"/><circle cx="2185.2" cy="665.7" r="6.8" fill="#0c0c0c"/><circle cx="2177.6" cy="677.1" r="8.2" fill="#0c0c0c"/><circle cx="2165.5" cy="687.6" r="7.5" fill="#0c0c0c"/><circle cx="2148.0" cy="688.6" r="6.9" fill="#0c0c0c"/><circle cx="2132.5" cy="677.4" r="7.7" fill="#0c0c0c"/><circle cx="2129.5" cy="671.0" r="7.9" fill="#0c0c0c"/><circle cx="2127.0" cy="657.7" r="8.8" fill="#0c0c0c"/><circle cx="2134.9" cy="641.5" r="8.7" fill="#0c0c0c"/><circle cx="2146.5" cy="633.3" r="9.4" fill="#0c0c0c"/><circle cx="2164.6" cy="630.8" r="6.9" fill="#0c0c0c"/><circle cx="2179.7" cy="642.3" r="7.8" fill="#0c0c0c"/><circle cx="2182.1" cy="655.2" r="9.3" fill="#0c0c0c"/>
<circle cx="2226.5" cy="664.5" r="33.6" fill="#0c0c0c"/><circle cx="2247.4" cy="679.8" r="8.8" fill="#0c0c0c"/><circle cx="2238.7" cy="690.4" r="7.4" fill="#0c0c0c"/><circle cx="2226.0" cy="690.3" r="9.1" fill="#0c0c0c"/><circle cx="2213.4" cy="689.8" r="6.9" fill="#0c0c0c"/><circle cx="2199.3" cy="673.0" r="8.2" fill="#0c0c0c"/><circle cx="2198.4" cy="662.0" r="7.9" fill="#0c0c0c"/><circle cx="2203.8" cy="645.6" r="6.6" fill="#0c0c0c"/><circle cx="2210.8" cy="641.4" r="8.8" fill="#0c0c0c"/><circle cx="2228.5" cy="636.0" r="7.2" fill="#0c0c0c"/><circle cx="2244.2" cy="644.2" r="9.0" fill="#0c0c0c"/><circle cx="2254.0" cy="654.5" r="7.3" fill="#0c0c0c"/><circle cx="2252.8" cy="662.1" r="8.8" fill="#0c0c0c"/>
<circle cx="2352.0" cy="440.0" r="35.3" fill="#0c0c0c"/><circle cx="2380.4" cy="454.2" r="6.8" fill="#0c0c0c"/><circle cx="2359.6" cy="469.5" r="7.8" fill="#0c0c0c"/><circle cx="2352.6" cy="468.2" r="8.6" fill="#0c0c0c"/><circle cx="2338.7" cy="466.0" r="9.0" fill="#0c0c0c"/><circle cx="2322.4" cy="449.7" r="7.2" fill="#0c0c0c"/><circle cx="2322.0" cy="437.0" r="7.4" fill="#0c0c0c"/><circle cx="2329.8" cy="419.1" r="8.3" fill="#0c0c0c"/><circle cx="2334.8" cy="414.4" r="8.0" fill="#0c0c0c"/><circle cx="2353.8" cy="410.0" r="7.6" fill="#0c0c0c"/><circle cx="2370.1" cy="414.1" r="6.7" fill="#0c0c0c"/><circle cx="2381.6" cy="431.1" r="7.5" fill="#0c0c0c"/><circle cx="2383.4" cy="443.1" r="7.0" fill="#0c0c0c"/>
<circle cx="2345.0" cy="565.0" r="35.3" fill="#0c0c0c"/><circle cx="2316.2" cy="575.5" r="6.7" fill="#0c0c0c"/><circle cx="2313.7" cy="565.3" r="7.4" fill="#0c0c0c"/><circle cx="2320.8" cy="544.5" r="7.1" fill="#0c0c0c"/><circle cx="2338.4" cy="537.3" r="8.1" fill="#0c0c0c"/><circle cx="2352.8" cy="534.5" r="6.8" fill="#0c0c0c"/><circle cx="2364.5" cy="545.2" r="9.5" fill="#0c0c0c"/><circle cx="2370.2" cy="552.8" r="8.7" fill="#0c0c0c"/><circle cx="2371.8" cy="572.8" r="8.9" fill="#0c0c0c"/><circle cx="2371.0" cy="579.4" r="9.0" fill="#0c0c0c"/><circle cx="2356.3" cy="592.1" r="9.3" fill="#0c0c0c"/><circle cx="2336.4" cy="595.3" r="7.4" fill="#0c0c0c"/><circle cx="2328.3" cy="592.1" r="7.0" fill="#0c0c0c"/>
<line x1="1834.5" y1="189.4" x2="1846.2" y2="190.0" stroke="#3c3c3c" stroke-width="4.0" stroke-linecap="round" stroke-opacity="0.49"/><line x1="1838.3" y1="181.0" x2="1846.8" y2="184.5" stroke="#3c3c3c" stroke-width="3.2" stroke-linecap="round" stroke-opacity="0.53"/><line x1="1830.0" y1="178.4" x2="1838.8" y2="180.2" stroke="#444444" stroke-width="6.3" stroke-linecap="round" stroke-opacity="0.36"/><line x1="1887.8" y1="161.6" x2="1876.8" y2="166.8" stroke="#555555" stroke-width="5.6" stroke-linecap="round" stroke-opacity="0.73"/><line x1="1891.5" y1="177.6" x2="1876.6" y2="181.5" stroke="#444444" stroke-width="6.1" stroke-linecap="round" stroke-opacity="0.57"/><line x1="1855.9" y1="220.6" x2="1858.8" y2="209.8" stroke="#333333" stroke-width="5.5" stroke-linecap="round" stroke-opacity="0.73"/><line x1="1904.2" y1="162.8" x2="1891.7" y2="165.6" stroke="#444444" stroke-width="5.0" stroke-linecap="round" stroke-opacity="0.36"/><line x1="1846.4" y1="168.7" x2="1856.3" y2="175.3" stroke="#333333" stroke-width="4.1" stroke-linecap="round" stroke-opacity="0.55"/><line x1="1836.5" y1="226.4" x2="1844.0" y2="220.1" stroke="#333333" stroke-width="3.9" stroke-linecap="round" stroke-opacity="0.39"/><line x1="1896.3" y1="191.1" x2="1878.0" y2="190.8" stroke="#4a4a4a" stroke-width="5.7" stroke-linecap="round" stroke-opacity="0.64"/><line x1="1862.1" y1="138.2" x2="1864.8" y2="146.6" stroke="#3c3c3c" stroke-width="3.8" stroke-linecap="round" stroke-opacity="0.56"/><line x1="1897.4" y1="218.8" x2="1887.1" y2="212.5" stroke="#555555" stroke-width="3.6" stroke-linecap="round" stroke-opacity="0.62"/><line x1="1860.5" y1="164.3" x2="1855.5" y2="179.7" stroke="#4a4a4a" stroke-width="5.0" stroke-linecap="round" stroke-opacity="0.77"/><line x1="1818.7" y1="165.1" x2="1826.5" y2="172.8" stroke="#3c3c3c" stroke-width="3.3" stroke-linecap="round" stroke-opacity="0.66"/><line x1="1845.4" y1="171.0" x2="1853.3" y2="184.5" stroke="#444444" stroke-width="5.8" stroke-linecap="round" stroke-opacity="0.71"/><line x1="1842.3" y1="178.7" x2="1853.4" y2="185.1" stroke="#4a4a4a" stroke-width="4.8" stroke-linecap="round" stroke-opacity="0.50"/><line x1="1887.0" y1="150.6" x2="1880.7" y2="155.1" stroke="#333333" stroke-width="5.5" stroke-linecap="round" stroke-opacity="0.55"/><line x1="1855.8" y1="137.9" x2="1854.7" y2="147.5" stroke="#444444" stroke-width="5.7" stroke-linecap="round" stroke-opacity="0.56"/><line x1="1878.0" y1="153.5" x2="1874.9" y2="163.4" stroke="#4a4a4a" stroke-width="4.0" stroke-linecap="round" stroke-opacity="0.55"/><line x1="1860.9" y1="150.1" x2="1862.5" y2="164.4" stroke="#333333" stroke-width="6.0" stroke-linecap="round" stroke-opacity="0.43"/><line x1="1871.1" y1="229.5" x2="1871.4" y2="218.9" stroke="#555555" stroke-width="4.9" stroke-linecap="round" stroke-opacity="0.58"/><line x1="1870.4" y1="211.5" x2="1866.7" y2="200.8" stroke="#3c3c3c" stroke-width="5.4" stroke-linecap="round" stroke-opacity="0.64"/><line x1="1817.1" y1="189.3" x2="1824.5" y2="187.4" stroke="#3c3c3c" stroke-width="4.1" stroke-linecap="round" stroke-opacity="0.61"/><line x1="1825.8" y1="192.7" x2="1837.3" y2="192.8" stroke="#555555" stroke-width="4.2" stroke-linecap="round" stroke-opacity="0.55"/>
<line x1="1805.7" y1="54.4" x2="1803.9" y2="63.0" stroke="#444444" stroke-width="5.7" stroke-linecap="round" stroke-opacity="0.62"/><line x1="1792.0" y1="77.9" x2="1788.8" y2="92.4" stroke="#333333" stroke-width="4.0" stroke-linecap="round" stroke-opacity="0.61"/><line x1="1745.4" y1="126.1" x2="1753.8" y2="125.0" stroke="#4a4a4a" stroke-width="6.3" stroke-linecap="round" stroke-opacity="0.44"/><line x1="1795.6" y1="152.6" x2="1791.1" y2="143.8" stroke="#4a4a4a" stroke-width="3.5" stroke-linecap="round" stroke-opacity="0.53"/><line x1="1769.6" y1="70.7" x2="1773.7" y2="77.7" stroke="#555555" stroke-width="5.5" stroke-linecap="round" stroke-opacity="0.55"/><line x1="1762.7" y1="55.4" x2="1768.3" y2="73.2" stroke="#3c3c3c" stroke-width="4.5" stroke-linecap="round" stroke-opacity="0.60"/><line x1="1750.9" y1="62.8" x2="1766.4" y2="74.1" stroke="#3c3c3c" stroke-width="5.8" stroke-linecap="round" stroke-opacity="0.62"/><line x1="1809.6" y1="57.2" x2="1803.6" y2="69.7" stroke="#555555" stroke-width="5.4" stroke-linecap="round" stroke-opacity="0.77"/><line x1="1743.9" y1="107.3" x2="1752.2" y2="104.5" stroke="#333333" stroke-width="5.6" stroke-linecap="round" stroke-opacity="0.62"/><line x1="1814.6" y1="112.4" x2="1799.0" y2="105.5" stroke="#444444" stroke-width="6.3" stroke-linecap="round" stroke-opacity="0.80"/><line x1="1769.2" y1="79.0" x2="1771.7" y2="86.8" stroke="#333333" stroke-width="4.8" stroke-linecap="round" stroke-opacity="0.55"/><line x1="1773.9" y1="165.4" x2="1779.2" y2="152.8" stroke="#4a4a4a" stroke-width="4.6" stroke-linecap="round" stroke-opacity="0.53"/><line x1="1773.0" y1="130.9" x2="1776.7" y2="121.8" stroke="#333333" stroke-width="4.0" stroke-linecap="round" stroke-opacity="0.78"/><line x1="1800.8" y1="68.3" x2="1797.1" y2="81.7" stroke="#555555" stroke-width="3.4" stroke-linecap="round" stroke-opacity="0.70"/><line x1="1819.1" y1="67.9" x2="1812.7" y2="72.2" stroke="#333333" stroke-width="4.4" stroke-linecap="round" stroke-opacity="0.43"/><line x1="1751.9" y1="145.6" x2="1764.6" y2="135.3" stroke="#3c3c3c" stroke-width="3.9" stroke-linecap="round" stroke-opacity="0.41"/><line x1="1771.4" y1="160.5" x2="1770.1" y2="146.2" stroke="#444444" stroke-width="5.8" stroke-linecap="round" stroke-opacity="0.67"/><line x1="1775.8" y1="128.5" x2="1778.3" y2="115.4" stroke="#4a4a4a" stroke-width="4.6" stroke-linecap="round" stroke-opacity="0.40"/><line x1="1804.3" y1="72.1" x2="1795.5" y2="87.4" stroke="#555555" stroke-width="4.5" stroke-linecap="round" stroke-opacity="0.57"/><line x1="1745.8" y1="114.2" x2="1754.8" y2="110.5" stroke="#444444" stroke-width="4.8" stroke-linecap="round" stroke-opacity="0.75"/><line x1="1805.6" y1="83.0" x2="1794.2" y2="97.7" stroke="#444444" stroke-width="3.9" stroke-linecap="round" stroke-opacity="0.35"/><line x1="1776.3" y1="54.9" x2="1776.9" y2="70.6" stroke="#3c3c3c" stroke-width="4.6" stroke-linecap="round" stroke-opacity="0.57"/><line x1="1759.4" y1="151.1" x2="1768.8" y2="142.3" stroke="#3c3c3c" stroke-width="6.4" stroke-linecap="round" stroke-opacity="0.46"/><line x1="1744.4" y1="143.5" x2="1753.1" y2="133.3" stroke="#333333" stroke-width="5.5" stroke-linecap="round" stroke-opacity="0.72"/><line x1="1749.1" y1="138.0" x2="1766.8" y2="131.0" stroke="#333333" stroke-width="6.4" stroke-linecap="round" stroke-opacity="0.41"/><line x1="1817.9" y1="100.0" x2="1808.9" y2="99.7" stroke="#4a4a4a" stroke-width="4.8" stroke-linecap="round" stroke-opacity="0.56"/><line x1="1777.9" y1="70.6" x2="1784.6" y2="86.0" stroke="#333333" stroke-width="5.7" stroke-linecap="round" stroke-opacity="0.47"/><line x1="1757.9" y1="81.6" x2="1764.9" y2="86.9" stroke="#444444" stroke-width="4.3" stroke-linecap="round" stroke-opacity="0.49"/>
<line x1="1970.3" y1="177.8" x2="1960.6" y2="176.0" stroke="#3c3c3c" stroke-width="3.3" stroke-linecap="round" stroke-opacity="0.78"/><line x1="1961.2" y1="175.0" x2="1950.9" y2="174.5" stroke="#333333" stroke-width="6.0" stroke-linecap="round" stroke-opacity="0.44"/><line x1="1930.4" y1="189.2" x2="1934.5" y2="185.9" stroke="#444444" stroke-width="4.0" stroke-linecap="round" stroke-opacity="0.66"/><line x1="1970.5" y1="179.8" x2="1964.2" y2="181.2" stroke="#4a4a4a" stroke-width="6.2" stroke-linecap="round" stroke-opacity="0.69"/><line x1="1958.5" y1="152.8" x2="1955.5" y2="161.3" stroke="#555555" stroke-width="3.8" stroke-linecap="round" stroke-opacity="0.44"/><line x1="1944.9" y1="200.7" x2="1946.1" y2="191.9" stroke="#3c3c3c" stroke-width="5.2" stroke-linecap="round" stroke-opacity="0.76"/><line x1="1935.1" y1="163.3" x2="1938.8" y2="168.8" stroke="#3c3c3c" stroke-width="3.3" stroke-linecap="round" stroke-opacity="0.48"/><line x1="1944.8" y1="162.3" x2="1944.7" y2="166.9" stroke="#555555" stroke-width="4.9" stroke-linecap="round" stroke-opacity="0.76"/><line x1="1952.5" y1="162.8" x2="1948.1" y2="171.0" stroke="#555555" stroke-width="5.6" stroke-linecap="round" stroke-opacity="0.50"/><line x1="1966.1" y1="194.9" x2="1963.8" y2="190.9" stroke="#333333" stroke-width="6.4" stroke-linecap="round" stroke-opacity="0.71"/><line x1="1928.3" y1="195.0" x2="1930.9" y2="192.2" stroke="#333333" stroke-width="4.3" stroke-linecap="round" stroke-opacity="0.69"/><line x1="1943.6" y1="193.9" x2="1943.5" y2="185.9" stroke="#3c3c3c" stroke-width="4.7" stroke-linecap="round" stroke-opacity="0.63"/><line x1="1960.7" y1="170.4" x2="1953.1" y2="172.4" stroke="#333333" stroke-width="6.2" stroke-linecap="round" stroke-opacity="0.49"/><line x1="1933.8" y1="183.6" x2="1941.5" y2="176.9" stroke="#333333" stroke-width="3.4" stroke-linecap="round" stroke-opacity="0.46"/>
<line x1="1969.0" y1="212.0" x2="1961.5" y2="220.5" stroke="#3c3c3c" stroke-width="4.1" stroke-linecap="round" stroke-opacity="0.42"/><line x1="1967.3" y1="229.4" x2="1958.3" y2="240.2" stroke="#3c3c3c" stroke-width="4.9" stroke-linecap="round" stroke-opacity="0.71"/><line x1="1984.2" y1="263.5" x2="1978.6" y2="259.7" stroke="#3c3c3c" stroke-width="5.1" stroke-linecap="round" stroke-opacity="0.36"/><line x1="1952.4" y1="258.0" x2="1950.8" y2="248.5" stroke="#4a4a4a" stroke-width="4.7" stroke-linecap="round" stroke-opacity="0.70"/><line x1="1935.6" y1="237.2" x2="1945.3" y2="241.3" stroke="#4a4a4a" stroke-width="5.5" stroke-linecap="round" stroke-opacity="0.76"/><line x1="1941.4" y1="218.7" x2="1950.7" y2="226.1" stroke="#333333" stroke-width="6.0" stroke-linecap="round" stroke-opacity="0.54"/><line x1="1981.3" y1="260.6" x2="1975.6" y2="252.5" stroke="#555555" stroke-width="5.1" stroke-linecap="round" stroke-opacity="0.38"/><line x1="1949.2" y1="271.0" x2="1949.6" y2="260.1" stroke="#444444" stroke-width="4.9" stroke-linecap="round" stroke-opacity="0.55"/><line x1="1939.7" y1="227.4" x2="1947.3" y2="237.2" stroke="#444444" stroke-width="5.5" stroke-linecap="round" stroke-opacity="0.45"/><line x1="1933.4" y1="245.4" x2="1941.7" y2="242.5" stroke="#333333" stroke-width="5.6" stroke-linecap="round" stroke-opacity="0.49"/><line x1="1945.6" y1="259.7" x2="1953.1" y2="246.7" stroke="#333333" stroke-width="3.2" stroke-linecap="round" stroke-opacity="0.72"/><line x1="1969.7" y1="249.0" x2="1960.8" y2="239.8" stroke="#444444" stroke-width="3.2" stroke-linecap="round" stroke-opacity="0.78"/><line x1="1923.2" y1="226.1" x2="1930.8" y2="231.9" stroke="#333333" stroke-width="6.0" stroke-linecap="round" stroke-opacity="0.67"/><line x1="1985.4" y1="232.5" x2="1976.6" y2="233.8" stroke="#3c3c3c" stroke-width="3.5" stroke-linecap="round" stroke-opacity="0.57"/><line x1="1968.7" y1="218.2" x2="1965.0" y2="228.6" stroke="#555555" stroke-width="5.0" stroke-linecap="round" stroke-opacity="0.71"/><line x1="1977.7" y1="204.4" x2="1969.2" y2="215.0" stroke="#444444" stroke-width="3.1" stroke-linecap="round" stroke-opacity="0.77"/><line x1="1965.3" y1="218.6" x2="1961.0" y2="224.4" stroke="#555555" stroke-width="6.2" stroke-linecap="round" stroke-opacity="0.51"/><line x1="1962.5" y1="256.7" x2="1954.5" y2="247.7" stroke="#4a4a4a" stroke-width="3.3" stroke-linecap="round" stroke-opacity="0.59"/><line x1="1934.4" y1="258.4" x2="1938.7" y2="252.8" stroke="#555555" stroke-width="5.7" stroke-linecap="round" stroke-opacity="0.61"/><line x1="1969.2" y1="247.6" x2="1963.5" y2="243.5" stroke="#4a4a4a" stroke-width="4.0" stroke-linecap="round" stroke-opacity="0.65"/>
<line x1="1803.2" y1="237.0" x2="1792.7" y2="251.7" stroke="#4a4a4a" stroke-width="4.5" stroke-linecap="round" stroke-opacity="0.40"/><line x1="1757.9" y1="290.6" x2="1766.0" y2="289.4" stroke="#555555" stroke-width="3.8" stroke-linecap="round" stroke-opacity="0.70"/><line x1="1827.7" y1="296.7" x2="1814.1" y2="293.0" stroke="#555555" stroke-width="4.2" stroke-linecap="round" stroke-opacity="0.78"/><line x1="1774.0" y1="256.5" x2="1780.2" y2="262.2" stroke="#3c3c3c" stroke-width="5.1" stroke-linecap="round" stroke-opacity="0.69"/><line x1="1774.7" y1="254.7" x2="1784.4" y2="268.9" stroke="#444444" stroke-width="5.7" stroke-linecap="round" stroke-opacity="0.55"/><line x1="1825.6" y1="258.5" x2="1811.3" y2="264.4" stroke="#555555" stroke-width="3.5" stroke-linecap="round" stroke-opacity="0.38"/><line x1="1760.6" y1="288.1" x2="1769.0" y2="281.4" stroke="#444444" stroke-width="3.3" stroke-linecap="round" stroke-opacity="0.56"/><line x1="1822.4" y1="284.9" x2="1812.1" y2="281.2" stroke="#4a4a4a" stroke-width="5.2" stroke-linecap="round" stroke-opacity="0.58"/><line x1="1750.9" y1="286.3" x2="1768.4" y2="287.0" stroke="#333333" stroke-width="6.2" stroke-linecap="round" stroke-opacity="0.61"/><line x1="1805.6" y1="315.6" x2="1804.7" y2="301.9" stroke="#333333" stroke-width="3.4" stroke-linecap="round" stroke-opacity="0.75"/><line x1="1764.6" y1="314.9" x2="1769.4" y2="302.0" stroke="#3c3c3c" stroke-width="5.5" stroke-linecap="round" stroke-opacity="0.80"/><line x1="1748.4" y1="270.7" x2="1759.2" y2="275.8" stroke="#333333" stroke-width="4.4" stroke-linecap="round" stroke-opacity="0.50"/><line x1="1750.5" y1="249.3" x2="1765.4" y2="254.0" stroke="#4a4a4a" stroke-width="5.0" stroke-linecap="round" stroke-opacity="0.52"/><line x1="1789.2" y1="327.2" x2="1790.8" y2="307.5" stroke="#3c3c3c" stroke-width="4.2" stroke-linecap="round" stroke-opacity="0.61"/><line x1="1810.5" y1="302.5" x2="1800.3" y2="285.6" stroke="#333333" stroke-width="3.5" stroke-linecap="round" stroke-opacity="0.67"/><line x1="1824.4" y1="297.4" x2="1810.1" y2="291.1" stroke="#3c3c3c" stroke-width="5.3" stroke-linecap="round" stroke-opacity="0.72"/><line x1="1786.7" y1="232.6" x2="1786.2" y2="246.7" stroke="#333333" stroke-width="4.8" stroke-linecap="round" stroke-opacity="0.36"/><line x1="1770.4" y1="327.0" x2="1776.5" y2="317.2" stroke="#3c3c3c" stroke-width="3.8" stroke-linecap="round" stroke-opacity="0.41"/><line x1="1834.0" y1="300.3" x2="1827.4" y2="295.0" stroke="#444444" stroke-width="3.1" stroke-linecap="round" stroke-opacity="0.50"/><line x1="1792.4" y1="251.8" x2="1794.0" y2="263.7" stroke="#444444" stroke-width="5.8" stroke-linecap="round" stroke-opacity="0.42"/><line x1="1757.4" y1="290.4" x2="1770.9" y2="281.7" stroke="#333333" stroke-width="5.1" stroke-linecap="round" stroke-opacity="0.69"/><line x1="1795.9" y1="248.7" x2="1790.6" y2="257.6" stroke="#333333" stroke-width="6.2" stroke-linecap="round" stroke-opacity="0.44"/><line x1="1772.2" y1="240.5" x2="1775.5" y2="253.0" stroke="#333333" stroke-width="4.8" stroke-linecap="round" stroke-opacity="0.54"/><line x1="1804.3" y1="300.6" x2="1800.0" y2="286.2" stroke="#4a4a4a" stroke-width="5.2" stroke-linecap="round" stroke-opacity="0.74"/><line x1="1766.9" y1="268.8" x2="1782.0" y2="278.9" stroke="#555555" stroke-width="3.3" stroke-linecap="round" stroke-opacity="0.42"/><line x1="1753.2" y1="289.1" x2="1768.0" y2="278.8" stroke="#3c3c3c" stroke-width="5.9" stroke-linecap="round" stroke-opacity="0.75"/><line x1="1821.6" y1="262.1" x2="1811.0" y2="268.3" stroke="#333333" stroke-width="6.5" stroke-linecap="round" stroke-opacity="0.52"/>
<line x1="1960.5" y1="351.9" x2="1950.6" y2="342.3" stroke="#444444" stroke-width="3.1" stroke-linecap="round" stroke-opacity="0.74"/><line x1="1957.9" y1="345.0" x2="1947.1" y2="339.8" stroke="#555555" stroke-width="5.8" stroke-linecap="round" stroke-opacity="0.51"/><line x1="1920.5" y1="293.5" x2="1919.5" y2="310.7" stroke="#555555" stroke-width="3.5" stroke-linecap="round" stroke-opacity="0.51"/><line x1="1902.3" y1="372.3" x2="1913.7" y2="358.4" stroke="#333333" stroke-width="5.2" stroke-linecap="round" stroke-opacity="0.72"/><line x1="1968.9" y1="354.2" x2="1956.2" y2="350.9" stroke="#4a4a4a" stroke-width="5.8" stroke-linecap="round" stroke-opacity="0.75"/><line x1="1912.4" y1="364.7" x2="1919.7" y2="354.7" stroke="#333333" stroke-width="3.9" stroke-linecap="round" stroke-opacity="0.69"/><line x1="1937.0" y1="366.7" x2="1935.0" y2="349.5" stroke="#555555" stroke-width="4.0" stroke-linecap="round" stroke-opacity="0.71"/><line x1="1893.1" y1="349.2" x2="1905.9" y2="348.2" stroke="#555555" stroke-width="6.4" stroke-linecap="round" stroke-opacity="0.57"/><line x1="1872.3" y1="336.6" x2="1886.0" y2="339.3" stroke="#333333" stroke-width="3.3" stroke-linecap="round" stroke-opacity="0.62"/><line x1="1942.4" y1="300.2" x2="1940.6" y2="311.4" stroke="#555555" stroke-width="4.1" stroke-linecap="round" stroke-opacity="0.62"/><line x1="1885.1" y1="355.8" x2="1893.4" y2="347.5" stroke="#555555" stroke-width="5.2" stroke-linecap="round" stroke-opacity="0.55"/><line x1="1894.2" y1="298.8" x2="1898.5" y2="305.4" stroke="#333333" stroke-width="4.3" stroke-linecap="round" stroke-opacity="0.71"/><line x1="1902.0" y1="287.3" x2="1905.2" y2="295.7" stroke="#333333" stroke-width="3.1" stroke-linecap="round" stroke-opacity="0.38"/><line x1="1931.0" y1="302.9" x2="1928.2" y2="314.7" stroke="#444444" stroke-width="3.5" stroke-linecap="round" stroke-opacity="0.55"/><line x1="1900.1" y1="362.0" x2="1904.0" y2="354.9" stroke="#555555" stroke-width="4.4" stroke-linecap="round" stroke-opacity="0.64"/><line x1="1925.1" y1="360.5" x2="1925.0" y2="343.8" stroke="#333333" stroke-width="6.2" stroke-linecap="round" stroke-opacity="0.40"/><line x1="1932.0" y1="291.2" x2="1929.7" y2="300.9" stroke="#333333" stroke-width="3.7" stroke-linecap="round" stroke-opacity="0.41"/><line x1="1948.9" y1="347.8" x2="1937.6" y2="335.8" stroke="#555555" stroke-width="5.3" stroke-linecap="round" stroke-opacity="0.67"/><line x1="1895.7" y1="326.3" x2="1906.7" y2="327.1" stroke="#3c3c3c" stroke-width="5.8" stroke-linecap="round" stroke-opacity="0.58"/><line x1="1945.1" y1="355.0" x2="1940.0" y2="347.6" stroke="#4a4a4a" stroke-width="4.3" stroke-linecap="round" stroke-opacity="0.61"/><line x1="1871.4" y1="346.9" x2="1880.2" y2="347.5" stroke="#4a4a4a" stroke-width="4.1" stroke-linecap="round" stroke-opacity="0.80"/><line x1="1917.4" y1="297.6" x2="1916.9" y2="314.8" stroke="#4a4a4a" stroke-width="3.4" stroke-linecap="round" stroke-opacity="0.49"/><line x1="1958.0" y1="352.4" x2="1944.3" y2="349.5" stroke="#444444" stroke-width="5.2" stroke-linecap="round" stroke-opacity="0.43"/><line x1="1960.0" y1="328.3" x2="1943.4" y2="337.8" stroke="#4a4a4a" stroke-width="4.8" stroke-linecap="round" stroke-opacity="0.49"/><line x1="1952.9" y1="381.0" x2="1950.5" y2="371.2" stroke="#444444" stroke-width="6.1" stroke-linecap="round" stroke-opacity="0.73"/><line x1="1924.8" y1="378.5" x2="1921.2" y2="364.7" stroke="#555555" stroke-width="5.2" stroke-linecap="round" stroke-opacity="0.39"/><line x1="1898.9" y1="303.9" x2="1910.6" y2="312.8" stroke="#444444" stroke-width="5.5" stroke-linecap="round" stroke-opacity="0.62"/>
<line x1="2057.8" y1="270.7" x2="2051.0" y2="265.1" stroke="#3c3c3c" stroke-width="6.4" stroke-linecap="round" stroke-opacity="0.76"/><line x1="2054.4" y1="222.7" x2="2052.2" y2="234.5" stroke="#3c3c3c" stroke-width="4.7" stroke-linecap="round" stroke-opacity="0.58"/><line x1="2016.8" y1="258.2" x2="2021.9" y2="259.8" stroke="#444444" stroke-width="4.6" stroke-linecap="round" stroke-opacity="0.46"/><line x1="2025.4" y1="249.9" x2="2031.9" y2="254.2" stroke="#333333" stroke-width="4.0" stroke-linecap="round" stroke-opacity="0.35"/><line x1="2053.9" y1="269.5" x2="2047.4" y2="265.3" stroke="#333333" stroke-width="4.3" stroke-linecap="round" stroke-opacity="0.53"/><line x1="2021.5" y1="249.5" x2="2031.8" y2="251.0" stroke="#444444" stroke-width="4.6" stroke-linecap="round" stroke-opacity="0.60"/><line x1="2053.4" y1="230.8" x2="2051.1" y2="241.5" stroke="#4a4a4a" stroke-width="4.4" stroke-linecap="round" stroke-opacity="0.71"/><line x1="2019.1" y1="290.6" x2="2023.3" y2="279.0" stroke="#444444" stroke-width="4.4" stroke-linecap="round" stroke-opacity="0.37"/><line x1="2071.4" y1="266.0" x2="2059.0" y2="262.7" stroke="#3c3c3c" stroke-width="5.1" stroke-linecap="round" stroke-opacity="0.58"/><line x1="2025.2" y1="284.8" x2="2030.2" y2="280.3" stroke="#555555" stroke-width="5.1" stroke-linecap="round" stroke-opacity="0.58"/><line x1="2012.3" y1="256.3" x2="2022.8" y2="256.8" stroke="#4a4a4a" stroke-width="4.3" stroke-linecap="round" stroke-opacity="0.65"/><line x1="2068.9" y1="254.3" x2="2056.2" y2="253.9" stroke="#4a4a4a" stroke-width="5.1" stroke-linecap="round" stroke-opacity="0.47"/><line x1="2017.5" y1="225.4" x2="2025.0" y2="232.9" stroke="#4a4a4a" stroke-width="5.0" stroke-linecap="round" stroke-opacity="0.43"/><line x1="2018.5" y1="235.9" x2="2029.6" y2="242.9" stroke="#3c3c3c" stroke-width="3.1" stroke-linecap="round" stroke-opacity="0.78"/><line x1="2051.5" y1="267.9" x2="2044.1" y2="264.4" stroke="#3c3c3c" stroke-width="4.4" stroke-linecap="round" stroke-opacity="0.70"/><line x1="2071.8" y1="240.4" x2="2063.4" y2="249.1" stroke="#3c3c3c" stroke-width="4.8" stroke-linecap="round" stroke-opacity="0.60"/><line x1="2066.5" y1="257.7" x2="2058.2" y2="255.0" stroke="#333333" stroke-width="6.2" stroke-linecap="round" stroke-opacity="0.50"/><line x1="2018.6" y1="285.2" x2="2026.8" y2="276.5" stroke="#555555" stroke-width="5.1" stroke-linecap="round" stroke-opacity="0.44"/><line x1="2040.1" y1="287.0" x2="2042.4" y2="280.0" stroke="#555555" stroke-width="5.7" stroke-linecap="round" stroke-opacity="0.67"/>
<line x1="1774.5" y1="328.6" x2="1781.4" y2="340.9" stroke="#555555" stroke-width="4.1" stroke-linecap="round" stroke-opacity="0.64"/><line x1="1826.8" y1="359.2" x2="1813.6" y2="367.3" stroke="#4a4a4a" stroke-width="6.2" stroke-linecap="round" stroke-opacity="0.43"/><line x1="1826.6" y1="353.8" x2="1807.9" y2="361.6" stroke="#333333" stroke-width="5.8" stroke-linecap="round" stroke-opacity="0.43"/><line x1="1805.3" y1="319.1" x2="1809.0" y2="330.0" stroke="#555555" stroke-width="5.0" stroke-linecap="round" stroke-opacity="0.40"/><line x1="1837.9" y1="369.5" x2="1816.7" y2="371.2" stroke="#333333" stroke-width="6.1" stroke-linecap="round" stroke-opacity="0.41"/><line x1="1773.6" y1="372.2" x2="1792.3" y2="370.4" stroke="#333333" stroke-width="5.3" stroke-linecap="round" stroke-opacity="0.67"/><line x1="1839.8" y1="376.0" x2="1828.4" y2="373.6" stroke="#3c3c3c" stroke-width="3.6" stroke-linecap="round" stroke-opacity="0.74"/><line x1="1847.3" y1="341.5" x2="1838.6" y2="353.3" stroke="#4a4a4a" stroke-width="3.6" stroke-linecap="round" stroke-opacity="0.41"/><line x1="1791.7" y1="400.8" x2="1794.8" y2="390.1" stroke="#555555" stroke-width="6.3" stroke-linecap="round" stroke-opacity="0.49"/><line x1="1801.8" y1="350.9" x2="1802.4" y2="367.5" stroke="#4a4a4a" stroke-width="5.3" stroke-linecap="round" stroke-opacity="0.56"/><line x1="1830.9" y1="412.7" x2="1825.0" y2="393.3" stroke="#555555" stroke-width="5.4" stroke-linecap="round" stroke-opacity="0.64"/><line x1="1838.6" y1="360.1" x2="1828.0" y2="360.6" stroke="#333333" stroke-width="3.5" stroke-linecap="round" stroke-opacity="0.69"/><line x1="1776.3" y1="350.0" x2="1788.4" y2="359.1" stroke="#444444" stroke-width="5.8" stroke-linecap="round" stroke-opacity="0.72"/><line x1="1809.1" y1="326.2" x2="1804.8" y2="341.4" stroke="#444444" stroke-width="4.6" stroke-linecap="round" stroke-opacity="0.67"/><line x1="1843.2" y1="393.1" x2="1835.9" y2="388.9" stroke="#444444" stroke-width="3.7" stroke-linecap="round" stroke-opacity="0.59"/><line x1="1832.9" y1="418.8" x2="1827.4" y2="406.2" stroke="#444444" stroke-width="4.7" stroke-linecap="round" stroke-opacity="0.75"/><line x1="1782.9" y1="381.1" x2="1791.6" y2="377.4" stroke="#444444" stroke-width="3.2" stroke-linecap="round" stroke-opacity="0.56"/><line x1="1822.6" y1="327.6" x2="1815.4" y2="338.5" stroke="#3c3c3c" stroke-width="5.0" stroke-linecap="round" stroke-opacity="0.37"/><line x1="1792.0" y1="393.2" x2="1808.6" y2="379.9" stroke="#4a4a4a" stroke-width="6.5" stroke-linecap="round" stroke-opacity="0.56"/><line x1="1799.0" y1="400.9" x2="1802.1" y2="391.9" stroke="#333333" stroke-width="4.3" stroke-linecap="round" stroke-opacity="0.75"/><line x1="1752.9" y1="390.7" x2="1763.4" y2="383.3" stroke="#444444" stroke-width="3.5" stroke-linecap="round" stroke-opacity="0.74"/><line x1="1848.5" y1="412.6" x2="1837.0" y2="406.5" stroke="#3c3c3c" stroke-width="5.9" stroke-linecap="round" stroke-opacity="0.69"/><line x1="1844.2" y1="367.7" x2="1827.0" y2="371.0" stroke="#333333" stroke-width="5.9" stroke-linecap="round" stroke-opacity="0.46"/><line x1="1787.4" y1="399.4" x2="1801.5" y2="384.6" stroke="#4a4a4a" stroke-width="3.1" stroke-linecap="round" stroke-opacity="0.65"/><line x1="1763.4" y1="335.8" x2="1780.4" y2="346.0" stroke="#4a4a4a" stroke-width="3.4" stroke-linecap="round" stroke-opacity="0.37"/><line x1="1766.6" y1="345.5" x2="1772.4" y2="351.3" stroke="#333333" stroke-width="4.5" stroke-linecap="round" stroke-opacity="0.59"/><line x1="1807.0" y1="322.6" x2="1803.5" y2="331.5" stroke="#3c3c3c" stroke-width="5.9" stroke-linecap="round" stroke-opacity="0.68"/><line x1="1787.2" y1="412.8" x2="1792.3" y2="396.8" stroke="#555555" stroke-width="6.1" stroke-linecap="round" stroke-opacity="0.79"/>
<line x1="2024.3" y1="357.3" x2="2027.0" y2="352.3" stroke="#444444" stroke-width="5.5" stroke-linecap="round" stroke-opacity="0.60"/><line x1="2009.3" y1="340.8" x2="2017.6" y2="342.4" stroke="#4a4a4a" stroke-width="3.7" stroke-linecap="round" stroke-opacity="0.44"/><line x1="2044.4" y1="302.0" x2="2041.5" y2="314.1" stroke="#444444" stroke-width="5.5" stroke-linecap="round" stroke-opacity="0.53"/><line x1="2047.8" y1="359.3" x2="2047.0" y2="351.4" stroke="#555555" stroke-width="4.1" stroke-linecap="round" stroke-opacity="0.51"/><line x1="2066.2" y1="317.9" x2="2055.4" y2="325.0" stroke="#555555" stroke-width="6.2" stroke-linecap="round" stroke-opacity="0.52"/><line x1="2021.0" y1="351.1" x2="2026.2" y2="345.9" stroke="#555555" stroke-width="4.9" stroke-linecap="round" stroke-opacity="0.61"/><line x1="2042.0" y1="313.7" x2="2044.6" y2="320.3" stroke="#444444" stroke-width="5.9" stroke-linecap="round" stroke-opacity="0.57"/><line x1="2027.9" y1="309.2" x2="2030.7" y2="316.3" stroke="#333333" stroke-width="4.6" stroke-linecap="round" stroke-opacity="0.68"/><line x1="2035.0" y1="351.0" x2="2039.2" y2="341.5" stroke="#444444" stroke-width="6.5" stroke-linecap="round" stroke-opacity="0.78"/><line x1="2010.2" y1="330.5" x2="2015.7" y2="332.7" stroke="#4a4a4a" stroke-width="5.7" stroke-linecap="round" stroke-opacity="0.54"/><line x1="2057.8" y1="318.4" x2="2054.9" y2="330.0" stroke="#444444" stroke-width="4.6" stroke-linecap="round" stroke-opacity="0.38"/><line x1="2021.1" y1="306.5" x2="2028.9" y2="318.0" stroke="#4a4a4a" stroke-width="3.0" stroke-linecap="round" stroke-opacity="0.60"/><line x1="2074.7" y1="338.1" x2="2067.5" y2="335.0" stroke="#4a4a4a" stroke-width="4.8" stroke-linecap="round" stroke-opacity="0.66"/><line x1="2010.9" y1="352.5" x2="2017.8" y2="351.5" stroke="#444444" stroke-width="3.5" stroke-linecap="round" stroke-opacity="0.44"/><line x1="2010.9" y1="330.1" x2="2018.6" y2="330.8" stroke="#555555" stroke-width="6.4" stroke-linecap="round" stroke-opacity="0.56"/><line x1="2047.6" y1="368.8" x2="2049.1" y2="360.8" stroke="#4a4a4a" stroke-width="5.3" stroke-linecap="round" stroke-opacity="0.74"/><line x1="2047.3" y1="318.4" x2="2046.4" y2="327.3" stroke="#4a4a4a" stroke-width="5.2" stroke-linecap="round" stroke-opacity="0.67"/><line x1="2077.9" y1="354.1" x2="2067.4" y2="349.7" stroke="#4a4a4a" stroke-width="6.1" stroke-linecap="round" stroke-opacity="0.76"/><line x1="2051.0" y1="373.7" x2="2050.1" y2="361.9" stroke="#555555" stroke-width="3.2" stroke-linecap="round" stroke-opacity="0.38"/>
<line x1="2128.3" y1="277.6" x2="2122.2" y2="275.9" stroke="#333333" stroke-width="3.7" stroke-linecap="round" stroke-opacity="0.61"/><line x1="2089.4" y1="296.0" x2="2092.9" y2="291.2" stroke="#4a4a4a" stroke-width="3.3" stroke-linecap="round" stroke-opacity="0.42"/><line x1="2102.5" y1="256.2" x2="2105.8" y2="264.6" stroke="#4a4a4a" stroke-width="3.3" stroke-linecap="round" stroke-opacity="0.77"/><line x1="2084.2" y1="287.1" x2="2087.8" y2="284.4" stroke="#333333" stroke-width="4.6" stroke-linecap="round" stroke-opacity="0.60"/><line x1="2098.2" y1="284.9" x2="2102.3" y2="280.1" stroke="#444444" stroke-width="5.7" stroke-linecap="round" stroke-opacity="0.74"/><line x1="2126.8" y1="280.0" x2="2117.8" y2="277.8" stroke="#444444" stroke-width="6.2" stroke-linecap="round" stroke-opacity="0.79"/><line x1="2095.1" y1="272.2" x2="2101.5" y2="273.5" stroke="#555555" stroke-width="3.9" stroke-linecap="round" stroke-opacity="0.42"/><line x1="2116.1" y1="292.7" x2="2114.2" y2="287.0" stroke="#555555" stroke-width="3.9" stroke-linecap="round" stroke-opacity="0.46"/><line x1="2092.3" y1="262.8" x2="2096.8" y2="265.3" stroke="#555555" stroke-width="3.0" stroke-linecap="round" stroke-opacity="0.53"/><line x1="2117.9" y1="263.2" x2="2112.9" y2="271.7" stroke="#333333" stroke-width="5.9" stroke-linecap="round" stroke-opacity="0.74"/><line x1="2121.5" y1="276.3" x2="2115.5" y2="275.4" stroke="#3c3c3c" stroke-width="4.7" stroke-linecap="round" stroke-opacity="0.43"/><line x1="2094.3" y1="288.7" x2="2102.0" y2="284.0" stroke="#444444" stroke-width="5.7" stroke-linecap="round" stroke-opacity="0.50"/><line x1="2103.1" y1="303.8" x2="2106.2" y2="298.2" stroke="#3c3c3c" stroke-width="5.1" stroke-linecap="round" stroke-opacity="0.60"/><line x1="2099.1" y1="259.0" x2="2103.7" y2="268.5" stroke="#3c3c3c" stroke-width="4.5" stroke-linecap="round" stroke-opacity="0.48"/>
<line x1="2202.0" y1="245.5" x2="2212.0" y2="253.3" stroke="#444444" stroke-width="5.4" stroke-linecap="round" stroke-opacity="0.42"/><line x1="2274.0" y1="261.9" x2="2263.1" y2="258.8" stroke="#4a4a4a" stroke-width="3.4" stroke-linecap="round" stroke-opacity="0.77"/><line x1="2255.8" y1="287.9" x2="2245.4" y2="279.3" stroke="#333333" stroke-width="4.2" stroke-linecap="round" stroke-opacity="0.39"/><line x1="2228.7" y1="225.4" x2="2232.6" y2="232.7" stroke="#4a4a4a" stroke-width="3.1" stroke-linecap="round" stroke-opacity="0.50"/><line x1="2274.0" y1="294.3" x2="2260.9" y2="279.2" stroke="#444444" stroke-width="3.6" stroke-linecap="round" stroke-opacity="0.42"/><line x1="2183.5" y1="242.0" x2="2193.5" y2="245.2" stroke="#3c3c3c" stroke-width="3.7" stroke-linecap="round" stroke-opacity="0.65"/><line x1="2197.4" y1="291.7" x2="2212.3" y2="279.4" stroke="#333333" stroke-width="4.4" stroke-linecap="round" stroke-opacity="0.67"/><line x1="2248.6" y1="309.0" x2="2238.5" y2="293.7" stroke="#4a4a4a" stroke-width="5.8" stroke-linecap="round" stroke-opacity="0.59"/><line x1="2216.3" y1="283.8" x2="2223.0" y2="277.9" stroke="#333333" stroke-width="4.8" stroke-linecap="round" stroke-opacity="0.64"/><line x1="2199.8" y1="237.7" x2="2213.2" y2="245.1" stroke="#333333" stroke-width="5.2" stroke-linecap="round" stroke-opacity="0.72"/><line x1="2226.5" y1="231.6" x2="2235.0" y2="244.8" stroke="#3c3c3c" stroke-width="4.1" stroke-linecap="round" stroke-opacity="0.46"/><line x1="2261.2" y1="285.9" x2="2253.8" y2="280.2" stroke="#444444" stroke-width="3.5" stroke-linecap="round" stroke-opacity="0.52"/><line x1="2252.7" y1="303.1" x2="2247.7" y2="287.1" stroke="#3c3c3c" stroke-width="4.9" stroke-linecap="round" stroke-opacity="0.57"/><line x1="2256.1" y1="287.8" x2="2244.8" y2="280.5" stroke="#555555" stroke-width="6.3" stroke-linecap="round" stroke-opacity="0.57"/><line x1="2247.2" y1="295.6" x2="2243.7" y2="281.1" stroke="#333333" stroke-width="5.4" stroke-linecap="round" stroke-opacity="0.54"/><line x1="2256.2" y1="229.6" x2="2254.2" y2="237.9" stroke="#3c3c3c" stroke-width="4.0" stroke-linecap="round" stroke-opacity="0.47"/><line x1="2208.5" y1="256.1" x2="2221.0" y2="261.4" stroke="#333333" stroke-width="4.9" stroke-linecap="round" stroke-opacity="0.40"/><line x1="2272.3" y1="294.8" x2="2257.3" y2="284.0" stroke="#4a4a4a" stroke-width="5.7" stroke-linecap="round" stroke-opacity="0.55"/><line x1="2242.5" y1="298.5" x2="2240.9" y2="281.2" stroke="#3c3c3c" stroke-width="4.0" stroke-linecap="round" stroke-opacity="0.80"/><line x1="2203.0" y1="273.0" x2="2220.3" y2="266.6" stroke="#4a4a4a" stroke-width="5.7" stroke-linecap="round" stroke-opacity="0.46"/><line x1="2251.1" y1="223.1" x2="2245.0" y2="233.5" stroke="#333333" stroke-width="3.6" stroke-linecap="round" stroke-opacity="0.41"/><line x1="2243.1" y1="290.3" x2="2240.1" y2="282.7" stroke="#555555" stroke-width="5.1" stroke-linecap="round" stroke-opacity="0.43"/><line x1="2267.0" y1="258.3" x2="2252.1" y2="255.5" stroke="#444444" stroke-width="6.4" stroke-linecap="round" stroke-opacity="0.66"/><line x1="2281.5" y1="294.0" x2="2270.1" y2="280.0" stroke="#555555" stroke-width="6.0" stroke-linecap="round" stroke-opacity="0.41"/><line x1="2255.6" y1="239.8" x2="2241.7" y2="249.6" stroke="#333333" stroke-width="4.7" stroke-linecap="round" stroke-opacity="0.61"/><line x1="2231.0" y1="298.5" x2="2233.9" y2="285.4" stroke="#4a4a4a" stroke-width="4.4" stroke-linecap="round" stroke-opacity="0.69"/><line x1="2217.3" y1="212.8" x2="2222.0" y2="225.5" stroke="#444444" stroke-width="3.0" stroke-linecap="round" stroke-opacity="0.70"/>
<line x1="2337.1" y1="291.8" x2="2341.1" y2="283.5" stroke="#4a4a4a" stroke-width="3.0" stroke-linecap="round" stroke-opacity="0.56"/><line x1="2368.5" y1="272.7" x2="2355.6" y2="265.9" stroke="#555555" stroke-width="5.9" stroke-linecap="round" stroke-opacity="0.79"/><line x1="2330.7" y1="264.3" x2="2336.8" y2="260.4" stroke="#4a4a4a" stroke-width="3.4" stroke-linecap="round" stroke-opacity="0.52"/><line x1="2341.6" y1="282.9" x2="2350.3" y2="269.3" stroke="#3c3c3c" stroke-width="3.2" stroke-linecap="round" stroke-opacity="0.60"/><line x1="2332.5" y1="238.1" x2="2341.9" y2="243.2" stroke="#3c3c3c" stroke-width="6.2" stroke-linecap="round" stroke-opacity="0.63"/><line x1="2327.0" y1="262.6" x2="2341.0" y2="252.7" stroke="#4a4a4a" stroke-width="5.1" stroke-linecap="round" stroke-opacity="0.52"/><line x1="2379.0" y1="246.9" x2="2371.4" y2="250.0" stroke="#4a4a4a" stroke-width="3.9" stroke-linecap="round" stroke-opacity="0.62"/><line x1="2346.0" y1="226.1" x2="2354.6" y2="241.5" stroke="#555555" stroke-width="3.7" stroke-linecap="round" stroke-opacity="0.62"/><line x1="2362.7" y1="282.4" x2="2360.1" y2="268.5" stroke="#3c3c3c" stroke-width="4.7" stroke-linecap="round" stroke-opacity="0.40"/><line x1="2313.5" y1="253.6" x2="2325.6" y2="257.8" stroke="#555555" stroke-width="6.3" stroke-linecap="round" stroke-opacity="0.41"/><line x1="2374.5" y1="225.3" x2="2366.6" y2="232.7" stroke="#333333" stroke-width="6.3" stroke-linecap="round" stroke-opacity="0.70"/><line x1="2371.9" y1="255.7" x2="2362.5" y2="257.8" stroke="#4a4a4a" stroke-width="6.3" stroke-linecap="round" stroke-opacity="0.53"/><line x1="2341.6" y1="293.6" x2="2344.4" y2="278.3" stroke="#333333" stroke-width="3.3" stroke-linecap="round" stroke-opacity="0.59"/><line x1="2330.4" y1="235.1" x2="2337.9" y2="241.9" stroke="#3c3c3c" stroke-width="6.4" stroke-linecap="round" stroke-opacity="0.42"/><line x1="2333.7" y1="286.5" x2="2342.3" y2="273.6" stroke="#4a4a4a" stroke-width="4.1" stroke-linecap="round" stroke-opacity="0.55"/><line x1="2376.3" y1="245.9" x2="2366.9" y2="245.8" stroke="#4a4a4a" stroke-width="4.6" stroke-linecap="round" stroke-opacity="0.62"/><line x1="2335.7" y1="292.7" x2="2337.3" y2="277.5" stroke="#3c3c3c" stroke-width="5.5" stroke-linecap="round" stroke-opacity="0.42"/><line x1="2384.8" y1="243.2" x2="2369.1" y2="245.4" stroke="#3c3c3c" stroke-width="4.3" stroke-linecap="round" stroke-opacity="0.69"/><line x1="2380.3" y1="223.6" x2="2373.4" y2="227.5" stroke="#555555" stroke-width="5.8" stroke-linecap="round" stroke-opacity="0.47"/><line x1="2388.9" y1="269.6" x2="2375.7" y2="268.2" stroke="#333333" stroke-width="4.8" stroke-linecap="round" stroke-opacity="0.37"/><line x1="2366.3" y1="234.8" x2="2359.9" y2="240.2" stroke="#444444" stroke-width="5.4" stroke-linecap="round" stroke-opacity="0.40"/><line x1="2349.9" y1="234.6" x2="2356.4" y2="249.9" stroke="#4a4a4a" stroke-width="4.7" stroke-linecap="round" stroke-opacity="0.52"/><line x1="2379.2" y1="292.4" x2="2369.9" y2="278.6" stroke="#333333" stroke-width="3.8" stroke-linecap="round" stroke-opacity="0.46"/><line x1="2376.0" y1="238.9" x2="2361.5" y2="246.4" stroke="#4a4a4a" stroke-width="4.8" stroke-linecap="round" stroke-opacity="0.76"/>
<line x1="2151.8" y1="324.4" x2="2151.1" y2="344.0" stroke="#444444" stroke-width="4.4" stroke-linecap="round" stroke-opacity="0.75"/><line x1="2111.5" y1="360.6" x2="2126.1" y2="356.8" stroke="#333333" stroke-width="3.3" stroke-linecap="round" stroke-opacity="0.61"/><line x1="2106.8" y1="370.3" x2="2115.6" y2="364.6" stroke="#555555" stroke-width="6.2" stroke-linecap="round" stroke-opacity="0.53"/><line x1="2173.9" y1="319.7" x2="2169.6" y2="332.3" stroke="#3c3c3c" stroke-width="3.5" stroke-linecap="round" stroke-opacity="0.70"/><line x1="2177.1" y1="364.2" x2="2165.8" y2="357.1" stroke="#4a4a4a" stroke-width="4.9" stroke-linecap="round" stroke-opacity="0.78"/><line x1="2166.2" y1="379.4" x2="2160.7" y2="370.0" stroke="#3c3c3c" stroke-width="5.8" stroke-linecap="round" stroke-opacity="0.49"/><line x1="2145.7" y1="307.3" x2="2146.1" y2="317.5" stroke="#3c3c3c" stroke-width="3.3" stroke-linecap="round" stroke-opacity="0.46"/><line x1="2133.3" y1="379.4" x2="2141.2" y2="365.0" stroke="#3c3c3c" stroke-width="3.1" stroke-linecap="round" stroke-opacity="0.53"/><line x1="2112.0" y1="362.4" x2="2122.1" y2="359.0" stroke="#3c3c3c" stroke-width="3.4" stroke-linecap="round" stroke-opacity="0.38"/><line x1="2163.3" y1="319.6" x2="2162.1" y2="329.5" stroke="#4a4a4a" stroke-width="5.0" stroke-linecap="round" stroke-opacity="0.47"/><line x1="2166.2" y1="327.9" x2="2161.1" y2="334.3" stroke="#333333" stroke-width="5.8" stroke-linecap="round" stroke-opacity="0.39"/><line x1="2186.4" y1="307.4" x2="2179.2" y2="312.8" stroke="#4a4a4a" stroke-width="3.6" stroke-linecap="round" stroke-opacity="0.61"/><line x1="2173.1" y1="316.5" x2="2168.9" y2="323.0" stroke="#3c3c3c" stroke-width="4.2" stroke-linecap="round" stroke-opacity="0.76"/><line x1="2151.9" y1="385.0" x2="2154.1" y2="375.9" stroke="#444444" stroke-width="3.9" stroke-linecap="round" stroke-opacity="0.48"/><line x1="2123.0" y1="369.7" x2="2129.1" y2="364.5" stroke="#3c3c3c" stroke-width="4.5" stroke-linecap="round" stroke-opacity="0.64"/><line x1="2166.5" y1="319.5" x2="2159.9" y2="339.0" stroke="#4a4a4a" stroke-width="6.5" stroke-linecap="round" stroke-opacity="0.70"/><line x1="2132.0" y1="379.7" x2="2143.4" y2="372.0" stroke="#444444" stroke-width="4.1" stroke-linecap="round" stroke-opacity="0.47"/><line x1="2199.6" y1="355.2" x2="2192.4" y2="352.4" stroke="#555555" stroke-width="3.2" stroke-linecap="round" stroke-opacity="0.80"/><line x1="2110.0" y1="339.4" x2="2128.1" y2="349.6" stroke="#4a4a4a" stroke-width="3.9" stroke-linecap="round" stroke-opacity="0.46"/><line x1="2109.5" y1="337.9" x2="2125.3" y2="344.6" stroke="#3c3c3c" stroke-width="5.0" stroke-linecap="round" stroke-opacity="0.79"/><line x1="2116.1" y1="383.4" x2="2128.4" y2="366.9" stroke="#3c3c3c" stroke-width="5.1" stroke-linecap="round" stroke-opacity="0.71"/><line x1="2140.4" y1="297.5" x2="2141.8" y2="305.1" stroke="#444444" stroke-width="5.0" stroke-linecap="round" stroke-opacity="0.60"/><line x1="2179.0" y1="400.4" x2="2171.7" y2="382.7" stroke="#555555" stroke-width="3.6" stroke-linecap="round" stroke-opacity="0.37"/><line x1="2197.7" y1="363.0" x2="2190.5" y2="360.5" stroke="#555555" stroke-width="6.2" stroke-linecap="round" stroke-opacity="0.44"/><line x1="2189.6" y1="382.5" x2="2180.0" y2="365.3" stroke="#555555" stroke-width="3.2" stroke-linecap="round" stroke-opacity="0.42"/><line x1="2150.3" y1="323.0" x2="2152.6" y2="331.5" stroke="#555555" stroke-width="6.4" stroke-linecap="round" stroke-opacity="0.52"/><line x1="2190.7" y1="335.7" x2="2183.1" y2="339.9" stroke="#3c3c3c" stroke-width="6.4" stroke-linecap="round" stroke-opacity="0.68"/>
<line x1="2280.2" y1="359.1" x2="2285.0" y2="353.1" stroke="#555555" stroke-width="3.9" stroke-linecap="round" stroke-opacity="0.40"/><line x1="2315.0" y1="345.2" x2="2302.8" y2="340.9" stroke="#333333" stroke-width="4.7" stroke-linecap="round" stroke-opacity="0.52"/><line x1="2270.6" y1="339.6" x2="2279.4" y2="345.0" stroke="#3c3c3c" stroke-width="3.6" stroke-linecap="round" stroke-opacity="0.38"/><line x1="2302.2" y1="325.2" x2="2295.2" y2="330.6" stroke="#4a4a4a" stroke-width="4.2" stroke-linecap="round" stroke-opacity="0.75"/><line x1="2298.2" y1="360.3" x2="2294.9" y2="345.7" stroke="#555555" stroke-width="5.1" stroke-linecap="round" stroke-opacity="0.63"/><line x1="2271.8" y1="346.8" x2="2286.0" y2="341.8" stroke="#333333" stroke-width="3.5" stroke-linecap="round" stroke-opacity="0.40"/><line x1="2294.4" y1="365.3" x2="2292.9" y2="352.9" stroke="#444444" stroke-width="3.9" stroke-linecap="round" stroke-opacity="0.48"/><line x1="2290.0" y1="362.4" x2="2291.8" y2="351.2" stroke="#3c3c3c" stroke-width="3.2" stroke-linecap="round" stroke-opacity="0.35"/><line x1="2321.1" y1="364.9" x2="2310.9" y2="358.9" stroke="#4a4a4a" stroke-width="3.1" stroke-linecap="round" stroke-opacity="0.43"/><line x1="2283.9" y1="362.7" x2="2285.7" y2="348.7" stroke="#333333" stroke-width="4.6" stroke-linecap="round" stroke-opacity="0.75"/><line x1="2285.5" y1="378.1" x2="2285.5" y2="368.6" stroke="#333333" stroke-width="4.3" stroke-linecap="round" stroke-opacity="0.55"/><line x1="2286.2" y1="373.4" x2="2285.6" y2="365.6" stroke="#4a4a4a" stroke-width="3.5" stroke-linecap="round" stroke-opacity="0.66"/><line x1="2316.5" y1="364.4" x2="2304.8" y2="357.2" stroke="#444444" stroke-width="3.8" stroke-linecap="round" stroke-opacity="0.38"/><line x1="2265.8" y1="364.6" x2="2278.6" y2="356.2" stroke="#333333" stroke-width="5.0" stroke-linecap="round" stroke-opacity="0.46"/><line x1="2280.6" y1="370.4" x2="2280.3" y2="356.2" stroke="#444444" stroke-width="6.2" stroke-linecap="round" stroke-opacity="0.71"/><line x1="2274.2" y1="315.7" x2="2276.1" y2="322.2" stroke="#3c3c3c" stroke-width="6.3" stroke-linecap="round" stroke-opacity="0.43"/><line x1="2293.6" y1="365.6" x2="2290.6" y2="360.5" stroke="#333333" stroke-width="3.7" stroke-linecap="round" stroke-opacity="0.72"/><line x1="2307.7" y1="370.6" x2="2303.7" y2="362.9" stroke="#4a4a4a" stroke-width="3.3" stroke-linecap="round" stroke-opacity="0.60"/><line x1="2251.7" y1="332.5" x2="2260.5" y2="338.7" stroke="#4a4a4a" stroke-width="5.8" stroke-linecap="round" stroke-opacity="0.63"/><line x1="2261.6" y1="341.1" x2="2271.2" y2="340.1" stroke="#444444" stroke-width="5.0" stroke-linecap="round" stroke-opacity="0.78"/>
<line x1="1982.9" y1="451.0" x2="1994.0" y2="442.2" stroke="#4a4a4a" stroke-width="4.8" stroke-linecap="round" stroke-opacity="0.42"/><line x1="2000.2" y1="466.1" x2="2005.5" y2="458.8" stroke="#444444" stroke-width="3.1" stroke-linecap="round" stroke-opacity="0.44"/><line x1="2040.0" y1="386.2" x2="2035.0" y2="395.5" stroke="#555555" stroke-width="5.5" stroke-linecap="round" stroke-opacity="0.47"/><line x1="2032.1" y1="395.2" x2="2029.0" y2="410.6" stroke="#4a4a4a" stroke-width="3.8" stroke-linecap="round" stroke-opacity="0.57"/><line x1="1963.0" y1="448.2" x2="1976.0" y2="444.2" stroke="#555555" stroke-width="3.6" stroke-linecap="round" stroke-opacity="0.75"/><line x1="2014.5" y1="384.7" x2="2015.5" y2="395.7" stroke="#3c3c3c" stroke-width="6.0" stroke-linecap="round" stroke-opacity="0.70"/><line x1="2021.2" y1="458.2" x2="2017.0" y2="448.9" stroke="#333333" stroke-width="4.8" stroke-linecap="round" stroke-opacity="0.74"/><line x1="2059.0" y1="420.8" x2="2046.8" y2="426.8" stroke="#3c3c3c" stroke-width="5.1" stroke-linecap="round" stroke-opacity="0.35"/><line x1="2014.1" y1="479.4" x2="2017.9" y2="468.7" stroke="#555555" stroke-width="4.5" stroke-linecap="round" stroke-opacity="0.52"/><line x1="1997.4" y1="454.4" x2="2006.5" y2="444.5" stroke="#444444" stroke-width="4.4" stroke-linecap="round" stroke-opacity="0.40"/><line x1="1970.5" y1="426.8" x2="1989.0" y2="426.5" stroke="#444444" stroke-width="5.1" stroke-linecap="round" stroke-opacity="0.48"/><line x1="2033.0" y1="444.7" x2="2018.5" y2="430.4" stroke="#555555" stroke-width="3.9" stroke-linecap="round" stroke-opacity="0.67"/><line x1="2039.5" y1="410.2" x2="2031.3" y2="414.5" stroke="#4a4a4a" stroke-width="5.8" stroke-linecap="round" stroke-opacity="0.71"/><line x1="1978.9" y1="403.9" x2="1990.5" y2="415.4" stroke="#333333" stroke-width="6.5" stroke-linecap="round" stroke-opacity="0.47"/><line x1="1984.5" y1="447.0" x2="1991.7" y2="444.3" stroke="#444444" stroke-width="5.9" stroke-linecap="round" stroke-opacity="0.50"/><line x1="2004.5" y1="385.9" x2="2008.3" y2="401.2" stroke="#555555" stroke-width="4.8" stroke-linecap="round" stroke-opacity="0.73"/><line x1="2042.8" y1="386.3" x2="2040.1" y2="395.5" stroke="#3c3c3c" stroke-width="5.6" stroke-linecap="round" stroke-opacity="0.68"/><line x1="1965.2" y1="410.7" x2="1981.0" y2="422.7" stroke="#4a4a4a" stroke-width="3.8" stroke-linecap="round" stroke-opacity="0.45"/><line x1="2039.6" y1="404.0" x2="2027.7" y2="418.9" stroke="#444444" stroke-width="4.0" stroke-linecap="round" stroke-opacity="0.73"/><line x1="1964.1" y1="439.5" x2="1979.0" y2="441.4" stroke="#4a4a4a" stroke-width="4.7" stroke-linecap="round" stroke-opacity="0.44"/><line x1="2047.7" y1="460.8" x2="2036.7" y2="451.7" stroke="#3c3c3c" stroke-width="3.5" stroke-linecap="round" stroke-opacity="0.44"/><line x1="1980.2" y1="452.2" x2="1996.1" y2="441.3" stroke="#555555" stroke-width="6.0" stroke-linecap="round" stroke-opacity="0.43"/><line x1="2043.5" y1="446.0" x2="2024.5" y2="438.5" stroke="#4a4a4a" stroke-width="3.0" stroke-linecap="round" stroke-opacity="0.47"/><line x1="2016.7" y1="403.0" x2="2015.6" y2="420.4" stroke="#4a4a4a" stroke-width="3.5" stroke-linecap="round" stroke-opacity="0.55"/><line x1="1982.1" y1="445.5" x2="1991.7" y2="435.9" stroke="#444444" stroke-width="3.7" stroke-linecap="round" stroke-opacity="0.52"/><line x1="2047.2" y1="432.9" x2="2029.0" y2="435.2" stroke="#4a4a4a" stroke-width="5.2" stroke-linecap="round" stroke-opacity="0.46"/><line x1="2003.2" y1="398.8" x2="2007.0" y2="406.9" stroke="#444444" stroke-width="4.1" stroke-linecap="round" stroke-opacity="0.38"/>
<line x1="1815.0" y1="498.9" x2="1827.6" y2="493.4" stroke="#3c3c3c" stroke-width="4.5" stroke-linecap="round" stroke-opacity="0.75"/><line x1="1794.7" y1="484.5" x2="1804.9" y2="487.4" stroke="#333333" stroke-width="3.7" stroke-linecap="round" stroke-opacity="0.44"/><line x1="1832.9" y1="525.6" x2="1835.0" y2="516.2" stroke="#555555" stroke-width="3.6" stroke-linecap="round" stroke-opacity="0.60"/><line x1="1873.1" y1="464.1" x2="1863.4" y2="473.1" stroke="#4a4a4a" stroke-width="5.4" stroke-linecap="round" stroke-opacity="0.76"/><line x1="1858.0" y1="450.4" x2="1855.8" y2="459.0" stroke="#444444" stroke-width="3.3" stroke-linecap="round" stroke-opacity="0.68"/><line x1="1871.0" y1="463.7" x2="1858.5" y2="467.0" stroke="#555555" stroke-width="4.6" stroke-linecap="round" stroke-opacity="0.39"/><line x1="1845.9" y1="506.9" x2="1843.2" y2="496.5" stroke="#555555" stroke-width="4.5" stroke-linecap="round" stroke-opacity="0.40"/><line x1="1866.1" y1="446.7" x2="1863.4" y2="453.4" stroke="#3c3c3c" stroke-width="4.2" stroke-linecap="round" stroke-opacity="0.75"/><line x1="1864.4" y1="479.3" x2="1849.1" y2="485.2" stroke="#555555" stroke-width="3.6" stroke-linecap="round" stroke-opacity="0.53"/><line x1="1864.9" y1="480.5" x2="1852.9" y2="480.4" stroke="#333333" stroke-width="5.3" stroke-linecap="round" stroke-opacity="0.71"/><line x1="1869.4" y1="516.3" x2="1865.4" y2="509.6" stroke="#3c3c3c" stroke-width="3.4" stroke-linecap="round" stroke-opacity="0.76"/><line x1="1796.5" y1="491.8" x2="1809.1" y2="491.4" stroke="#555555" stroke-width="5.1" stroke-linecap="round" stroke-opacity="0.74"/><line x1="1868.9" y1="456.6" x2="1855.6" y2="469.4" stroke="#333333" stroke-width="3.4" stroke-linecap="round" stroke-opacity="0.54"/><line x1="1864.1" y1="495.9" x2="1854.1" y2="491.2" stroke="#444444" stroke-width="5.7" stroke-linecap="round" stroke-opacity="0.61"/><line x1="1786.8" y1="466.2" x2="1801.7" y2="470.7" stroke="#444444" stroke-width="5.4" stroke-linecap="round" stroke-opacity="0.63"/><line x1="1794.8" y1="506.0" x2="1807.4" y2="502.0" stroke="#333333" stroke-width="3.5" stroke-linecap="round" stroke-opacity="0.72"/><line x1="1868.1" y1="461.6" x2="1861.5" y2="464.2" stroke="#444444" stroke-width="6.0" stroke-linecap="round" stroke-opacity="0.73"/><line x1="1851.7" y1="470.7" x2="1844.5" y2="481.9" stroke="#555555" stroke-width="3.2" stroke-linecap="round" stroke-opacity="0.45"/><line x1="1814.8" y1="460.7" x2="1821.2" y2="468.4" stroke="#444444" stroke-width="4.6" stroke-linecap="round" stroke-opacity="0.74"/><line x1="1812.8" y1="495.5" x2="1825.9" y2="492.5" stroke="#4a4a4a" stroke-width="4.4" stroke-linecap="round" stroke-opacity="0.37"/><line x1="1789.8" y1="472.8" x2="1803.7" y2="483.0" stroke="#555555" stroke-width="6.1" stroke-linecap="round" stroke-opacity="0.60"/><line x1="1815.7" y1="457.8" x2="1819.9" y2="468.4" stroke="#3c3c3c" stroke-width="6.0" stroke-linecap="round" stroke-opacity="0.50"/><line x1="1840.5" y1="446.9" x2="1840.2" y2="463.2" stroke="#333333" stroke-width="3.4" stroke-linecap="round" stroke-opacity="0.69"/><line x1="1841.7" y1="519.1" x2="1844.3" y2="501.5" stroke="#555555" stroke-width="4.9" stroke-linecap="round" stroke-opacity="0.52"/><line x1="1876.0" y1="519.0" x2="1867.6" y2="508.6" stroke="#333333" stroke-width="3.4" stroke-linecap="round" stroke-opacity="0.62"/><line x1="1855.9" y1="535.6" x2="1850.9" y2="524.6" stroke="#3c3c3c" stroke-width="5.5" stroke-linecap="round" stroke-opacity="0.40"/>
<line x1="1924.2" y1="531.3" x2="1931.5" y2="525.3" stroke="#444444" stroke-width="6.0" stroke-linecap="round" stroke-opacity="0.67"/><line x1="1967.2" y1="509.0" x2="1962.1" y2="510.7" stroke="#555555" stroke-width="5.4" stroke-linecap="round" stroke-opacity="0.76"/><line x1="1962.4" y1="536.9" x2="1953.3" y2="530.6" stroke="#444444" stroke-width="5.4" stroke-linecap="round" stroke-opacity="0.50"/><line x1="1959.2" y1="530.4" x2="1953.9" y2="525.2" stroke="#333333" stroke-width="5.4" stroke-linecap="round" stroke-opacity="0.75"/><line x1="1917.8" y1="512.3" x2="1924.8" y2="511.4" stroke="#4a4a4a" stroke-width="3.1" stroke-linecap="round" stroke-opacity="0.42"/><line x1="1938.1" y1="504.8" x2="1944.4" y2="511.8" stroke="#555555" stroke-width="5.4" stroke-linecap="round" stroke-opacity="0.42"/><line x1="1970.1" y1="528.4" x2="1965.1" y2="526.2" stroke="#555555" stroke-width="5.8" stroke-linecap="round" stroke-opacity="0.40"/><line x1="1962.9" y1="499.3" x2="1954.8" y2="505.6" stroke="#444444" stroke-width="4.4" stroke-linecap="round" stroke-opacity="0.58"/><line x1="1952.7" y1="494.5" x2="1952.9" y2="503.5" stroke="#333333" stroke-width="4.4" stroke-linecap="round" stroke-opacity="0.78"/><line x1="1962.8" y1="515.6" x2="1955.8" y2="519.4" stroke="#555555" stroke-width="3.7" stroke-linecap="round" stroke-opacity="0.74"/><line x1="1958.3" y1="502.9" x2="1954.3" y2="506.9" stroke="#555555" stroke-width="5.6" stroke-linecap="round" stroke-opacity="0.60"/><line x1="1924.5" y1="502.3" x2="1934.1" y2="507.6" stroke="#3c3c3c" stroke-width="6.4" stroke-linecap="round" stroke-opacity="0.38"/><line x1="1970.4" y1="512.3" x2="1966.3" y2="514.9" stroke="#555555" stroke-width="4.9" stroke-linecap="round" stroke-opacity="0.41"/><line x1="1931.3" y1="510.0" x2="1936.3" y2="514.0" stroke="#3c3c3c" stroke-width="3.1" stroke-linecap="round" stroke-opacity="0.77"/>
<line x1="1936.4" y1="592.0" x2="1919.4" y2="589.1" stroke="#444444" stroke-width="4.6" stroke-linecap="round" stroke-opacity="0.37"/><line x1="1920.2" y1="569.6" x2="1907.1" y2="574.0" stroke="#3c3c3c" stroke-width="6.4" stroke-linecap="round" stroke-opacity="0.70"/><line x1="1856.7" y1="577.2" x2="1866.1" y2="580.1" stroke="#3c3c3c" stroke-width="6.0" stroke-linecap="round" stroke-opacity="0.54"/><line x1="1929.5" y1="609.9" x2="1920.5" y2="596.3" stroke="#333333" stroke-width="5.3" stroke-linecap="round" stroke-opacity="0.77"/><line x1="1897.7" y1="559.9" x2="1899.5" y2="572.9" stroke="#4a4a4a" stroke-width="3.3" stroke-linecap="round" stroke-opacity="0.43"/><line x1="1897.9" y1="609.3" x2="1903.2" y2="592.2" stroke="#333333" stroke-width="4.4" stroke-linecap="round" stroke-opacity="0.63"/><line x1="1878.7" y1="594.7" x2="1893.4" y2="588.6" stroke="#444444" stroke-width="3.2" stroke-linecap="round" stroke-opacity="0.69"/><line x1="1946.3" y1="600.1" x2="1934.9" y2="596.8" stroke="#555555" stroke-width="5.8" stroke-linecap="round" stroke-opacity="0.49"/><line x1="1938.6" y1="610.4" x2="1927.2" y2="604.6" stroke="#4a4a4a" stroke-width="4.7" stroke-linecap="round" stroke-opacity="0.59"/><line x1="1920.7" y1="611.9" x2="1909.6" y2="598.3" stroke="#3c3c3c" stroke-width="4.0" stroke-linecap="round" stroke-opacity="0.75"/><line x1="1947.8" y1="575.0" x2="1932.2" y2="573.4" stroke="#4a4a4a" stroke-width="4.9" stroke-linecap="round" stroke-opacity="0.60"/><line x1="1913.2" y1="600.7" x2="1902.8" y2="590.0" stroke="#4a4a4a" stroke-width="4.1" stroke-linecap="round" stroke-opacity="0.69"/><line x1="1925.1" y1="567.4" x2="1914.1" y2="573.4" stroke="#444444" stroke-width="3.5" stroke-linecap="round" stroke-opacity="0.43"/><line x1="1876.3" y1="566.2" x2="1881.9" y2="572.7" stroke="#444444" stroke-width="6.0" stroke-linecap="round" stroke-opacity="0.73"/><line x1="1948.4" y1="563.3" x2="1936.2" y2="568.3" stroke="#555555" stroke-width="5.4" stroke-linecap="round" stroke-opacity="0.46"/><line x1="1911.5" y1="624.7" x2="1903.3" y2="606.8" stroke="#3c3c3c" stroke-width="3.4" stroke-linecap="round" stroke-opacity="0.63"/><line x1="1923.9" y1="567.3" x2="1912.8" y2="574.1" stroke="#555555" stroke-width="5.4" stroke-linecap="round" stroke-opacity="0.42"/><line x1="1853.7" y1="566.1" x2="1873.1" y2="569.8" stroke="#555555" stroke-width="3.9" stroke-linecap="round" stroke-opacity="0.45"/><line x1="1895.9" y1="550.2" x2="1901.6" y2="567.4" stroke="#555555" stroke-width="6.1" stroke-linecap="round" stroke-opacity="0.56"/><line x1="1878.4" y1="610.3" x2="1884.7" y2="597.4" stroke="#444444" stroke-width="3.3" stroke-linecap="round" stroke-opacity="0.48"/><line x1="1922.0" y1="540.3" x2="1916.2" y2="548.0" stroke="#4a4a4a" stroke-width="5.5" stroke-linecap="round" stroke-opacity="0.75"/><line x1="1923.2" y1="551.5" x2="1912.0" y2="565.3" stroke="#444444" stroke-width="3.7" stroke-linecap="round" stroke-opacity="0.37"/><line x1="1894.8" y1="637.6" x2="1897.2" y2="623.6" stroke="#3c3c3c" stroke-width="4.3" stroke-linecap="round" stroke-opacity="0.45"/><line x1="1904.6" y1="540.3" x2="1903.3" y2="551.2" stroke="#444444" stroke-width="3.3" stroke-linecap="round" stroke-opacity="0.51"/><line x1="1927.2" y1="587.9" x2="1909.0" y2="580.2" stroke="#3c3c3c" stroke-width="5.7" stroke-linecap="round" stroke-opacity="0.41"/><line x1="1920.0" y1="620.0" x2="1915.6" y2="606.1" stroke="#3c3c3c" stroke-width="5.6" stroke-linecap="round" stroke-opacity="0.57"/><line x1="1880.3" y1="608.0" x2="1885.3" y2="595.4" stroke="#555555" stroke-width="3.8" stroke-linecap="round" stroke-opacity="0.65"/>
<line x1="2053.8" y1="581.0" x2="2043.8" y2="571.3" stroke="#333333" stroke-width="3.1" stroke-linecap="round" stroke-opacity="0.37"/><line x1="1994.4" y1="538.8" x2="2010.3" y2="541.0" stroke="#444444" stroke-width="3.5" stroke-linecap="round" stroke-opacity="0.42"/><line x1="2054.6" y1="532.1" x2="2041.8" y2="534.2" stroke="#4a4a4a" stroke-width="6.1" stroke-linecap="round" stroke-opacity="0.68"/><line x1="2043.2" y1="500.7" x2="2038.0" y2="509.7" stroke="#333333" stroke-width="6.0" stroke-linecap="round" stroke-opacity="0.43"/><line x1="2039.9" y1="513.1" x2="2027.8" y2="526.7" stroke="#3c3c3c" stroke-width="5.2" stroke-linecap="round" stroke-opacity="0.58"/><line x1="2041.9" y1="591.3" x2="2033.2" y2="573.3" stroke="#4a4a4a" stroke-width="3.8" stroke-linecap="round" stroke-opacity="0.52"/><line x1="2041.5" y1="569.3" x2="2026.7" y2="557.1" stroke="#333333" stroke-width="5.9" stroke-linecap="round" stroke-opacity="0.62"/><line x1="2042.8" y1="599.6" x2="2039.9" y2="584.3" stroke="#444444" stroke-width="4.8" stroke-linecap="round" stroke-opacity="0.40"/><line x1="1992.8" y1="553.9" x2="2008.3" y2="555.8" stroke="#333333" stroke-width="4.8" stroke-linecap="round" stroke-opacity="0.52"/><line x1="2058.2" y1="562.0" x2="2048.9" y2="557.1" stroke="#333333" stroke-width="4.2" stroke-linecap="round" stroke-opacity="0.71"/><line x1="2062.4" y1="522.7" x2="2050.0" y2="531.7" stroke="#555555" stroke-width="4.7" stroke-linecap="round" stroke-opacity="0.45"/><line x1="2039.2" y1="526.3" x2="2027.9" y2="542.1" stroke="#3c3c3c" stroke-width="3.0" stroke-linecap="round" stroke-opacity="0.68"/><line x1="2059.5" y1="552.8" x2="2044.9" y2="553.4" stroke="#3c3c3c" stroke-width="5.4" stroke-linecap="round" stroke-opacity="0.49"/><line x1="2001.3" y1="571.8" x2="2009.6" y2="557.7" stroke="#444444" stroke-width="4.5" stroke-linecap="round" stroke-opacity="0.51"/><line x1="2011.6" y1="596.6" x2="2013.4" y2="578.9" stroke="#444444" stroke-width="4.7" stroke-linecap="round" stroke-opacity="0.52"/><line x1="1990.0" y1="540.6" x2="2001.3" y2="543.3" stroke="#333333" stroke-width="5.6" stroke-linecap="round" stroke-opacity="0.73"/><line x1="1992.8" y1="510.1" x2="1998.4" y2="522.4" stroke="#3c3c3c" stroke-width="3.4" stroke-linecap="round" stroke-opacity="0.58"/><line x1="2030.4" y1="501.8" x2="2024.8" y2="516.6" stroke="#4a4a4a" stroke-width="3.6" stroke-linecap="round" stroke-opacity="0.78"/><line x1="2044.0" y1="551.8" x2="2035.1" y2="548.8" stroke="#333333" stroke-width="3.3" stroke-linecap="round" stroke-opacity="0.47"/><line x1="1989.0" y1="582.6" x2="2004.1" y2="574.2" stroke="#333333" stroke-width="5.1" stroke-linecap="round" stroke-opacity="0.58"/><line x1="2008.7" y1="509.1" x2="2009.0" y2="529.4" stroke="#333333" stroke-width="4.5" stroke-linecap="round" stroke-opacity="0.44"/><line x1="1991.1" y1="508.8" x2="2000.0" y2="515.8" stroke="#444444" stroke-width="4.8" stroke-linecap="round" stroke-opacity="0.66"/><line x1="1984.6" y1="520.6" x2="1992.9" y2="529.7" stroke="#3c3c3c" stroke-width="3.3" stroke-linecap="round" stroke-opacity="0.47"/><line x1="1982.1" y1="578.0" x2="1990.7" y2="568.4" stroke="#4a4a4a" stroke-width="5.6" stroke-linecap="round" stroke-opacity="0.38"/><line x1="2045.9" y1="568.1" x2="2033.7" y2="554.0" stroke="#555555" stroke-width="4.2" stroke-linecap="round" stroke-opacity="0.72"/><line x1="2027.4" y1="606.7" x2="2024.4" y2="593.4" stroke="#4a4a4a" stroke-width="3.9" stroke-linecap="round" stroke-opacity="0.53"/><line x1="2038.1" y1="566.1" x2="2031.7" y2="556.5" stroke="#444444" stroke-width="6.3" stroke-linecap="round" stroke-opacity="0.74"/><line x1="2035.4" y1="511.9" x2="2024.2" y2="524.6" stroke="#444444" stroke-width="4.7" stroke-linecap="round" stroke-opacity="0.46"/>
<line x1="1923.6" y1="715.3" x2="1912.1" y2="713.6" stroke="#444444" stroke-width="6.4" stroke-linecap="round" stroke-opacity="0.73"/><line x1="1864.2" y1="713.2" x2="1878.1" y2="704.8" stroke="#444444" stroke-width="6.0" stroke-linecap="round" stroke-opacity="0.57"/><line x1="1927.7" y1="689.1" x2="1918.9" y2="691.8" stroke="#444444" stroke-width="3.4" stroke-linecap="round" stroke-opacity="0.59"/><line x1="1842.6" y1="714.7" x2="1848.0" y2="711.1" stroke="#3c3c3c" stroke-width="4.6" stroke-linecap="round" stroke-opacity="0.40"/><line x1="1856.0" y1="690.4" x2="1862.0" y2="691.9" stroke="#333333" stroke-width="5.0" stroke-linecap="round" stroke-opacity="0.50"/><line x1="1863.6" y1="676.9" x2="1874.2" y2="683.0" stroke="#333333" stroke-width="6.4" stroke-linecap="round" stroke-opacity="0.50"/><line x1="1895.3" y1="721.3" x2="1892.7" y2="710.8" stroke="#555555" stroke-width="6.0" stroke-linecap="round" stroke-opacity="0.48"/><line x1="1892.3" y1="713.2" x2="1884.8" y2="703.0" stroke="#4a4a4a" stroke-width="5.5" stroke-linecap="round" stroke-opacity="0.71"/><line x1="1842.4" y1="678.8" x2="1849.5" y2="683.2" stroke="#3c3c3c" stroke-width="4.7" stroke-linecap="round" stroke-opacity="0.35"/><line x1="1863.8" y1="703.8" x2="1878.6" y2="697.5" stroke="#444444" stroke-width="5.5" stroke-linecap="round" stroke-opacity="0.70"/><line x1="1872.3" y1="726.3" x2="1875.3" y2="714.2" stroke="#3c3c3c" stroke-width="3.2" stroke-linecap="round" stroke-opacity="0.72"/><line x1="1846.9" y1="698.9" x2="1857.7" y2="696.0" stroke="#555555" stroke-width="4.3" stroke-linecap="round" stroke-opacity="0.60"/><line x1="1893.3" y1="667.4" x2="1890.4" y2="677.8" stroke="#444444" stroke-width="3.7" stroke-linecap="round" stroke-opacity="0.61"/><line x1="1869.4" y1="675.0" x2="1879.3" y2="686.0" stroke="#444444" stroke-width="4.7" stroke-linecap="round" stroke-opacity="0.68"/><line x1="1905.4" y1="674.9" x2="1897.7" y2="680.2" stroke="#3c3c3c" stroke-width="6.0" stroke-linecap="round" stroke-opacity="0.64"/><line x1="1910.3" y1="680.3" x2="1899.0" y2="686.7" stroke="#4a4a4a" stroke-width="3.3" stroke-linecap="round" stroke-opacity="0.50"/><line x1="1868.6" y1="727.7" x2="1875.0" y2="715.2" stroke="#333333" stroke-width="3.9" stroke-linecap="round" stroke-opacity="0.55"/><line x1="1901.6" y1="671.8" x2="1890.7" y2="678.3" stroke="#333333" stroke-width="3.6" stroke-linecap="round" stroke-opacity="0.73"/><line x1="1900.5" y1="711.0" x2="1895.4" y2="703.7" stroke="#4a4a4a" stroke-width="3.7" stroke-linecap="round" stroke-opacity="0.53"/><line x1="1920.6" y1="719.2" x2="1909.6" y2="716.0" stroke="#333333" stroke-width="4.8" stroke-linecap="round" stroke-opacity="0.80"/><line x1="1911.7" y1="715.5" x2="1907.6" y2="709.7" stroke="#333333" stroke-width="4.1" stroke-linecap="round" stroke-opacity="0.46"/><line x1="1875.2" y1="729.0" x2="1878.6" y2="722.2" stroke="#4a4a4a" stroke-width="3.1" stroke-linecap="round" stroke-opacity="0.51"/><line x1="1920.4" y1="671.5" x2="1909.5" y2="674.5" stroke="#555555" stroke-width="4.9" stroke-linecap="round" stroke-opacity="0.41"/>
<line x1="2008.5" y1="679.3" x2="2005.3" y2="684.1" stroke="#444444" stroke-width="5.7" stroke-linecap="round" stroke-opacity="0.76"/><line x1="2010.1" y1="667.7" x2="2006.2" y2="674.3" stroke="#555555" stroke-width="4.4" stroke-linecap="round" stroke-opacity="0.73"/><line x1="2008.0" y1="716.8" x2="2004.3" y2="706.5" stroke="#555555" stroke-width="5.5" stroke-linecap="round" stroke-opacity="0.57"/><line x1="1991.1" y1="713.6" x2="1992.6" y2="699.7" stroke="#4a4a4a" stroke-width="4.0" stroke-linecap="round" stroke-opacity="0.41"/><line x1="1985.2" y1="702.6" x2="1989.6" y2="698.7" stroke="#3c3c3c" stroke-width="4.2" stroke-linecap="round" stroke-opacity="0.49"/><line x1="2010.9" y1="659.9" x2="2006.3" y2="668.0" stroke="#555555" stroke-width="3.3" stroke-linecap="round" stroke-opacity="0.69"/><line x1="2011.9" y1="713.8" x2="2006.8" y2="706.8" stroke="#3c3c3c" stroke-width="3.7" stroke-linecap="round" stroke-opacity="0.73"/><line x1="2013.3" y1="665.2" x2="2009.8" y2="670.2" stroke="#3c3c3c" stroke-width="4.3" stroke-linecap="round" stroke-opacity="0.79"/><line x1="1999.7" y1="735.9" x2="2000.7" y2="729.1" stroke="#4a4a4a" stroke-width="4.8" stroke-linecap="round" stroke-opacity="0.79"/><line x1="1968.2" y1="702.3" x2="1975.7" y2="700.0" stroke="#4a4a4a" stroke-width="5.6" stroke-linecap="round" stroke-opacity="0.60"/><line x1="2018.0" y1="715.3" x2="2011.9" y2="710.5" stroke="#4a4a4a" stroke-width="6.0" stroke-linecap="round" stroke-opacity="0.45"/><line x1="2021.8" y1="716.6" x2="2014.7" y2="712.9" stroke="#555555" stroke-width="5.0" stroke-linecap="round" stroke-opacity="0.53"/><line x1="2000.7" y1="735.3" x2="2001.6" y2="724.9" stroke="#444444" stroke-width="3.5" stroke-linecap="round" stroke-opacity="0.70"/><line x1="1999.2" y1="723.9" x2="1997.8" y2="712.6" stroke="#4a4a4a" stroke-width="3.2" stroke-linecap="round" stroke-opacity="0.64"/><line x1="1988.8" y1="664.6" x2="1991.7" y2="670.1" stroke="#444444" stroke-width="5.8" stroke-linecap="round" stroke-opacity="0.69"/><line x1="2007.7" y1="673.1" x2="2004.5" y2="679.2" stroke="#555555" stroke-width="5.5" stroke-linecap="round" stroke-opacity="0.46"/><line x1="2029.9" y1="704.8" x2="2020.1" y2="702.0" stroke="#333333" stroke-width="3.7" stroke-linecap="round" stroke-opacity="0.43"/><line x1="1980.3" y1="723.6" x2="1985.9" y2="718.6" stroke="#444444" stroke-width="3.6" stroke-linecap="round" stroke-opacity="0.59"/><line x1="1966.1" y1="707.8" x2="1975.5" y2="704.4" stroke="#444444" stroke-width="4.3" stroke-linecap="round" stroke-opacity="0.43"/>
<line x1="2159.6" y1="454.2" x2="2147.9" y2="457.1" stroke="#444444" stroke-width="3.9" stroke-linecap="round" stroke-opacity="0.37"/><line x1="2155.3" y1="480.9" x2="2141.2" y2="467.4" stroke="#4a4a4a" stroke-width="3.4" stroke-linecap="round" stroke-opacity="0.45"/><line x1="2106.3" y1="485.6" x2="2118.7" y2="475.8" stroke="#3c3c3c" stroke-width="5.0" stroke-linecap="round" stroke-opacity="0.60"/><line x1="2125.8" y1="420.2" x2="2124.4" y2="434.9" stroke="#333333" stroke-width="6.1" stroke-linecap="round" stroke-opacity="0.43"/><line x1="2141.7" y1="498.9" x2="2134.5" y2="489.9" stroke="#444444" stroke-width="4.6" stroke-linecap="round" stroke-opacity="0.51"/><line x1="2105.1" y1="518.0" x2="2108.7" y2="507.2" stroke="#333333" stroke-width="5.9" stroke-linecap="round" stroke-opacity="0.50"/><line x1="2129.3" y1="507.1" x2="2129.0" y2="495.0" stroke="#555555" stroke-width="4.3" stroke-linecap="round" stroke-opacity="0.55"/><line x1="2147.2" y1="462.3" x2="2140.2" y2="465.3" stroke="#4a4a4a" stroke-width="4.8" stroke-linecap="round" stroke-opacity="0.80"/><line x1="2117.0" y1="497.0" x2="2122.5" y2="488.6" stroke="#4a4a4a" stroke-width="5.7" stroke-linecap="round" stroke-opacity="0.77"/><line x1="2150.1" y1="420.3" x2="2143.4" y2="432.4" stroke="#444444" stroke-width="3.5" stroke-linecap="round" stroke-opacity="0.37"/><line x1="2111.2" y1="487.7" x2="2119.1" y2="478.7" stroke="#3c3c3c" stroke-width="3.9" stroke-linecap="round" stroke-opacity="0.49"/><line x1="2090.4" y1="450.2" x2="2100.3" y2="451.6" stroke="#555555" stroke-width="5.8" stroke-linecap="round" stroke-opacity="0.43"/><line x1="2147.4" y1="427.8" x2="2137.3" y2="438.5" stroke="#444444" stroke-width="5.2" stroke-linecap="round" stroke-opacity="0.37"/><line x1="2139.2" y1="435.8" x2="2128.5" y2="449.5" stroke="#555555" stroke-width="4.2" stroke-linecap="round" stroke-opacity="0.72"/><line x1="2083.1" y1="492.9" x2="2097.0" y2="480.8" stroke="#444444" stroke-width="6.3" stroke-linecap="round" stroke-opacity="0.64"/><line x1="2111.7" y1="450.7" x2="2122.4" y2="459.8" stroke="#444444" stroke-width="3.5" stroke-linecap="round" stroke-opacity="0.58"/><line x1="2131.1" y1="489.7" x2="2126.8" y2="473.5" stroke="#333333" stroke-width="5.6" stroke-linecap="round" stroke-opacity="0.61"/><line x1="2157.2" y1="486.7" x2="2140.6" y2="481.2" stroke="#555555" stroke-width="3.3" stroke-linecap="round" stroke-opacity="0.61"/><line x1="2160.0" y1="478.0" x2="2152.1" y2="475.5" stroke="#3c3c3c" stroke-width="5.7" stroke-linecap="round" stroke-opacity="0.57"/><line x1="2138.0" y1="500.2" x2="2134.0" y2="486.1" stroke="#444444" stroke-width="3.9" stroke-linecap="round" stroke-opacity="0.38"/><line x1="2132.4" y1="436.0" x2="2134.6" y2="455.1" stroke="#333333" stroke-width="4.5" stroke-linecap="round" stroke-opacity="0.51"/><line x1="2109.2" y1="504.8" x2="2111.5" y2="497.7" stroke="#555555" stroke-width="5.2" stroke-linecap="round" stroke-opacity="0.80"/><line x1="2102.8" y1="476.7" x2="2110.5" y2="475.6" stroke="#3c3c3c" stroke-width="5.4" stroke-linecap="round" stroke-opacity="0.42"/><line x1="2123.8" y1="443.9" x2="2129.0" y2="459.9" stroke="#444444" stroke-width="6.2" stroke-linecap="round" stroke-opacity="0.74"/><line x1="2136.1" y1="448.2" x2="2133.4" y2="464.2" stroke="#333333" stroke-width="4.6" stroke-linecap="round" stroke-opacity="0.50"/><line x1="2125.2" y1="439.4" x2="2123.6" y2="453.6" stroke="#444444" stroke-width="4.7" stroke-linecap="round" stroke-opacity="0.68"/><line x1="2155.4" y1="502.4" x2="2151.0" y2="496.4" stroke="#444444" stroke-width="3.2" stroke-linecap="round" stroke-opacity="0.43"/>
<line x1="2278.4" y1="394.2" x2="2272.3" y2="398.8" stroke="#555555" stroke-width="3.8" stroke-linecap="round" stroke-opacity="0.50"/><line x1="2219.7" y1="442.0" x2="2233.1" y2="431.6" stroke="#444444" stroke-width="6.1" stroke-linecap="round" stroke-opacity="0.66"/><line x1="2204.2" y1="446.3" x2="2214.5" y2="438.5" stroke="#444444" stroke-width="4.2" stroke-linecap="round" stroke-opacity="0.59"/><line x1="2247.0" y1="450.9" x2="2246.1" y2="436.4" stroke="#3c3c3c" stroke-width="4.1" stroke-linecap="round" stroke-opacity="0.67"/><line x1="2214.4" y1="421.9" x2="2232.5" y2="431.5" stroke="#3c3c3c" stroke-width="5.3" stroke-linecap="round" stroke-opacity="0.60"/><line x1="2252.9" y1="445.5" x2="2247.0" y2="432.4" stroke="#3c3c3c" stroke-width="4.1" stroke-linecap="round" stroke-opacity="0.75"/><line x1="2233.1" y1="378.3" x2="2237.0" y2="396.8" stroke="#333333" stroke-width="4.1" stroke-linecap="round" stroke-opacity="0.69"/><line x1="2258.9" y1="386.6" x2="2255.4" y2="403.3" stroke="#3c3c3c" stroke-width="3.4" stroke-linecap="round" stroke-opacity="0.43"/><line x1="2243.3" y1="383.3" x2="2242.0" y2="394.0" stroke="#3c3c3c" stroke-width="5.1" stroke-linecap="round" stroke-opacity="0.45"/><line x1="2263.6" y1="429.7" x2="2246.1" y2="431.3" stroke="#444444" stroke-width="4.6" stroke-linecap="round" stroke-opacity="0.64"/><line x1="2254.0" y1="457.6" x2="2245.8" y2="446.8" stroke="#3c3c3c" stroke-width="3.1" stroke-linecap="round" stroke-opacity="0.69"/><line x1="2270.5" y1="428.7" x2="2258.2" y2="425.4" stroke="#3c3c3c" stroke-width="5.7" stroke-linecap="round" stroke-opacity="0.38"/><line x1="2290.0" y1="401.1" x2="2273.2" y2="409.6" stroke="#555555" stroke-width="6.0" stroke-linecap="round" stroke-opacity="0.75"/><line x1="2196.5" y1="447.1" x2="2211.5" y2="443.6" stroke="#555555" stroke-width="4.4" stroke-linecap="round" stroke-opacity="0.77"/><line x1="2204.0" y1="408.3" x2="2217.1" y2="417.2" stroke="#4a4a4a" stroke-width="4.8" stroke-linecap="round" stroke-opacity="0.55"/><line x1="2250.5" y1="405.7" x2="2240.8" y2="423.8" stroke="#333333" stroke-width="6.4" stroke-linecap="round" stroke-opacity="0.37"/><line x1="2203.5" y1="457.0" x2="2215.6" y2="441.0" stroke="#333333" stroke-width="4.4" stroke-linecap="round" stroke-opacity="0.49"/><line x1="2257.5" y1="392.8" x2="2250.6" y2="403.7" stroke="#4a4a4a" stroke-width="5.4" stroke-linecap="round" stroke-opacity="0.76"/><line x1="2197.3" y1="435.7" x2="2205.5" y2="433.8" stroke="#3c3c3c" stroke-width="5.7" stroke-linecap="round" stroke-opacity="0.77"/><line x1="2231.4" y1="401.3" x2="2236.0" y2="413.2" stroke="#3c3c3c" stroke-width="4.6" stroke-linecap="round" stroke-opacity="0.75"/><line x1="2281.4" y1="394.0" x2="2275.3" y2="400.0" stroke="#3c3c3c" stroke-width="5.5" stroke-linecap="round" stroke-opacity="0.41"/><line x1="2267.8" y1="450.1" x2="2258.9" y2="442.0" stroke="#333333" stroke-width="5.5" stroke-linecap="round" stroke-opacity="0.79"/><line x1="2219.6" y1="408.5" x2="2233.1" y2="413.9" stroke="#3c3c3c" stroke-width="6.2" stroke-linecap="round" stroke-opacity="0.60"/><line x1="2225.8" y1="403.5" x2="2239.2" y2="416.7" stroke="#4a4a4a" stroke-width="4.5" stroke-linecap="round" stroke-opacity="0.49"/><line x1="2244.3" y1="389.2" x2="2246.6" y2="404.6" stroke="#3c3c3c" stroke-width="6.4" stroke-linecap="round" stroke-opacity="0.35"/><line x1="2242.1" y1="404.3" x2="2240.8" y2="418.1" stroke="#4a4a4a" stroke-width="5.1" stroke-linecap="round" stroke-opacity="0.57"/><line x1="2249.2" y1="469.2" x2="2245.9" y2="456.3" stroke="#444444" stroke-width="5.1" stroke-linecap="round" stroke-opacity="0.46"/>
<line x1="2295.4" y1="379.1" x2="2301.1" y2="363.7" stroke="#444444" stroke-width="5.2" stroke-linecap="round" stroke-opacity="0.36"/><line x1="2319.8" y1="389.3" x2="2315.8" y2="378.2" stroke="#333333" stroke-width="5.8" stroke-linecap="round" stroke-opacity="0.64"/><line x1="2262.1" y1="365.0" x2="2281.2" y2="363.3" stroke="#555555" stroke-width="4.6" stroke-linecap="round" stroke-opacity="0.72"/><line x1="2325.8" y1="349.9" x2="2312.8" y2="355.5" stroke="#555555" stroke-width="4.9" stroke-linecap="round" stroke-opacity="0.36"/><line x1="2276.0" y1="344.7" x2="2291.0" y2="357.1" stroke="#4a4a4a" stroke-width="6.4" stroke-linecap="round" stroke-opacity="0.48"/><line x1="2359.6" y1="370.8" x2="2345.5" y2="364.3" stroke="#444444" stroke-width="5.1" stroke-linecap="round" stroke-opacity="0.43"/><line x1="2341.1" y1="392.6" x2="2334.8" y2="383.1" stroke="#4a4a4a" stroke-width="4.0" stroke-linecap="round" stroke-opacity="0.39"/><line x1="2329.5" y1="336.1" x2="2318.3" y2="350.6" stroke="#444444" stroke-width="4.1" stroke-linecap="round" stroke-opacity="0.40"/><line x1="2315.6" y1="312.7" x2="2312.1" y2="331.8" stroke="#4a4a4a" stroke-width="5.8" stroke-linecap="round" stroke-opacity="0.76"/><line x1="2323.8" y1="387.3" x2="2319.2" y2="374.4" stroke="#555555" stroke-width="5.7" stroke-linecap="round" stroke-opacity="0.41"/><line x1="2339.7" y1="323.9" x2="2324.3" y2="336.4" stroke="#3c3c3c" stroke-width="3.7" stroke-linecap="round" stroke-opacity="0.37"/><line x1="2265.8" y1="393.4" x2="2271.7" y2="386.9" stroke="#4a4a4a" stroke-width="5.4" stroke-linecap="round" stroke-opacity="0.62"/><line x1="2337.1" y1="379.5" x2="2330.4" y2="375.3" stroke="#555555" stroke-width="3.1" stroke-linecap="round" stroke-opacity="0.69"/><line x1="2286.7" y1="338.1" x2="2294.1" y2="344.7" stroke="#444444" stroke-width="4.1" stroke-linecap="round" stroke-opacity="0.55"/><line x1="2324.5" y1="377.8" x2="2314.5" y2="373.6" stroke="#444444" stroke-width="5.0" stroke-linecap="round" stroke-opacity="0.40"/><line x1="2266.0" y1="349.3" x2="2275.1" y2="355.3" stroke="#555555" stroke-width="5.0" stroke-linecap="round" stroke-opacity="0.43"/><line x1="2285.3" y1="408.6" x2="2286.3" y2="394.2" stroke="#4a4a4a" stroke-width="4.6" stroke-linecap="round" stroke-opacity="0.65"/><line x1="2323.1" y1="374.2" x2="2311.4" y2="368.7" stroke="#444444" stroke-width="6.1" stroke-linecap="round" stroke-opacity="0.63"/><line x1="2291.5" y1="325.8" x2="2297.2" y2="336.3" stroke="#3c3c3c" stroke-width="5.5" stroke-linecap="round" stroke-opacity="0.65"/><line x1="2250.9" y1="348.4" x2="2267.9" y2="351.7" stroke="#3c3c3c" stroke-width="3.3" stroke-linecap="round" stroke-opacity="0.71"/><line x1="2297.2" y1="336.7" x2="2299.7" y2="347.8" stroke="#333333" stroke-width="4.6" stroke-linecap="round" stroke-opacity="0.78"/><line x1="2337.6" y1="401.3" x2="2330.2" y2="393.6" stroke="#3c3c3c" stroke-width="5.4" stroke-linecap="round" stroke-opacity="0.65"/><line x1="2317.6" y1="309.4" x2="2318.7" y2="322.6" stroke="#333333" stroke-width="3.4" stroke-linecap="round" stroke-opacity="0.57"/><line x1="2322.6" y1="334.4" x2="2315.4" y2="343.8" stroke="#444444" stroke-width="3.4" stroke-linecap="round" stroke-opacity="0.72"/><line x1="2314.4" y1="328.8" x2="2306.8" y2="342.8" stroke="#444444" stroke-width="4.6" stroke-linecap="round" stroke-opacity="0.62"/><line x1="2307.1" y1="389.6" x2="2306.3" y2="380.3" stroke="#4a4a4a" stroke-width="4.2" stroke-linecap="round" stroke-opacity="0.72"/><line x1="2264.0" y1="333.7" x2="2273.4" y2="342.8" stroke="#444444" stroke-width="5.4" stroke-linecap="round" stroke-opacity="0.43"/>
<line x1="2049.8" y1="617.9" x2="2059.3" y2="631.1" stroke="#4a4a4a" stroke-width="4.3" stroke-linecap="round" stroke-opacity="0.60"/><line x1="2114.0" y1="653.2" x2="2098.5" y2="649.4" stroke="#555555" stroke-width="6.0" stroke-linecap="round" stroke-opacity="0.46"/><line x1="2066.9" y1="610.7" x2="2070.7" y2="620.0" stroke="#333333" stroke-width="4.5" stroke-linecap="round" stroke-opacity="0.45"/><line x1="2086.6" y1="660.2" x2="2083.5" y2="647.8" stroke="#555555" stroke-width="5.9" stroke-linecap="round" stroke-opacity="0.42"/><line x1="2115.1" y1="639.4" x2="2107.6" y2="641.8" stroke="#4a4a4a" stroke-width="3.5" stroke-linecap="round" stroke-opacity="0.75"/><line x1="2049.5" y1="599.4" x2="2055.3" y2="604.7" stroke="#333333" stroke-width="6.0" stroke-linecap="round" stroke-opacity="0.75"/><line x1="2060.1" y1="595.6" x2="2065.1" y2="608.3" stroke="#333333" stroke-width="4.9" stroke-linecap="round" stroke-opacity="0.55"/><line x1="2061.1" y1="659.1" x2="2069.9" y2="649.0" stroke="#3c3c3c" stroke-width="5.5" stroke-linecap="round" stroke-opacity="0.47"/><line x1="2108.5" y1="623.9" x2="2103.7" y2="628.6" stroke="#333333" stroke-width="5.5" stroke-linecap="round" stroke-opacity="0.40"/><line x1="2036.5" y1="644.6" x2="2044.5" y2="645.0" stroke="#555555" stroke-width="4.6" stroke-linecap="round" stroke-opacity="0.39"/><line x1="2092.4" y1="626.4" x2="2082.1" y2="632.4" stroke="#4a4a4a" stroke-width="5.4" stroke-linecap="round" stroke-opacity="0.59"/><line x1="2043.2" y1="622.1" x2="2057.8" y2="630.5" stroke="#4a4a4a" stroke-width="4.6" stroke-linecap="round" stroke-opacity="0.58"/><line x1="2035.7" y1="647.9" x2="2046.8" y2="649.3" stroke="#555555" stroke-width="4.0" stroke-linecap="round" stroke-opacity="0.37"/><line x1="2112.8" y1="620.6" x2="2099.4" y2="626.9" stroke="#4a4a4a" stroke-width="5.2" stroke-linecap="round" stroke-opacity="0.61"/><line x1="2041.3" y1="622.9" x2="2049.2" y2="628.6" stroke="#4a4a4a" stroke-width="4.0" stroke-linecap="round" stroke-opacity="0.39"/><line x1="2031.3" y1="638.4" x2="2040.7" y2="636.3" stroke="#555555" stroke-width="4.0" stroke-linecap="round" stroke-opacity="0.47"/><line x1="2074.0" y1="602.9" x2="2072.1" y2="619.8" stroke="#333333" stroke-width="4.3" stroke-linecap="round" stroke-opacity="0.43"/><line x1="2081.2" y1="614.7" x2="2079.4" y2="623.0" stroke="#4a4a4a" stroke-width="4.2" stroke-linecap="round" stroke-opacity="0.39"/><line x1="2104.9" y1="677.4" x2="2099.9" y2="670.9" stroke="#333333" stroke-width="5.7" stroke-linecap="round" stroke-opacity="0.46"/><line x1="2040.5" y1="654.0" x2="2049.1" y2="652.1" stroke="#555555" stroke-width="3.2" stroke-linecap="round" stroke-opacity="0.47"/><line x1="2084.5" y1="621.7" x2="2079.7" y2="632.5" stroke="#333333" stroke-width="5.6" stroke-linecap="round" stroke-opacity="0.69"/><line x1="2046.4" y1="633.9" x2="2060.7" y2="636.6" stroke="#3c3c3c" stroke-width="4.9" stroke-linecap="round" stroke-opacity="0.55"/><line x1="2065.6" y1="681.8" x2="2066.8" y2="671.0" stroke="#444444" stroke-width="5.4" stroke-linecap="round" stroke-opacity="0.37"/><line x1="2109.2" y1="621.1" x2="2094.4" y2="630.5" stroke="#555555" stroke-width="4.2" stroke-linecap="round" stroke-opacity="0.47"/>
<line x1="2188.6" y1="555.8" x2="2172.1" y2="566.1" stroke="#333333" stroke-width="5.4" stroke-linecap="round" stroke-opacity="0.65"/><line x1="2152.3" y1="542.8" x2="2152.8" y2="560.5" stroke="#4a4a4a" stroke-width="4.3" stroke-linecap="round" stroke-opacity="0.50"/><line x1="2199.4" y1="593.0" x2="2189.2" y2="589.4" stroke="#333333" stroke-width="6.4" stroke-linecap="round" stroke-opacity="0.44"/><line x1="2114.3" y1="600.2" x2="2121.2" y2="594.9" stroke="#333333" stroke-width="3.8" stroke-linecap="round" stroke-opacity="0.64"/><line x1="2188.0" y1="548.6" x2="2182.3" y2="555.1" stroke="#444444" stroke-width="5.5" stroke-linecap="round" stroke-opacity="0.70"/><line x1="2186.9" y1="577.3" x2="2171.3" y2="581.0" stroke="#4a4a4a" stroke-width="5.3" stroke-linecap="round" stroke-opacity="0.47"/><line x1="2132.2" y1="522.5" x2="2136.6" y2="536.7" stroke="#333333" stroke-width="4.7" stroke-linecap="round" stroke-opacity="0.53"/><line x1="2141.6" y1="523.6" x2="2144.3" y2="531.4" stroke="#333333" stroke-width="6.3" stroke-linecap="round" stroke-opacity="0.72"/><line x1="2107.7" y1="577.4" x2="2126.9" y2="573.3" stroke="#555555" stroke-width="4.4" stroke-linecap="round" stroke-opacity="0.63"/><line x1="2172.0" y1="566.6" x2="2157.7" y2="565.7" stroke="#4a4a4a" stroke-width="5.9" stroke-linecap="round" stroke-opacity="0.69"/><line x1="2141.5" y1="600.2" x2="2149.5" y2="588.0" stroke="#3c3c3c" stroke-width="4.0" stroke-linecap="round" stroke-opacity="0.53"/><line x1="2184.0" y1="601.0" x2="2175.9" y2="589.9" stroke="#333333" stroke-width="5.6" stroke-linecap="round" stroke-opacity="0.41"/><line x1="2164.8" y1="616.3" x2="2159.3" y2="602.1" stroke="#4a4a4a" stroke-width="5.8" stroke-linecap="round" stroke-opacity="0.64"/><line x1="2093.5" y1="572.9" x2="2110.6" y2="578.7" stroke="#4a4a4a" stroke-width="3.1" stroke-linecap="round" stroke-opacity="0.38"/><line x1="2153.8" y1="550.8" x2="2150.0" y2="558.7" stroke="#444444" stroke-width="4.6" stroke-linecap="round" stroke-opacity="0.66"/><line x1="2167.1" y1="554.0" x2="2153.9" y2="561.1" stroke="#4a4a4a" stroke-width="5.6" stroke-linecap="round" stroke-opacity="0.57"/><line x1="2201.1" y1="579.1" x2="2185.7" y2="580.1" stroke="#3c3c3c" stroke-width="3.1" stroke-linecap="round" stroke-opacity="0.63"/><line x1="2189.8" y1="544.6" x2="2182.4" y2="548.9" stroke="#444444" stroke-width="3.2" stroke-linecap="round" stroke-opacity="0.72"/><line x1="2180.2" y1="600.4" x2="2166.0" y2="594.3" stroke="#3c3c3c" stroke-width="4.5" stroke-linecap="round" stroke-opacity="0.72"/><line x1="2193.2" y1="567.8" x2="2181.9" y2="565.2" stroke="#444444" stroke-width="4.9" stroke-linecap="round" stroke-opacity="0.49"/><line x1="2176.5" y1="566.5" x2="2169.4" y2="569.9" stroke="#4a4a4a" stroke-width="3.4" stroke-linecap="round" stroke-opacity="0.41"/><line x1="2109.2" y1="596.0" x2="2121.5" y2="588.0" stroke="#444444" stroke-width="3.1" stroke-linecap="round" stroke-opacity="0.39"/><line x1="2173.0" y1="537.9" x2="2168.3" y2="554.8" stroke="#333333" stroke-width="3.3" stroke-linecap="round" stroke-opacity="0.35"/><line x1="2189.6" y1="552.2" x2="2177.2" y2="561.0" stroke="#333333" stroke-width="5.4" stroke-linecap="round" stroke-opacity="0.44"/><line x1="2123.3" y1="542.4" x2="2128.1" y2="554.2" stroke="#444444" stroke-width="5.4" stroke-linecap="round" stroke-opacity="0.62"/><line x1="2139.8" y1="531.1" x2="2139.6" y2="539.5" stroke="#555555" stroke-width="4.2" stroke-linecap="round" stroke-opacity="0.35"/><line x1="2150.8" y1="598.0" x2="2145.6" y2="584.7" stroke="#555555" stroke-width="6.0" stroke-linecap="round" stroke-opacity="0.79"/>
<line x1="2224.1" y1="553.8" x2="2234.3" y2="557.3" stroke="#444444" stroke-width="4.6" stroke-linecap="round" stroke-opacity="0.52"/><line x1="2265.6" y1="592.5" x2="2260.8" y2="580.5" stroke="#3c3c3c" stroke-width="4.2" stroke-linecap="round" stroke-opacity="0.36"/><line x1="2217.2" y1="552.8" x2="2223.8" y2="555.6" stroke="#333333" stroke-width="3.6" stroke-linecap="round" stroke-opacity="0.50"/><line x1="2267.0" y1="540.6" x2="2255.0" y2="549.1" stroke="#444444" stroke-width="6.2" stroke-linecap="round" stroke-opacity="0.61"/><line x1="2217.7" y1="555.6" x2="2227.6" y2="559.2" stroke="#3c3c3c" stroke-width="5.1" stroke-linecap="round" stroke-opacity="0.73"/><line x1="2233.5" y1="601.5" x2="2233.5" y2="587.4" stroke="#555555" stroke-width="4.5" stroke-linecap="round" stroke-opacity="0.45"/><line x1="2280.9" y1="543.7" x2="2265.1" y2="546.5" stroke="#333333" stroke-width="6.4" stroke-linecap="round" stroke-opacity="0.37"/><line x1="2201.4" y1="570.8" x2="2207.7" y2="569.8" stroke="#333333" stroke-width="5.8" stroke-linecap="round" stroke-opacity="0.66"/><line x1="2266.5" y1="581.9" x2="2261.7" y2="577.0" stroke="#333333" stroke-width="6.3" stroke-linecap="round" stroke-opacity="0.41"/><line x1="2230.2" y1="598.3" x2="2232.1" y2="591.6" stroke="#555555" stroke-width="3.6" stroke-linecap="round" stroke-opacity="0.56"/><line x1="2209.4" y1="548.8" x2="2224.7" y2="555.5" stroke="#3c3c3c" stroke-width="6.1" stroke-linecap="round" stroke-opacity="0.53"/><line x1="2247.5" y1="536.1" x2="2243.8" y2="546.6" stroke="#4a4a4a" stroke-width="4.3" stroke-linecap="round" stroke-opacity="0.66"/><line x1="2214.9" y1="558.5" x2="2228.4" y2="563.1" stroke="#444444" stroke-width="4.9" stroke-linecap="round" stroke-opacity="0.71"/><line x1="2245.2" y1="544.2" x2="2239.0" y2="558.6" stroke="#4a4a4a" stroke-width="4.8" stroke-linecap="round" stroke-opacity="0.76"/><line x1="2228.0" y1="577.8" x2="2234.5" y2="570.0" stroke="#4a4a4a" stroke-width="4.3" stroke-linecap="round" stroke-opacity="0.43"/><line x1="2222.4" y1="556.5" x2="2236.0" y2="558.7" stroke="#555555" stroke-width="3.8" stroke-linecap="round" stroke-opacity="0.40"/><line x1="2196.2" y1="569.5" x2="2208.3" y2="571.8" stroke="#3c3c3c" stroke-width="5.6" stroke-linecap="round" stroke-opacity="0.69"/><line x1="2221.8" y1="602.8" x2="2226.2" y2="592.2" stroke="#4a4a4a" stroke-width="3.2" stroke-linecap="round" stroke-opacity="0.51"/><line x1="2207.8" y1="566.3" x2="2215.2" y2="566.8" stroke="#444444" stroke-width="6.1" stroke-linecap="round" stroke-opacity="0.55"/><line x1="2215.5" y1="590.8" x2="2227.5" y2="584.3" stroke="#4a4a4a" stroke-width="3.7" stroke-linecap="round" stroke-opacity="0.75"/><line x1="2265.1" y1="578.5" x2="2260.0" y2="572.4" stroke="#4a4a4a" stroke-width="3.4" stroke-linecap="round" stroke-opacity="0.47"/><line x1="2230.1" y1="533.4" x2="2235.0" y2="548.2" stroke="#4a4a4a" stroke-width="4.0" stroke-linecap="round" stroke-opacity="0.79"/>
<line x1="2135.4" y1="653.2" x2="2142.7" y2="657.7" stroke="#333333" stroke-width="4.3" stroke-linecap="round" stroke-opacity="0.50"/><line x1="2141.2" y1="648.1" x2="2147.4" y2="655.5" stroke="#555555" stroke-width="3.7" stroke-linecap="round" stroke-opacity="0.39"/><line x1="2173.8" y1="635.3" x2="2162.7" y2="643.1" stroke="#333333" stroke-width="3.7" stroke-linecap="round" stroke-opacity="0.49"/><line x1="2126.9" y1="637.4" x2="2138.0" y2="644.4" stroke="#3c3c3c" stroke-width="5.5" stroke-linecap="round" stroke-opacity="0.54"/><line x1="2145.0" y1="669.6" x2="2150.3" y2="663.6" stroke="#333333" stroke-width="6.1" stroke-linecap="round" stroke-opacity="0.39"/><line x1="2152.5" y1="635.3" x2="2151.5" y2="649.2" stroke="#555555" stroke-width="3.6" stroke-linecap="round" stroke-opacity="0.68"/><line x1="2181.4" y1="641.0" x2="2173.4" y2="644.4" stroke="#444444" stroke-width="3.3" stroke-linecap="round" stroke-opacity="0.44"/><line x1="2121.5" y1="665.6" x2="2133.8" y2="659.4" stroke="#444444" stroke-width="5.6" stroke-linecap="round" stroke-opacity="0.39"/><line x1="2125.6" y1="679.4" x2="2133.1" y2="675.1" stroke="#444444" stroke-width="5.6" stroke-linecap="round" stroke-opacity="0.41"/><line x1="2165.2" y1="681.6" x2="2158.6" y2="674.1" stroke="#555555" stroke-width="5.9" stroke-linecap="round" stroke-opacity="0.49"/><line x1="2132.4" y1="650.8" x2="2137.5" y2="650.9" stroke="#555555" stroke-width="4.1" stroke-linecap="round" stroke-opacity="0.64"/><line x1="2144.7" y1="646.9" x2="2153.0" y2="654.0" stroke="#3c3c3c" stroke-width="4.7" stroke-linecap="round" stroke-opacity="0.66"/><line x1="2156.6" y1="677.2" x2="2158.9" y2="670.1" stroke="#4a4a4a" stroke-width="5.1" stroke-linecap="round" stroke-opacity="0.51"/><line x1="2131.5" y1="663.0" x2="2138.7" y2="663.1" stroke="#4a4a4a" stroke-width="4.3" stroke-linecap="round" stroke-opacity="0.68"/><line x1="2176.4" y1="662.3" x2="2166.3" y2="663.7" stroke="#333333" stroke-width="6.1" stroke-linecap="round" stroke-opacity="0.41"/><line x1="2166.8" y1="677.8" x2="2164.6" y2="669.4" stroke="#555555" stroke-width="3.2" stroke-linecap="round" stroke-opacity="0.48"/><line x1="2145.6" y1="647.6" x2="2149.4" y2="653.1" stroke="#4a4a4a" stroke-width="5.1" stroke-linecap="round" stroke-opacity="0.43"/><line x1="2146.4" y1="679.6" x2="2154.1" y2="669.8" stroke="#555555" stroke-width="5.4" stroke-linecap="round" stroke-opacity="0.66"/>
<line x1="2237.3" y1="650.9" x2="2234.6" y2="657.2" stroke="#3c3c3c" stroke-width="6.4" stroke-linecap="round" stroke-opacity="0.54"/><line x1="2227.9" y1="648.0" x2="2227.5" y2="652.9" stroke="#333333" stroke-width="3.1" stroke-linecap="round" stroke-opacity="0.40"/><line x1="2233.4" y1="639.5" x2="2233.4" y2="644.9" stroke="#555555" stroke-width="3.2" stroke-linecap="round" stroke-opacity="0.49"/><line x1="2242.7" y1="665.5" x2="2236.9" y2="664.8" stroke="#444444" stroke-width="6.2" stroke-linecap="round" stroke-opacity="0.43"/><line x1="2216.9" y1="677.4" x2="2226.8" y2="670.3" stroke="#444444" stroke-width="4.2" stroke-linecap="round" stroke-opacity="0.42"/><line x1="2195.6" y1="664.4" x2="2202.5" y2="664.7" stroke="#4a4a4a" stroke-width="5.9" stroke-linecap="round" stroke-opacity="0.69"/><line x1="2196.4" y1="659.0" x2="2209.7" y2="658.3" stroke="#444444" stroke-width="3.0" stroke-linecap="round" stroke-opacity="0.68"/><line x1="2257.9" y1="648.3" x2="2247.1" y2="654.1" stroke="#444444" stroke-width="3.6" stroke-linecap="round" stroke-opacity="0.65"/><line x1="2252.6" y1="685.3" x2="2241.6" y2="677.5" stroke="#444444" stroke-width="3.8" stroke-linecap="round" stroke-opacity="0.40"/><line x1="2243.3" y1="662.9" x2="2237.9" y2="664.9" stroke="#555555" stroke-width="5.5" stroke-linecap="round" stroke-opacity="0.60"/><line x1="2247.4" y1="670.0" x2="2241.6" y2="669.4" stroke="#444444" stroke-width="5.6" stroke-linecap="round" stroke-opacity="0.66"/><line x1="2236.9" y1="648.3" x2="2230.3" y2="653.5" stroke="#333333" stroke-width="3.7" stroke-linecap="round" stroke-opacity="0.38"/><line x1="2240.1" y1="643.5" x2="2236.4" y2="653.6" stroke="#333333" stroke-width="5.4" stroke-linecap="round" stroke-opacity="0.53"/><line x1="2197.1" y1="660.3" x2="2202.9" y2="660.7" stroke="#444444" stroke-width="6.4" stroke-linecap="round" stroke-opacity="0.68"/><line x1="2240.5" y1="653.3" x2="2235.4" y2="659.5" stroke="#3c3c3c" stroke-width="5.1" stroke-linecap="round" stroke-opacity="0.80"/><line x1="2250.5" y1="687.8" x2="2241.4" y2="681.4" stroke="#444444" stroke-width="5.1" stroke-linecap="round" stroke-opacity="0.69"/><line x1="2237.8" y1="630.4" x2="2234.4" y2="637.6" stroke="#333333" stroke-width="6.5" stroke-linecap="round" stroke-opacity="0.58"/><line x1="2241.3" y1="684.1" x2="2237.7" y2="679.4" stroke="#3c3c3c" stroke-width="5.2" stroke-linecap="round" stroke-opacity="0.41"/>
<line x1="2334.7" y1="441.4" x2="2346.0" y2="441.7" stroke="#444444" stroke-width="5.0" stroke-linecap="round" stroke-opacity="0.56"/><line x1="2368.5" y1="418.6" x2="2363.2" y2="425.4" stroke="#333333" stroke-width="5.2" stroke-linecap="round" stroke-opacity="0.51"/><line x1="2374.3" y1="436.9" x2="2369.5" y2="439.2" stroke="#555555" stroke-width="4.2" stroke-linecap="round" stroke-opacity="0.68"/><line x1="2387.9" y1="446.1" x2="2379.8" y2="447.0" stroke="#555555" stroke-width="6.5" stroke-linecap="round" stroke-opacity="0.54"/><line x1="2371.4" y1="447.2" x2="2364.3" y2="445.6" stroke="#4a4a4a" stroke-width="6.2" stroke-linecap="round" stroke-opacity="0.38"/><line x1="2344.2" y1="461.6" x2="2345.4" y2="456.5" stroke="#333333" stroke-width="5.3" stroke-linecap="round" stroke-opacity="0.54"/><line x1="2327.1" y1="437.7" x2="2332.4" y2="438.1" stroke="#4a4a4a" stroke-width="6.5" stroke-linecap="round" stroke-opacity="0.52"/><line x1="2329.9" y1="458.2" x2="2337.0" y2="447.9" stroke="#3c3c3c" stroke-width="4.2" stroke-linecap="round" stroke-opacity="0.58"/><line x1="2354.1" y1="417.1" x2="2354.2" y2="427.9" stroke="#333333" stroke-width="3.7" stroke-linecap="round" stroke-opacity="0.64"/><line x1="2368.3" y1="437.3" x2="2356.3" y2="441.9" stroke="#555555" stroke-width="3.2" stroke-linecap="round" stroke-opacity="0.80"/><line x1="2335.5" y1="451.7" x2="2342.9" y2="442.3" stroke="#444444" stroke-width="3.3" stroke-linecap="round" stroke-opacity="0.50"/><line x1="2383.2" y1="454.0" x2="2374.0" y2="452.0" stroke="#4a4a4a" stroke-width="5.3" stroke-linecap="round" stroke-opacity="0.49"/><line x1="2360.4" y1="416.2" x2="2359.1" y2="426.1" stroke="#333333" stroke-width="3.9" stroke-linecap="round" stroke-opacity="0.58"/><line x1="2338.7" y1="415.3" x2="2343.9" y2="427.4" stroke="#444444" stroke-width="6.0" stroke-linecap="round" stroke-opacity="0.61"/><line x1="2360.8" y1="477.1" x2="2357.8" y2="465.6" stroke="#444444" stroke-width="5.8" stroke-linecap="round" stroke-opacity="0.73"/><line x1="2383.2" y1="419.3" x2="2375.9" y2="428.5" stroke="#3c3c3c" stroke-width="4.3" stroke-linecap="round" stroke-opacity="0.42"/><line x1="2370.4" y1="465.5" x2="2365.5" y2="459.3" stroke="#555555" stroke-width="6.0" stroke-linecap="round" stroke-opacity="0.76"/><line x1="2328.5" y1="413.7" x2="2334.3" y2="418.5" stroke="#3c3c3c" stroke-width="3.9" stroke-linecap="round" stroke-opacity="0.62"/><line x1="2337.5" y1="449.7" x2="2342.4" y2="445.0" stroke="#555555" stroke-width="4.6" stroke-linecap="round" stroke-opacity="0.60"/>
<line x1="2331.2" y1="590.4" x2="2336.6" y2="583.7" stroke="#3c3c3c" stroke-width="6.3" stroke-linecap="round" stroke-opacity="0.45"/><line x1="2360.6" y1="577.4" x2="2354.4" y2="573.1" stroke="#444444" stroke-width="3.2" stroke-linecap="round" stroke-opacity="0.59"/><line x1="2339.6" y1="548.4" x2="2342.9" y2="557.9" stroke="#3c3c3c" stroke-width="6.4" stroke-linecap="round" stroke-opacity="0.75"/><line x1="2366.7" y1="555.9" x2="2355.2" y2="557.9" stroke="#4a4a4a" stroke-width="5.3" stroke-linecap="round" stroke-opacity="0.76"/><line x1="2376.9" y1="572.1" x2="2364.6" y2="573.3" stroke="#3c3c3c" stroke-width="3.9" stroke-linecap="round" stroke-opacity="0.52"/><line x1="2324.6" y1="540.7" x2="2331.8" y2="551.9" stroke="#444444" stroke-width="6.0" stroke-linecap="round" stroke-opacity="0.74"/><line x1="2316.8" y1="588.8" x2="2324.9" y2="585.7" stroke="#555555" stroke-width="4.1" stroke-linecap="round" stroke-opacity="0.77"/><line x1="2345.9" y1="543.1" x2="2348.4" y2="555.8" stroke="#333333" stroke-width="5.2" stroke-linecap="round" stroke-opacity="0.75"/><line x1="2347.6" y1="540.5" x2="2345.7" y2="545.5" stroke="#333333" stroke-width="4.6" stroke-linecap="round" stroke-opacity="0.54"/><line x1="2362.4" y1="538.0" x2="2353.0" y2="547.1" stroke="#3c3c3c" stroke-width="5.4" stroke-linecap="round" stroke-opacity="0.58"/><line x1="2327.5" y1="588.6" x2="2336.5" y2="579.9" stroke="#333333" stroke-width="5.4" stroke-linecap="round" stroke-opacity="0.69"/><line x1="2332.9" y1="550.1" x2="2337.9" y2="557.7" stroke="#4a4a4a" stroke-width="4.4" stroke-linecap="round" stroke-opacity="0.63"/><line x1="2338.5" y1="580.4" x2="2341.1" y2="574.4" stroke="#3c3c3c" stroke-width="6.0" stroke-linecap="round" stroke-opacity="0.66"/><line x1="2351.0" y1="543.3" x2="2347.0" y2="551.9" stroke="#555555" stroke-width="3.6" stroke-linecap="round" stroke-opacity="0.62"/><line x1="2334.9" y1="584.1" x2="2337.1" y2="578.7" stroke="#333333" stroke-width="6.1" stroke-linecap="round" stroke-opacity="0.78"/><line x1="2360.1" y1="551.6" x2="2347.5" y2="557.4" stroke="#444444" stroke-width="5.2" stroke-linecap="round" stroke-opacity="0.76"/><line x1="2364.3" y1="561.8" x2="2353.6" y2="566.3" stroke="#333333" stroke-width="5.2" stroke-linecap="round" stroke-opacity="0.62"/><line x1="2367.5" y1="595.7" x2="2363.8" y2="590.2" stroke="#4a4a4a" stroke-width="5.5" stroke-linecap="round" stroke-opacity="0.55"/><line x1="2367.6" y1="552.6" x2="2359.5" y2="560.4" stroke="#3c3c3c" stroke-width="3.7" stroke-linecap="round" stroke-opacity="0.74"/>
<circle cx="2290.0" cy="497.0" r="61.3" fill="#040404"/><circle cx="2240.6" cy="479.5" r="14.6" fill="#040404"/><circle cx="2245.6" cy="465.4" r="12.2" fill="#040404"/><circle cx="2267.3" cy="452.7" r="16.2" fill="#040404"/><circle cx="2306.0" cy="444.8" r="13.1" fill="#040404"/><circle cx="2314.2" cy="452.4" r="13.8" fill="#040404"/><circle cx="2338.1" cy="478.6" r="14.9" fill="#040404"/><circle cx="2338.0" cy="501.3" r="15.9" fill="#040404"/><circle cx="2335.7" cy="523.3" r="14.7" fill="#040404"/><circle cx="2323.5" cy="537.2" r="13.1" fill="#040404"/><circle cx="2295.9" cy="550.8" r="11.8" fill="#040404"/><circle cx="2268.3" cy="543.6" r="13.1" fill="#040404"/><circle cx="2246.1" cy="527.0" r="13.0" fill="#040404"/><circle cx="2240.2" cy="505.9" r="15.4" fill="#040404"/>
<circle cx="2320.0" cy="629.5" r="49.6" fill="#040404"/><circle cx="2278.1" cy="624.1" r="10.8" fill="#040404"/><circle cx="2291.1" cy="600.0" r="10.5" fill="#040404"/><circle cx="2310.7" cy="585.9" r="10.3" fill="#040404"/><circle cx="2327.9" cy="588.7" r="11.1" fill="#040404"/><circle cx="2346.8" cy="596.0" r="10.7" fill="#040404"/><circle cx="2356.5" cy="614.3" r="13.1" fill="#040404"/><circle cx="2364.5" cy="627.2" r="9.8" fill="#040404"/><circle cx="2359.8" cy="645.6" r="10.4" fill="#040404"/><circle cx="2335.6" cy="664.8" r="12.7" fill="#040404"/><circle cx="2326.3" cy="669.7" r="11.3" fill="#040404"/><circle cx="2299.8" cy="663.7" r="12.5" fill="#040404"/><circle cx="2285.3" cy="650.1" r="13.1" fill="#040404"/><circle cx="2277.9" cy="636.4" r="9.9" fill="#040404"/>
<circle cx="2290.0" cy="590.0" r="37.8" fill="#040404"/><circle cx="2293.9" cy="559.4" r="8.8" fill="#040404"/><circle cx="2314.5" cy="568.6" r="9.1" fill="#040404"/><circle cx="2318.3" cy="578.0" r="9.4" fill="#040404"/><circle cx="2322.2" cy="595.5" r="7.5" fill="#040404"/><circle cx="2315.9" cy="609.3" r="9.2" fill="#040404"/><circle cx="2301.1" cy="618.8" r="9.4" fill="#040404"/><circle cx="2289.2" cy="622.8" r="7.5" fill="#040404"/><circle cx="2267.5" cy="612.0" r="9.4" fill="#040404"/><circle cx="2260.8" cy="597.4" r="9.6" fill="#040404"/><circle cx="2256.9" cy="588.1" r="7.2" fill="#040404"/><circle cx="2264.7" cy="571.6" r="10.2" fill="#040404"/><circle cx="2285.1" cy="560.4" r="10.4" fill="#040404"/>
</g>
<rect x="1744.8" y="620.2" width="82.8" height="18.4" fill="#000"/>
</g>
<g id="tem2" clip-path="url(#ci2)">
<rect x="1725.1" y="692.0" width="638.8" height="638.8" fill="#c8c8c8" filter="url(#n2)"/>
<g filter="url(#b30)"><ellipse cx="1790" cy="1240" rx="120" ry="120" fill="#fff" opacity="0.10"/><ellipse cx="2330" cy="1240" rx="120" ry="120" fill="#fff" opacity="0.15"/><ellipse cx="1780" cy="760" rx="120" ry="100" fill="#000" opacity="0.06"/></g>
<g filter="url(#b3)">
<path d="M2235.2 706.3 C2241.6 701.4 2246.8 700.0 2261.0 704.4 C2275.2 708.8 2276.3 710.5 2288.6 722.8 C2300.9 735.1 2299.6 738.2 2307.0 750.5 C2314.4 762.8 2313.2 760.6 2316.2 768.9 C2319.2 777.2 2319.1 774.4 2318.1 781.8 C2317.1 789.2 2315.6 787.7 2312.6 796.5 C2309.6 805.3 2310.9 805.1 2307.0 814.9 C2303.1 824.7 2303.7 823.5 2297.8 833.3 C2291.9 843.1 2290.3 846.8 2284.9 851.7 C2279.5 856.6 2282.5 855.6 2277.6 851.7 C2272.7 847.8 2271.9 845.8 2266.5 837.0 C2261.1 828.2 2262.2 827.4 2257.3 818.6 C2252.4 809.8 2254.5 811.3 2248.1 803.9 C2241.7 796.5 2239.8 796.4 2233.4 791.0 C2227.0 785.6 2223.7 788.0 2224.2 783.6 C2224.7 779.2 2230.8 780.8 2235.2 774.4 C2239.6 768.0 2239.2 768.6 2240.7 759.7 C2242.2 750.8 2241.7 751.0 2240.7 741.2 C2239.7 731.4 2238.5 732.1 2237.0 722.8 C2235.5 713.5 2228.8 711.2 2235.2 706.3Z" fill="#000" fill-opacity="0.07" stroke="#fff" stroke-opacity="0.35" stroke-width="3"/>
<path d="M2190.0 735.0 C2195.1 726.5 2203.0 728.0 2215.0 728.0 C2227.0 728.0 2228.3 727.8 2235.0 735.0 C2241.7 742.2 2239.7 745.1 2240.0 755.0 C2240.3 764.9 2240.3 764.5 2236.0 772.0 C2231.7 779.5 2230.9 782.2 2224.0 783.0 C2217.1 783.8 2217.5 781.1 2210.0 775.0 C2202.5 768.9 2201.3 770.7 2196.0 760.0 C2190.7 749.3 2184.9 743.5 2190.0 735.0Z" fill="#fff" fill-opacity="0.16"/>
<path d="M1797.0 868.0 C1790.9 861.6 1787.6 870.1 1782.0 876.0 C1776.4 881.9 1779.7 879.6 1776.0 890.0 C1772.3 900.4 1772.8 903.0 1768.0 915.0 C1763.2 927.0 1763.3 924.3 1758.0 935.0 C1752.7 945.7 1752.3 944.3 1748.0 955.0 C1743.7 965.7 1743.6 964.3 1742.0 975.0 C1740.4 985.7 1740.7 983.5 1742.0 995.0 C1743.3 1006.5 1743.3 1007.3 1747.0 1018.0 C1750.7 1028.7 1749.3 1027.8 1756.0 1035.0 C1762.7 1042.2 1762.9 1043.7 1772.0 1045.0 C1781.1 1046.3 1782.5 1052.0 1790.0 1040.0 C1797.5 1028.0 1797.3 1024.0 1800.0 1000.0 C1802.7 976.0 1798.7 976.7 1800.0 950.0 C1801.3 923.3 1805.8 921.9 1805.0 900.0 C1804.2 878.1 1803.1 874.4 1797.0 868.0Z" fill="#000" fill-opacity="0.38" stroke="#fff" stroke-opacity="0.3" stroke-width="3"/>
<path d="M2119.0 1275.0 C2132.3 1264.3 2156.4 1264.7 2170.0 1270.0 C2183.6 1275.3 2172.1 1284.3 2170.0 1295.0 C2167.9 1305.7 2167.3 1303.3 2162.0 1310.0 C2156.7 1316.7 2158.0 1316.8 2150.0 1320.0 C2142.0 1323.2 2140.0 1324.7 2132.0 1322.0 C2124.0 1319.3 2123.5 1322.5 2120.0 1310.0 C2116.5 1297.5 2105.7 1285.7 2119.0 1275.0Z" fill="#000" fill-opacity="0.28" stroke="#fff" stroke-opacity="0.4" stroke-width="3"/>
<path d="M2066.0 1300.0 C2078.8 1290.7 2104.1 1290.7 2118.0 1300.0 C2131.9 1309.3 2130.8 1325.7 2118.0 1335.0 C2105.2 1344.3 2083.9 1344.3 2070.0 1335.0 C2056.1 1325.7 2053.2 1309.3 2066.0 1300.0Z" fill="#000" fill-opacity="0.2" stroke="#fff" stroke-opacity="0.4" stroke-width="3"/>
</g>
<path d="M2067.6 706.1 C2075.2 708.6 2086.2 712.3 2095.5 715.8 C2104.9 719.3 2114.5 724.3 2123.7 726.9 C2132.9 729.5 2143.2 729.2 2150.8 731.3 C2158.3 733.4 2164.0 735.7 2169.0 739.2 C2174.0 742.7 2176.1 748.1 2180.9 752.4 C2185.6 756.7 2191.6 760.3 2197.6 765.2 C2203.5 770.0 2210.5 777.3 2216.6 781.5 C2222.6 785.7 2228.7 786.6 2234.0 790.3 C2239.3 793.9 2244.5 798.9 2248.5 803.5 C2252.6 808.0 2255.0 812.3 2258.3 817.7 C2261.6 823.0 2264.8 830.1 2268.2 835.6 C2271.6 841.2 2275.8 846.5 2278.7 851.0 C2281.5 855.5 2284.2 858.3 2285.3 862.6 C2286.3 866.8 2284.2 871.3 2285.1 876.4 C2286.0 881.5 2288.5 888.1 2290.7 893.1 C2293.0 898.2 2296.7 901.4 2298.6 906.7 C2300.4 912.0 2300.3 918.7 2301.8 924.8 C2303.2 930.8 2305.3 938.3 2307.5 943.3 C2309.8 948.2 2313.3 949.7 2315.4 954.7 C2317.4 959.7 2318.3 967.3 2319.7 973.1 C2321.2 979.0 2322.1 984.3 2323.8 989.8 C2325.5 995.4 2328.8 1002.7 2330.1 1006.4 C2331.5 1010.1 2331.0 1008.1 2332.0 1012.1 C2333.0 1016.0 2334.8 1024.3 2336.2 1030.0 C2337.7 1035.8 2340.6 1040.4 2340.7 1046.6 C2340.7 1052.8 2337.2 1061.0 2336.3 1067.2 C2335.4 1073.3 2336.7 1078.3 2335.4 1083.5 C2334.1 1088.7 2331.4 1092.9 2328.5 1098.5 C2325.6 1104.2 2320.9 1111.5 2318.1 1117.3 C2315.3 1123.2 2314.8 1128.1 2311.7 1133.6 C2308.6 1139.2 2303.4 1144.7 2299.6 1150.7 C2295.8 1156.7 2291.5 1164.1 2289.0 1169.7 C2286.5 1175.2 2285.8 1178.8 2284.8 1184.1 C2283.8 1189.4 2285.0 1196.3 2283.3 1201.3 C2281.5 1206.4 2278.0 1210.2 2274.4 1214.6 C2270.8 1219.0 2266.3 1223.7 2261.8 1227.8 C2257.2 1231.9 2252.0 1235.8 2247.2 1239.0 C2242.3 1242.2 2237.0 1244.2 2232.7 1247.0 C2228.4 1249.8 2225.7 1252.9 2221.3 1255.8 C2216.9 1258.8 2211.3 1262.1 2206.3 1264.9 C2201.4 1267.7 2196.2 1270.6 2191.7 1272.5 C2187.1 1274.4 2183.9 1274.1 2179.0 1276.4 C2174.0 1278.6 2168.3 1283.5 2161.9 1286.0 C2155.5 1288.6 2147.3 1289.7 2140.5 1291.7 C2133.8 1293.6 2127.3 1295.9 2121.4 1297.6 C2115.4 1299.4 2110.6 1300.8 2104.8 1302.2 C2098.9 1303.6 2092.3 1304.6 2086.2 1305.8 C2080.0 1306.9 2073.7 1308.6 2067.6 1308.9 C2061.6 1309.3 2055.8 1308.2 2050.0 1307.8 C2044.2 1307.4 2038.8 1306.4 2032.9 1306.7 C2027.0 1307.0 2020.7 1309.4 2014.6 1309.6 C2008.4 1309.9 2002.3 1308.7 1995.9 1308.3 C1989.5 1307.9 1982.5 1307.0 1976.1 1307.2 C1969.8 1307.4 1965.5 1310.1 1957.8 1309.5 C1950.0 1308.9 1937.6 1305.9 1929.8 1303.8 C1922.0 1301.6 1917.1 1299.2 1910.9 1296.6 C1904.7 1294.1 1898.1 1292.3 1892.5 1288.6 C1886.8 1284.9 1881.4 1278.4 1876.9 1274.5 C1872.5 1270.5 1868.7 1268.2 1865.8 1264.9 C1862.9 1261.5 1862.3 1257.6 1859.4 1254.6 C1856.5 1251.5 1852.7 1249.6 1848.5 1246.5 C1844.4 1243.5 1838.1 1239.8 1834.4 1236.2 C1830.8 1232.7 1829.3 1229.9 1826.6 1225.4 C1823.9 1220.8 1821.4 1214.4 1818.3 1209.2 C1815.1 1203.9 1810.4 1198.8 1807.5 1193.7 C1804.7 1188.7 1803.7 1184.3 1801.4 1179.1 C1799.0 1173.8 1796.7 1167.9 1793.4 1162.4 C1790.2 1157.0 1784.7 1152.3 1781.9 1146.5 C1779.0 1140.7 1777.2 1133.5 1776.5 1127.6 C1775.8 1121.8 1776.9 1118.4 1777.4 1111.1 C1778.0 1103.9 1779.9 1092.4 1779.7 1084.2 C1779.6 1075.9 1777.8 1070.1 1776.7 1061.7 C1775.6 1053.3 1774.3 1041.4 1773.2 1033.8 C1772.1 1026.2 1771.1 1022.5 1770.0 1016.1 C1768.9 1009.7 1767.5 1002.5 1766.8 995.4 C1766.1 988.2 1765.7 980.3 1766.0 973.2 C1766.2 966.1 1767.3 958.9 1768.2 952.8 C1769.1 946.6 1770.2 941.8 1771.2 936.2 C1772.3 930.7 1773.3 924.5 1774.5 919.6 C1775.7 914.6 1777.2 911.3 1778.3 906.4 C1779.4 901.5 1780.0 894.9 1781.2 890.2 C1782.4 885.5 1783.9 882.3 1785.6 878.2 C1787.4 874.0 1789.9 870.1 1791.8 865.5 C1793.7 860.9 1795.7 855.9 1797.1 850.5 C1798.5 845.0 1798.5 838.6 1800.0 832.7 C1801.6 826.7 1803.9 819.6 1806.3 814.7 C1808.8 809.8 1811.2 807.4 1814.9 803.2 C1818.7 799.0 1824.1 794.8 1829.0 789.5 C1833.8 784.2 1839.8 776.2 1844.3 771.4 C1848.7 766.5 1851.2 764.1 1855.6 760.4 C1859.9 756.7 1865.3 752.6 1870.2 749.2 C1875.1 745.8 1879.5 743.0 1885.0 740.0 C1890.5 737.0 1897.2 734.2 1903.4 731.3 C1909.6 728.4 1915.9 724.8 1922.1 722.5 C1928.2 720.1 1932.8 719.2 1940.5 717.1 C1948.1 715.1 1958.9 712.0 1968.1 710.0 C1977.4 707.9 1986.6 706.2 1995.9 704.8 C2005.1 703.3 2014.8 701.9 2023.8 701.2 C2032.8 700.6 2042.7 700.1 2050.0 700.9 C2057.3 701.7 2060.1 703.6 2067.6 706.1Z" fill="none" stroke="#fff" stroke-opacity="0.55" stroke-width="7" filter="url(#b2)"/>
<path d="M2067.6 706.1 C2075.2 708.6 2086.2 712.3 2095.5 715.8 C2104.9 719.3 2114.5 724.3 2123.7 726.9 C2132.9 729.5 2143.2 729.2 2150.8 731.3 C2158.3 733.4 2164.0 735.7 2169.0 739.2 C2174.0 742.7 2176.1 748.1 2180.9 752.4 C2185.6 756.7 2191.6 760.3 2197.6 765.2 C2203.5 770.0 2210.5 777.3 2216.6 781.5 C2222.6 785.7 2228.7 786.6 2234.0 790.3 C2239.3 793.9 2244.5 798.9 2248.5 803.5 C2252.6 808.0 2255.0 812.3 2258.3 817.7 C2261.6 823.0 2264.8 830.1 2268.2 835.6 C2271.6 841.2 2275.8 846.5 2278.7 851.0 C2281.5 855.5 2284.2 858.3 2285.3 862.6 C2286.3 866.8 2284.2 871.3 2285.1 876.4 C2286.0 881.5 2288.5 888.1 2290.7 893.1 C2293.0 898.2 2296.7 901.4 2298.6 906.7 C2300.4 912.0 2300.3 918.7 2301.8 924.8 C2303.2 930.8 2305.3 938.3 2307.5 943.3 C2309.8 948.2 2313.3 949.7 2315.4 954.7 C2317.4 959.7 2318.3 967.3 2319.7 973.1 C2321.2 979.0 2322.1 984.3 2323.8 989.8 C2325.5 995.4 2328.8 1002.7 2330.1 1006.4 C2331.5 1010.1 2331.0 1008.1 2332.0 1012.1 C2333.0 1016.0 2334.8 1024.3 2336.2 1030.0 C2337.7 1035.8 2340.6 1040.4 2340.7 1046.6 C2340.7 1052.8 2337.2 1061.0 2336.3 1067.2 C2335.4 1073.3 2336.7 1078.3 2335.4 1083.5 C2334.1 1088.7 2331.4 1092.9 2328.5 1098.5 C2325.6 1104.2 2320.9 1111.5 2318.1 1117.3 C2315.3 1123.2 2314.8 1128.1 2311.7 1133.6 C2308.6 1139.2 2303.4 1144.7 2299.6 1150.7 C2295.8 1156.7 2291.5 1164.1 2289.0 1169.7 C2286.5 1175.2 2285.8 1178.8 2284.8 1184.1 C2283.8 1189.4 2285.0 1196.3 2283.3 1201.3 C2281.5 1206.4 2278.0 1210.2 2274.4 1214.6 C2270.8 1219.0 2266.3 1223.7 2261.8 1227.8 C2257.2 1231.9 2252.0 1235.8 2247.2 1239.0 C2242.3 1242.2 2237.0 1244.2 2232.7 1247.0 C2228.4 1249.8 2225.7 1252.9 2221.3 1255.8 C2216.9 1258.8 2211.3 1262.1 2206.3 1264.9 C2201.4 1267.7 2196.2 1270.6 2191.7 1272.5 C2187.1 1274.4 2183.9 1274.1 2179.0 1276.4 C2174.0 1278.6 2168.3 1283.5 2161.9 1286.0 C2155.5 1288.6 2147.3 1289.7 2140.5 1291.7 C2133.8 1293.6 2127.3 1295.9 2121.4 1297.6 C2115.4 1299.4 2110.6 1300.8 2104.8 1302.2 C2098.9 1303.6 2092.3 1304.6 2086.2 1305.8 C2080.0 1306.9 2073.7 1308.6 2067.6 1308.9 C2061.6 1309.3 2055.8 1308.2 2050.0 1307.8 C2044.2 1307.4 2038.8 1306.4 2032.9 1306.7 C2027.0 1307.0 2020.7 1309.4 2014.6 1309.6 C2008.4 1309.9 2002.3 1308.7 1995.9 1308.3 C1989.5 1307.9 1982.5 1307.0 1976.1 1307.2 C1969.8 1307.4 1965.5 1310.1 1957.8 1309.5 C1950.0 1308.9 1937.6 1305.9 1929.8 1303.8 C1922.0 1301.6 1917.1 1299.2 1910.9 1296.6 C1904.7 1294.1 1898.1 1292.3 1892.5 1288.6 C1886.8 1284.9 1881.4 1278.4 1876.9 1274.5 C1872.5 1270.5 1868.7 1268.2 1865.8 1264.9 C1862.9 1261.5 1862.3 1257.6 1859.4 1254.6 C1856.5 1251.5 1852.7 1249.6 1848.5 1246.5 C1844.4 1243.5 1838.1 1239.8 1834.4 1236.2 C1830.8 1232.7 1829.3 1229.9 1826.6 1225.4 C1823.9 1220.8 1821.4 1214.4 1818.3 1209.2 C1815.1 1203.9 1810.4 1198.8 1807.5 1193.7 C1804.7 1188.7 1803.7 1184.3 1801.4 1179.1 C1799.0 1173.8 1796.7 1167.9 1793.4 1162.4 C1790.2 1157.0 1784.7 1152.3 1781.9 1146.5 C1779.0 1140.7 1777.2 1133.5 1776.5 1127.6 C1775.8 1121.8 1776.9 1118.4 1777.4 1111.1 C1778.0 1103.9 1779.9 1092.4 1779.7 1084.2 C1779.6 1075.9 1777.8 1070.1 1776.7 1061.7 C1775.6 1053.3 1774.3 1041.4 1773.2 1033.8 C1772.1 1026.2 1771.1 1022.5 1770.0 1016.1 C1768.9 1009.7 1767.5 1002.5 1766.8 995.4 C1766.1 988.2 1765.7 980.3 1766.0 973.2 C1766.2 966.1 1767.3 958.9 1768.2 952.8 C1769.1 946.6 1770.2 941.8 1771.2 936.2 C1772.3 930.7 1773.3 924.5 1774.5 919.6 C1775.7 914.6 1777.2 911.3 1778.3 906.4 C1779.4 901.5 1780.0 894.9 1781.2 890.2 C1782.4 885.5 1783.9 882.3 1785.6 878.2 C1787.4 874.0 1789.9 870.1 1791.8 865.5 C1793.7 860.9 1795.7 855.9 1797.1 850.5 C1798.5 845.0 1798.5 838.6 1800.0 832.7 C1801.6 826.7 1803.9 819.6 1806.3 814.7 C1808.8 809.8 1811.2 807.4 1814.9 803.2 C1818.7 799.0 1824.1 794.8 1829.0 789.5 C1833.8 784.2 1839.8 776.2 1844.3 771.4 C1848.7 766.5 1851.2 764.1 1855.6 760.4 C1859.9 756.7 1865.3 752.6 1870.2 749.2 C1875.1 745.8 1879.5 743.0 1885.0 740.0 C1890.5 737.0 1897.2 734.2 1903.4 731.3 C1909.6 728.4 1915.9 724.8 1922.1 722.5 C1928.2 720.1 1932.8 719.2 1940.5 717.1 C1948.1 715.1 1958.9 712.0 1968.1 710.0 C1977.4 707.9 1986.6 706.2 1995.9 704.8 C2005.1 703.3 2014.8 701.9 2023.8 701.2 C2032.8 700.6 2042.7 700.1 2050.0 700.9 C2057.3 701.7 2060.1 703.6 2067.6 706.1Z" fill="#000" filter="url(#rim2)"/>
<rect x="1742.8" y="1294.0" width="83.4" height="17.6" fill="#000"/>
</g>
<g id="tem3" clip-path="url(#ci3)">
<rect x="1725.0" y="1353.4" width="638.9" height="637.4" fill="#d4d4d4" filter="url(#n3)"/>
<g filter="url(#b30)"><ellipse cx="2370" cy="1500" rx="60" ry="220" fill="#fff" opacity="0.5"/><ellipse cx="2300" cy="1960" rx="160" ry="60" fill="#000" opacity="0.05"/></g>
<path d="M2255.0 1250.0 C2362.8 1267.2 2261.5 1333.4 2266.5 1353.4 C2271.5 1373.4 2279.1 1364.1 2284.9 1369.9 C2290.7 1375.7 2296.3 1382.2 2301.5 1388.4 C2306.7 1394.6 2311.9 1400.7 2316.2 1406.8 C2320.5 1412.9 2324.2 1418.2 2327.3 1425.2 C2330.4 1432.2 2332.2 1442.0 2334.7 1449.1 C2337.1 1456.1 2339.2 1461.7 2342.0 1467.5 C2344.8 1473.3 2348.4 1478.3 2351.2 1484.1 C2354.0 1489.9 2357.7 1496.3 2358.6 1502.5 C2359.5 1508.7 2359.0 1515.5 2356.8 1521.0 C2354.7 1526.5 2349.1 1531.1 2345.7 1535.7 C2342.3 1540.3 2338.7 1543.4 2336.5 1548.6 C2334.3 1553.8 2332.5 1561.2 2332.8 1567.0 C2333.1 1572.8 2336.8 1577.5 2338.3 1583.6 C2339.8 1589.7 2341.4 1597.4 2342.0 1603.8 C2342.6 1610.2 2342.6 1616.0 2342.0 1622.2 C2341.4 1628.4 2339.8 1634.6 2338.3 1640.7 C2336.8 1646.8 2334.3 1654.0 2332.8 1659.1 C2331.3 1664.1 2327.6 1667.4 2329.1 1671.0 C2330.6 1674.6 2339.2 1676.9 2342.0 1680.7 C2344.8 1684.5 2346.9 1688.4 2345.7 1693.6 C2344.5 1698.8 2339.6 1707.7 2334.7 1712.0 C2329.8 1716.3 2322.0 1716.9 2316.2 1719.4 C2310.4 1721.9 2303.4 1722.5 2299.7 1726.8 C2296.0 1731.1 2296.6 1739.1 2294.1 1745.2 C2291.6 1751.3 2288.9 1756.8 2284.9 1763.6 C2280.9 1770.3 2274.8 1778.6 2270.2 1785.7 C2265.6 1792.8 2261.9 1798.9 2257.3 1806.0 C2252.7 1813.1 2247.5 1820.7 2242.6 1828.1 C2237.7 1835.5 2233.0 1843.8 2227.8 1850.2 C2222.6 1856.6 2216.2 1861.2 2211.3 1866.7 C2206.4 1872.2 2203.0 1877.8 2198.4 1883.3 C2193.8 1888.8 2187.6 1895.0 2183.6 1899.9 C2179.6 1904.8 2176.2 1908.8 2174.4 1912.8 C2172.6 1916.8 2175.1 1920.4 2172.6 1923.8 C2170.1 1927.2 2164.6 1931.5 2159.7 1933.0 C2154.8 1934.5 2147.7 1931.5 2143.1 1933.0 C2138.5 1934.5 2137.0 1939.4 2132.1 1942.2 C2127.2 1945.0 2119.8 1948.0 2113.7 1949.6 C2107.5 1951.1 2101.3 1949.7 2095.2 1951.5 C2089.0 1953.3 2082.9 1959.5 2076.8 1960.7 C2070.7 1961.9 2063.0 1960.7 2058.4 1958.8 C2053.8 1956.9 2052.8 1952.4 2049.2 1949.6 C2045.6 1946.8 2041.0 1942.2 2036.8 1942.2 C2032.6 1942.2 2029.1 1946.8 2023.9 1949.6 C2018.7 1952.4 2011.7 1956.6 2005.5 1958.8 C1999.3 1961.0 1993.2 1962.2 1987.0 1962.5 C1980.8 1962.8 1974.7 1960.4 1968.6 1960.7 C1962.5 1961.0 1955.7 1963.7 1950.2 1964.3 C1944.7 1964.9 1939.8 1963.4 1935.5 1964.3 C1931.2 1965.2 1928.1 1970.2 1924.4 1969.9 C1920.7 1969.6 1918.3 1964.3 1913.4 1962.5 C1908.5 1960.7 1900.5 1959.7 1895.0 1958.8 C1889.5 1957.9 1884.8 1958.2 1880.2 1957.0 C1875.6 1955.8 1871.9 1951.5 1867.3 1951.5 C1862.7 1951.5 1857.2 1955.2 1852.6 1957.0 C1848.0 1958.8 1843.7 1962.8 1839.7 1962.5 C1835.7 1962.2 1833.3 1957.5 1828.7 1955.1 C1824.1 1952.6 1817.9 1949.9 1812.1 1947.8 C1806.3 1945.7 1799.8 1943.7 1793.7 1942.2 C1787.6 1940.7 1781.4 1939.5 1775.2 1938.6 C1769.0 1937.7 1762.9 1937.6 1756.8 1936.7 C1750.7 1935.8 1743.7 1933.9 1738.4 1933.0 C1733.1 1932.1 1744.9 1934.2 1725.2 1931.2 C1705.5 1928.2 1637.5 2028.5 1620.0 1915.0 C1602.5 1801.5 1514.2 1360.8 1620.0 1250.0 C1725.8 1139.2 2147.2 1232.8 2255.0 1250.0Z" fill="#000" fill-opacity="0.2" stroke="#fff" stroke-opacity="0.7" stroke-width="4" filter="url(#b1_5)"/>
<path d="M2255.0 1250.0 C2362.8 1267.2 2261.5 1333.4 2266.5 1353.4 C2271.5 1373.4 2279.1 1364.1 2284.9 1369.9 C2290.7 1375.7 2296.3 1382.2 2301.5 1388.4 C2306.7 1394.6 2311.9 1400.7 2316.2 1406.8 C2320.5 1412.9 2324.2 1418.2 2327.3 1425.2 C2330.4 1432.2 2332.2 1442.0 2334.7 1449.1 C2337.1 1456.1 2339.2 1461.7 2342.0 1467.5 C2344.8 1473.3 2348.4 1478.3 2351.2 1484.1 C2354.0 1489.9 2357.7 1496.3 2358.6 1502.5 C2359.5 1508.7 2359.0 1515.5 2356.8 1521.0 C2354.7 1526.5 2349.1 1531.1 2345.7 1535.7 C2342.3 1540.3 2338.7 1543.4 2336.5 1548.6 C2334.3 1553.8 2332.5 1561.2 2332.8 1567.0 C2333.1 1572.8 2336.8 1577.5 2338.3 1583.6 C2339.8 1589.7 2341.4 1597.4 2342.0 1603.8 C2342.6 1610.2 2342.6 1616.0 2342.0 1622.2 C2341.4 1628.4 2339.8 1634.6 2338.3 1640.7 C2336.8 1646.8 2334.3 1654.0 2332.8 1659.1 C2331.3 1664.1 2327.6 1667.4 2329.1 1671.0 C2330.6 1674.6 2339.2 1676.9 2342.0 1680.7 C2344.8 1684.5 2346.9 1688.4 2345.7 1693.6 C2344.5 1698.8 2339.6 1707.7 2334.7 1712.0 C2329.8 1716.3 2322.0 1716.9 2316.2 1719.4 C2310.4 1721.9 2303.4 1722.5 2299.7 1726.8 C2296.0 1731.1 2296.6 1739.1 2294.1 1745.2 C2291.6 1751.3 2288.9 1756.8 2284.9 1763.6 C2280.9 1770.3 2274.8 1778.6 2270.2 1785.7 C2265.6 1792.8 2261.9 1798.9 2257.3 1806.0 C2252.7 1813.1 2247.5 1820.7 2242.6 1828.1 C2237.7 1835.5 2233.0 1843.8 2227.8 1850.2 C2222.6 1856.6 2216.2 1861.2 2211.3 1866.7 C2206.4 1872.2 2203.0 1877.8 2198.4 1883.3 C2193.8 1888.8 2187.6 1895.0 2183.6 1899.9 C2179.6 1904.8 2176.2 1908.8 2174.4 1912.8 C2172.6 1916.8 2175.1 1920.4 2172.6 1923.8 C2170.1 1927.2 2164.6 1931.5 2159.7 1933.0 C2154.8 1934.5 2147.7 1931.5 2143.1 1933.0 C2138.5 1934.5 2137.0 1939.4 2132.1 1942.2 C2127.2 1945.0 2119.8 1948.0 2113.7 1949.6 C2107.5 1951.1 2101.3 1949.7 2095.2 1951.5 C2089.0 1953.3 2082.9 1959.5 2076.8 1960.7 C2070.7 1961.9 2063.0 1960.7 2058.4 1958.8 C2053.8 1956.9 2052.8 1952.4 2049.2 1949.6 C2045.6 1946.8 2041.0 1942.2 2036.8 1942.2 C2032.6 1942.2 2029.1 1946.8 2023.9 1949.6 C2018.7 1952.4 2011.7 1956.6 2005.5 1958.8 C1999.3 1961.0 1993.2 1962.2 1987.0 1962.5 C1980.8 1962.8 1974.7 1960.4 1968.6 1960.7 C1962.5 1961.0 1955.7 1963.7 1950.2 1964.3 C1944.7 1964.9 1939.8 1963.4 1935.5 1964.3 C1931.2 1965.2 1928.1 1970.2 1924.4 1969.9 C1920.7 1969.6 1918.3 1964.3 1913.4 1962.5 C1908.5 1960.7 1900.5 1959.7 1895.0 1958.8 C1889.5 1957.9 1884.8 1958.2 1880.2 1957.0 C1875.6 1955.8 1871.9 1951.5 1867.3 1951.5 C1862.7 1951.5 1857.2 1955.2 1852.6 1957.0 C1848.0 1958.8 1843.7 1962.8 1839.7 1962.5 C1835.7 1962.2 1833.3 1957.5 1828.7 1955.1 C1824.1 1952.6 1817.9 1949.9 1812.1 1947.8 C1806.3 1945.7 1799.8 1943.7 1793.7 1942.2 C1787.6 1940.7 1781.4 1939.5 1775.2 1938.6 C1769.0 1937.7 1762.9 1937.6 1756.8 1936.7 C1750.7 1935.8 1743.7 1933.9 1738.4 1933.0 C1733.1 1932.1 1744.9 1934.2 1725.2 1931.2 C1705.5 1928.2 1637.5 2028.5 1620.0 1915.0 C1602.5 1801.5 1514.2 1360.8 1620.0 1250.0 C1725.8 1139.2 2147.2 1232.8 2255.0 1250.0Z" fill="#000" filter="url(#rim3)"/>
<g filter="url(#b12)"><ellipse cx="1745" cy="1905" rx="75" ry="26" fill="#fff" opacity="0.13" transform="rotate(12 1745 1905)"/><ellipse cx="2325" cy="1500" rx="22" ry="110" fill="#fff" opacity="0.12"/></g>
<rect x="1744.8" y="1952.6" width="82.8" height="18.2" fill="#000"/>
</g>
</svg>
</body></html>
